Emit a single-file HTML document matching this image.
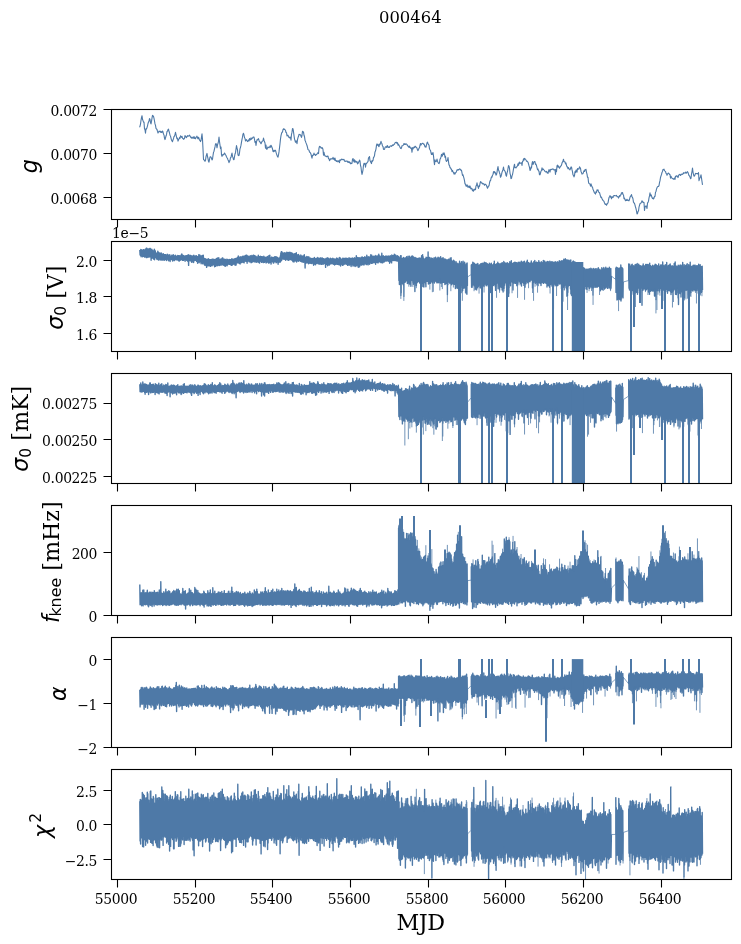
<!DOCTYPE html><html><head><meta charset="utf-8"><style>html,body{margin:0;padding:0;background:#fff}svg{display:block}</style></head><body><svg width="741" height="944" viewBox="0 0 741 944">
<style>text{font-family:"DejaVu Serif",serif;fill:#000}.t{font-size:13.9px;letter-spacing:-0.35px}.m{font-family:"DejaVu Sans",sans-serif;font-style:italic}.r{font-family:"DejaVu Sans",sans-serif}</style>
<rect width="741" height="944" fill="#fff"/>
<defs>
<clipPath id="c0"><rect x="111.50" y="109.50" width="620.00" height="110.00"/></clipPath>
<clipPath id="c1"><rect x="111.50" y="241.50" width="620.00" height="110.00"/></clipPath>
<clipPath id="c2"><rect x="111.50" y="373.50" width="620.00" height="110.00"/></clipPath>
<clipPath id="c3"><rect x="111.50" y="505.50" width="620.00" height="110.00"/></clipPath>
<clipPath id="c4"><rect x="111.50" y="637.50" width="620.00" height="110.00"/></clipPath>
<clipPath id="c5"><rect x="111.50" y="769.50" width="620.00" height="110.00"/></clipPath>
</defs>
<text x="410.3" y="22.9" text-anchor="middle" style="font-size:16.4px">000464</text>
<g clip-path="url(#c0)"><polyline points="139.5,127.3 140.0,126.2 140.5,124.1 141.0,120.3 141.5,117.6 142.0,115.7 142.5,119.3 143.0,120.6 143.5,122.1 144.0,122.0 144.5,129.0 145.0,129.7 145.5,133.1 146.0,128.5 146.5,129.0 147.0,127.6 147.5,125.8 148.0,123.5 148.5,122.0 149.0,121.0 149.5,118.5 150.0,119.3 150.5,122.7 151.0,123.9 151.5,121.4 152.0,118.2 152.5,115.4 153.0,115.8 153.5,116.4 154.0,118.4 154.5,121.0 155.0,123.9 155.5,125.4 156.0,128.4 156.5,129.0 157.0,129.5 157.5,131.4 158.0,133.0 158.5,132.0 159.0,131.2 159.5,131.6 160.0,131.2 160.5,132.3 161.0,131.4 161.5,132.5 162.0,132.3 162.5,131.0 163.0,132.1 163.5,134.2 164.0,135.0 164.5,138.2 165.0,139.6 165.5,137.8 166.0,136.0 166.5,134.7 167.0,131.5 167.5,131.2 168.0,129.6 168.5,129.1 169.0,131.5 169.5,132.8 170.0,135.2 170.5,136.1 171.0,138.1 171.5,140.0 172.0,140.9 172.5,141.7 173.0,139.8 173.5,138.7 174.0,136.5 174.5,136.2 175.0,134.4 175.5,132.4 176.0,134.6 176.5,136.8 177.0,138.8 177.5,138.1 178.0,141.1 178.5,140.1 179.0,138.9 179.5,137.6 180.0,138.4 180.5,135.9 181.0,136.5 181.5,137.3 182.0,136.3 182.5,138.2 183.0,138.5 183.5,139.3 184.0,139.0 184.5,138.4 185.0,135.6 185.5,136.3 186.0,137.1 186.5,137.6 187.0,136.6 187.5,135.7 188.0,136.3 188.5,136.0 189.0,135.7 189.5,135.2 190.0,135.9 190.5,136.9 191.0,137.6 191.5,138.1 192.0,137.1 192.5,137.6 193.0,138.5 193.5,137.5 194.0,136.5 194.5,138.4 195.0,137.8 195.5,138.8 196.0,137.3 196.5,136.9 197.0,136.1 197.5,138.0 198.0,138.8 198.5,137.2 199.0,138.3 199.5,140.2 200.0,140.2 200.5,141.6 201.0,140.6 201.5,137.1 202.0,133.8 202.5,139.4 203.0,149.0 203.5,159.5 204.0,159.8 204.5,160.4 205.0,161.3 205.5,160.3 206.0,156.7 206.5,155.0 207.0,153.4 207.5,156.5 208.0,158.6 208.5,161.3 209.0,162.1 209.5,159.3 210.0,157.0 210.5,156.7 211.0,157.1 211.5,158.3 212.0,159.9 212.5,159.1 213.0,155.5 213.5,152.4 214.0,151.2 214.5,148.9 215.0,146.9 215.5,144.0 216.0,143.6 216.5,144.7 217.0,147.8 217.5,144.8 218.0,143.3 218.5,141.4 219.0,137.1 219.5,141.5 220.0,145.0 220.5,148.6 221.0,147.0 221.5,154.9 222.0,156.4 222.5,154.7 223.0,155.2 223.5,154.3 224.0,154.4 224.5,153.0 225.0,153.7 225.5,154.7 226.0,155.5 226.5,156.7 227.0,157.7 227.5,158.5 228.0,159.9 228.5,160.8 229.0,162.6 229.5,161.4 230.0,160.3 230.5,157.5 231.0,157.5 231.5,154.9 232.0,153.1 232.5,156.4 233.0,157.6 233.5,159.6 234.0,159.6 234.5,156.6 235.0,154.0 235.5,152.7 236.0,149.1 236.5,145.5 237.0,148.1 237.5,149.8 238.0,155.0 238.5,155.6 239.0,155.4 239.5,152.8 240.0,148.8 240.5,147.3 241.0,145.2 241.5,142.2 242.0,139.4 242.5,137.2 243.0,134.0 243.5,133.3 244.0,135.0 244.5,137.6 245.0,138.5 245.5,141.0 246.0,140.0 246.5,139.6 247.0,140.7 247.5,141.6 248.0,141.1 248.5,140.0 249.0,140.9 249.5,138.5 250.0,140.0 250.5,139.8 251.0,137.9 251.5,139.3 252.0,138.2 252.5,138.1 253.0,137.3 253.5,137.0 254.0,137.1 254.5,139.4 255.0,142.4 255.5,141.5 256.0,145.5 256.5,142.0 257.0,139.7 257.5,140.0 258.0,139.1 258.5,138.7 259.0,140.4 259.5,141.8 260.0,141.9 260.5,142.7 261.0,143.8 261.5,142.7 262.0,141.4 262.5,141.3 263.0,140.6 263.5,138.0 264.0,140.2 264.5,141.8 265.0,143.0 265.5,148.1 266.0,145.0 266.5,149.3 267.0,149.2 267.5,148.1 268.0,146.9 268.5,147.5 269.0,147.8 269.5,147.0 270.0,146.1 270.5,147.3 271.0,145.2 271.5,146.2 272.0,147.5 272.5,148.8 273.0,151.5 273.5,151.7 274.0,150.3 274.5,151.2 275.0,150.2 275.5,150.3 276.0,152.2 276.5,153.9 277.0,155.3 277.5,156.6 278.0,157.1 278.5,154.9 279.0,151.9 279.5,147.9 280.0,143.7 280.5,138.9 281.0,135.6 281.5,133.7 282.0,132.2 282.5,132.1 283.0,129.5 283.5,128.8 284.0,129.5 284.5,129.1 285.0,129.8 285.5,130.5 286.0,132.5 286.5,132.5 287.0,135.9 287.5,135.3 288.0,135.2 288.5,136.9 289.0,137.4 289.5,137.8 290.0,136.9 290.5,138.0 291.0,140.2 291.5,134.3 292.0,132.2 292.5,128.6 293.0,128.8 293.5,131.7 294.0,135.6 294.5,138.8 295.0,140.6 295.5,142.3 296.0,140.8 296.5,141.6 297.0,143.6 297.5,139.6 298.0,137.6 298.5,136.3 299.0,134.3 299.5,134.6 300.0,134.8 300.5,134.8 301.0,136.2 301.5,137.4 302.0,135.3 302.5,131.3 303.0,131.6 303.5,132.2 304.0,135.3 304.5,136.7 305.0,140.2 305.5,141.3 306.0,142.9 306.5,144.1 307.0,145.5 307.5,147.4 308.0,149.6 308.5,149.9 309.0,150.2 309.5,152.2 310.0,152.3 310.5,153.0 311.0,154.2 311.5,156.3 312.0,158.2 312.5,155.3 313.0,155.5 313.5,154.9 314.0,153.1 314.5,154.6 315.0,154.9 315.5,155.5 316.0,154.2 316.5,154.6 317.0,154.0 317.5,153.6 318.0,152.6 318.5,153.6 319.0,148.1 319.5,146.3 320.0,147.0 320.5,146.8 321.0,148.0 321.5,147.7 322.0,148.5 322.5,147.8 323.0,149.6 323.5,155.2 324.0,152.4 324.5,154.8 325.0,155.9 325.5,156.3 326.0,156.1 326.5,156.8 327.0,156.7 327.5,156.1 328.0,156.1 328.5,158.6 329.0,158.6 329.5,160.6 330.0,159.9 330.5,159.0 331.0,158.6 331.5,159.0 332.0,158.9 332.5,158.9 333.0,157.3 333.5,159.1 334.0,158.3 334.5,160.2 335.0,158.0 335.5,160.6 336.0,160.5 336.5,161.5 337.0,160.7 337.5,161.2 338.0,161.9 338.5,160.9 339.0,160.8 339.5,162.6 340.0,159.7 340.5,160.4 341.0,159.8 341.5,159.2 342.0,159.6 342.5,159.3 343.0,159.8 343.5,159.5 344.0,159.4 344.5,161.1 345.0,161.0 345.5,161.4 346.0,161.2 346.5,161.0 347.0,161.0 347.5,161.4 348.0,162.5 348.5,162.2 349.0,161.4 349.5,162.8 350.0,162.3 350.5,163.8 351.0,163.2 351.5,163.6 352.0,163.2 352.5,159.2 353.0,158.5 353.5,160.6 354.0,161.9 354.5,159.7 355.0,162.4 355.5,161.0 356.0,161.5 356.5,162.1 357.0,161.6 357.5,163.9 358.0,163.5 358.5,162.3 359.0,161.6 359.5,160.1 360.0,161.1 360.5,165.5 361.0,167.2 361.5,171.7 362.0,174.4 362.5,172.3 363.0,169.8 363.5,165.3 364.0,163.4 364.5,164.1 365.0,163.3 365.5,167.2 366.0,163.9 366.5,163.5 367.0,162.9 367.5,161.9 368.0,161.7 368.5,157.7 369.0,157.5 369.5,156.6 370.0,160.7 370.5,161.3 371.0,162.7 371.5,163.6 372.0,160.5 372.5,161.3 373.0,160.5 373.5,157.4 374.0,157.0 374.5,155.6 375.0,151.9 375.5,151.0 376.0,148.8 376.5,145.3 377.0,143.9 377.5,145.2 378.0,144.2 378.5,146.1 379.0,146.7 379.5,144.1 380.0,144.6 380.5,143.1 381.0,141.4 381.5,143.0 382.0,143.8 382.5,146.1 383.0,146.4 383.5,149.3 384.0,149.5 384.5,149.3 385.0,147.6 385.5,146.8 386.0,146.9 386.5,147.4 387.0,146.0 387.5,145.6 388.0,147.5 388.5,147.4 389.0,146.9 389.5,147.4 390.0,146.2 390.5,145.9 391.0,145.7 391.5,146.3 392.0,145.9 392.5,144.9 393.0,145.5 393.5,145.1 394.0,144.2 394.5,144.3 395.0,142.9 395.5,142.5 396.0,142.4 396.5,142.3 397.0,143.5 397.5,142.7 398.0,145.2 398.5,144.3 399.0,145.3 399.5,146.3 400.0,147.2 400.5,148.3 401.0,148.6 401.5,147.9 402.0,145.7 402.5,145.8 403.0,145.5 403.5,144.7 404.0,143.5 404.5,144.5 405.0,143.9 405.5,144.5 406.0,143.8 406.5,144.1 407.0,144.5 407.5,145.8 408.0,146.0 408.5,146.5 409.0,147.4 409.5,146.1 410.0,147.2 410.5,148.2 411.0,147.7 411.5,148.7 412.0,152.3 412.5,147.6 413.0,149.0 413.5,147.8 414.0,147.2 414.5,147.7 415.0,146.3 415.5,146.4 416.0,147.3 416.5,147.3 417.0,148.3 417.5,149.9 418.0,150.6 418.5,149.5 419.0,148.3 419.5,147.6 420.0,145.1 420.5,143.5 421.0,145.1 421.5,144.1 422.0,143.5 422.5,143.4 423.0,143.4 423.5,144.1 424.0,144.0 424.5,145.4 425.0,146.9 425.5,146.1 426.0,147.2 426.5,145.2 427.0,142.8 427.5,142.1 428.0,143.5 428.5,144.4 429.0,145.2 429.5,148.8 430.0,149.8 430.5,150.3 431.0,152.9 431.5,154.5 432.0,153.0 432.5,154.4 433.0,152.6 433.5,155.9 434.0,160.9 434.5,164.8 435.0,159.9 435.5,161.4 436.0,161.6 436.5,161.1 437.0,159.1 437.5,161.4 438.0,162.3 438.5,163.3 439.0,163.6 439.5,162.7 440.0,159.0 440.5,158.7 441.0,156.9 441.5,154.3 442.0,156.3 442.5,155.7 443.0,153.1 443.5,154.5 444.0,152.8 444.5,154.2 445.0,157.4 445.5,156.3 446.0,160.6 446.5,161.5 447.0,160.8 447.5,160.0 448.0,157.6 448.5,161.6 449.0,165.1 449.5,165.3 450.0,167.7 450.5,167.8 451.0,169.1 451.5,169.0 452.0,171.7 452.5,170.5 453.0,171.7 453.5,172.4 454.0,174.0 454.5,172.8 455.0,174.1 455.5,172.9 456.0,172.4 456.5,171.4 457.0,169.8 457.5,170.2 458.0,169.6 458.5,170.0 459.0,169.5 459.5,168.9 460.0,169.2 460.5,169.3 461.0,170.5 461.5,170.4 462.0,172.8 462.5,175.5 463.0,174.8 463.5,176.6 464.0,178.4 464.5,180.7 465.0,183.9 465.5,184.0 466.0,186.1 466.5,186.3 467.0,184.8 467.5,185.8 468.0,187.4 468.5,186.9 469.0,185.9 469.5,187.7 470.0,186.0 470.5,188.0 471.0,189.0 471.5,188.2 472.0,188.7 472.5,190.8 473.0,190.2 473.5,191.2 474.0,189.2 474.5,190.0 475.0,189.0 475.5,189.6 476.0,185.9 476.5,185.5 477.0,182.8 477.5,185.4 478.0,186.8 478.5,188.4 479.0,185.7 479.5,186.4 480.0,183.6 480.5,181.6 481.0,182.0 481.5,183.0 482.0,183.0 482.5,183.5 483.0,184.1 483.5,183.6 484.0,183.9 484.5,185.2 485.0,184.4 485.5,184.2 486.0,184.8 486.5,185.5 487.0,187.1 487.5,188.2 488.0,187.3 488.5,186.0 489.0,186.0 489.5,183.0 490.0,180.9 490.5,180.8 491.0,178.5 491.5,176.8 492.0,177.2 492.5,175.2 493.0,174.5 493.5,171.6 494.0,173.0 494.5,171.6 495.0,172.3 495.5,173.1 496.0,175.2 496.5,174.7 497.0,172.3 497.5,168.8 498.0,166.6 498.5,170.0 499.0,170.9 499.5,172.9 500.0,174.0 500.5,177.3 501.0,176.4 501.5,174.7 502.0,172.2 502.5,171.1 503.0,169.4 503.5,167.1 504.0,170.1 504.5,170.5 505.0,171.3 505.5,172.7 506.0,175.5 506.5,176.2 507.0,172.9 507.5,171.5 508.0,168.5 508.5,165.6 509.0,166.1 509.5,168.5 510.0,173.3 510.5,175.1 511.0,178.6 511.5,178.3 512.0,175.9 512.5,174.6 513.0,172.0 513.5,168.9 514.0,166.4 514.5,164.2 515.0,167.8 515.5,167.6 516.0,167.9 516.5,167.2 517.0,166.4 517.5,165.9 518.0,163.7 518.5,165.3 519.0,162.8 519.5,162.1 520.0,163.6 520.5,163.0 521.0,163.0 521.5,162.8 522.0,165.5 522.5,161.5 523.0,161.2 523.5,158.8 524.0,160.2 524.5,158.4 525.0,158.7 525.5,159.6 526.0,159.9 526.5,161.3 527.0,161.1 527.5,161.8 528.0,162.1 528.5,163.8 529.0,165.7 529.5,167.3 530.0,170.4 530.5,170.0 531.0,167.0 531.5,168.0 532.0,163.6 532.5,161.6 533.0,164.5 533.5,163.3 534.0,161.7 534.5,161.5 535.0,161.8 535.5,164.4 536.0,164.1 536.5,165.7 537.0,167.6 537.5,169.6 538.0,169.0 538.5,170.8 539.0,171.2 539.5,174.8 540.0,174.8 540.5,173.0 541.0,171.1 541.5,170.5 542.0,167.9 542.5,169.9 543.0,169.0 543.5,169.3 544.0,170.0 544.5,170.6 545.0,171.5 545.5,171.9 546.0,171.8 546.5,171.3 547.0,172.7 547.5,172.4 548.0,173.4 548.5,171.4 549.0,169.6 549.5,170.7 550.0,172.1 550.5,169.5 551.0,169.4 551.5,169.6 552.0,169.0 552.5,169.3 553.0,168.9 553.5,169.6 554.0,170.0 554.5,169.7 555.0,169.6 555.5,174.4 556.0,169.2 556.5,171.6 557.0,165.8 557.5,165.2 558.0,167.1 558.5,166.0 559.0,167.0 559.5,168.2 560.0,167.3 560.5,166.4 561.0,165.8 561.5,165.2 562.0,163.1 562.5,162.0 563.0,160.7 563.5,159.2 564.0,161.8 564.5,161.8 565.0,161.8 565.5,163.9 566.0,163.0 566.5,165.3 567.0,166.9 567.5,166.8 568.0,168.8 568.5,167.6 569.0,168.9 569.5,169.2 570.0,169.9 570.5,168.5 571.0,167.0 571.5,167.1 572.0,169.7 572.5,171.8 573.0,174.9 573.5,175.4 574.0,176.9 574.5,175.6 575.0,171.5 575.5,172.6 576.0,170.1 576.5,170.1 577.0,172.3 577.5,168.5 578.0,169.3 578.5,168.9 579.0,169.0 579.5,166.9 580.0,167.6 580.5,168.3 581.0,171.4 581.5,172.5 582.0,174.1 582.5,173.7 583.0,173.7 583.5,172.1 584.0,170.8 584.5,171.5 585.0,169.6 585.5,170.0 586.0,169.3 586.5,172.3 587.0,174.2 587.5,177.3 588.0,177.2 588.5,182.2 589.0,183.6 589.5,183.8 590.0,184.1 590.5,186.1 591.0,183.8 591.5,185.4 592.0,186.9 592.5,187.0 593.0,189.5 593.5,190.3 594.0,191.8 594.5,193.0 595.0,193.2 595.5,194.1 596.0,191.7 596.5,192.3 597.0,189.8 597.5,190.4 598.0,189.9 598.5,191.7 599.0,192.4 599.5,192.5 600.0,194.3 600.5,196.2 601.0,197.5 601.5,197.1 602.0,198.9 602.5,199.4 603.0,200.5 603.5,200.9 604.0,201.4 604.5,203.2 605.0,204.0 605.5,204.5 606.0,203.9 606.5,205.3 607.0,204.3 607.5,203.3 608.0,202.8 608.5,200.1 609.0,197.6 609.5,196.8 610.0,195.6 610.5,197.2 611.0,196.6 611.5,198.8 612.0,196.9 612.5,197.0 613.0,197.5 613.5,195.7 614.0,195.8 614.5,195.5 615.0,195.7 615.5,195.7 616.0,195.8 616.5,195.4 617.0,196.6 617.5,196.7 618.0,196.6 618.5,198.1 619.0,197.1 619.5,195.6 620.0,196.4 620.5,194.8 621.0,194.8 621.5,192.7 622.0,193.2 622.5,192.5 623.0,194.6 623.5,194.9 624.0,198.8 624.5,198.2 625.0,199.5 625.5,200.7 626.0,199.9 626.5,200.5 627.0,199.2 627.5,200.4 628.0,200.1 628.5,200.8 629.0,200.7 629.5,199.3 630.0,197.3 630.5,196.2 631.0,195.8 631.5,194.6 632.0,196.8 632.5,197.3 633.0,199.0 633.5,202.3 634.0,203.0 634.5,203.3 635.0,205.2 635.5,207.0 636.0,208.6 636.5,211.0 637.0,214.0 637.5,213.6 638.0,211.4 638.5,211.0 639.0,207.2 639.5,205.4 640.0,203.7 640.5,203.3 641.0,203.1 641.5,202.2 642.0,200.8 642.5,201.6 643.0,202.5 643.5,202.3 644.0,202.5 644.5,210.5 645.0,206.7 645.5,206.6 646.0,205.9 646.5,206.7 647.0,208.5 647.5,203.1 648.0,202.4 648.5,201.2 649.0,197.9 649.5,195.9 650.0,192.8 650.5,195.9 651.0,194.7 651.5,195.8 652.0,197.5 652.5,198.6 653.0,197.9 653.5,199.0 654.0,198.2 654.5,196.4 655.0,196.5 655.5,192.3 656.0,191.4 656.5,189.1 657.0,187.7 657.5,186.8 658.0,186.6 658.5,186.4 659.0,185.6 659.5,182.6 660.0,180.7 660.5,177.5 661.0,175.9 661.5,174.5 662.0,172.4 662.5,171.4 663.0,169.5 663.5,169.7 664.0,169.2 664.5,170.6 665.0,171.1 665.5,171.4 666.0,173.3 666.5,173.6 667.0,175.3 667.5,174.0 668.0,173.4 668.5,173.0 669.0,173.6 669.5,174.4 670.0,174.5 670.5,178.2 671.0,176.2 671.5,177.4 672.0,178.3 672.5,178.4 673.0,178.8 673.5,179.2 674.0,179.1 674.5,178.0 675.0,179.4 675.5,176.2 676.0,176.7 676.5,175.8 677.0,175.7 677.5,176.5 678.0,177.6 678.5,175.8 679.0,174.7 679.5,174.6 680.0,174.3 680.5,175.4 681.0,174.8 681.5,174.3 682.0,174.0 682.5,174.4 683.0,173.8 683.5,172.7 684.0,173.3 684.5,172.9 685.0,172.6 685.5,172.2 686.0,173.4 686.5,172.4 687.0,172.3 687.5,171.7 688.0,172.5 688.5,174.1 689.0,175.5 689.5,175.9 690.0,176.9 690.5,178.7 691.0,178.3 691.5,174.2 692.0,171.5 692.5,168.1 693.0,172.1 693.5,174.5 694.0,176.1 694.5,176.0 695.0,174.8 695.5,173.5 696.0,173.4 696.5,173.6 697.0,173.6 697.5,173.5 698.0,174.0 698.5,172.6 699.0,180.6 699.5,178.8 700.0,177.8 700.5,176.7 701.0,174.8 701.5,178.2 702.0,181.5 702.5,184.9" fill="none" stroke="#4e79a7" stroke-width="1.10" stroke-linejoin="round"/></g>
<g clip-path="url(#c1)"><polyline points="139.8,249.9 140.1,255.0 140.3,250.7 140.6,255.5 140.8,249.5 141.1,256.7 141.3,249.6 141.6,255.6 141.8,250.8 142.1,255.3 142.3,250.3 142.6,256.7 142.8,250.1 143.1,255.3 143.3,249.8 143.6,256.2 143.8,249.7 144.1,256.4 144.3,250.3 144.6,257.1 144.8,250.3 145.1,256.1 145.3,249.1 145.6,256.5 145.8,249.1 146.1,257.6 146.3,248.3 146.6,256.9 146.8,248.3 147.1,257.5 147.3,248.7 147.6,255.8 147.8,249.8 148.1,257.0 148.3,249.0 148.6,257.0 148.8,249.6 149.1,257.0 149.3,248.8 149.6,256.9 149.8,248.5 150.1,256.8 150.3,248.5 150.6,256.9 150.8,249.3 151.1,260.3 151.3,250.3 151.6,256.9 151.8,249.1 152.1,258.2 152.3,251.1 152.6,257.5 152.8,250.5 153.1,257.6 153.3,251.4 153.6,259.1 153.8,251.2 154.1,258.5 154.3,249.3 154.6,259.7 154.8,250.1 155.1,257.3 155.3,251.0 155.6,257.6 155.8,252.8 156.1,257.7 156.3,253.5 156.6,258.8 156.8,253.3 157.1,259.5 157.3,253.0 157.6,258.9 157.8,251.3 158.1,259.0 158.3,252.9 158.6,260.1 158.8,252.5 159.1,258.3 159.3,253.6 159.6,258.7 159.8,253.3 160.1,260.0 160.3,253.3 160.6,259.7 160.8,254.1 161.1,259.9 161.3,253.0 161.6,258.3 161.8,253.8 162.1,260.3 162.3,254.3 162.6,259.0 162.8,254.2 163.1,259.6 163.3,253.7 163.6,258.2 163.8,255.2 164.1,260.4 164.3,254.7 164.6,258.4 164.8,254.8 165.1,259.8 165.3,254.6 165.6,258.7 165.8,254.8 166.1,259.4 166.3,255.3 166.6,260.5 166.8,255.5 167.1,258.9 167.3,254.2 167.6,258.5 167.8,255.3 168.1,259.7 168.3,255.1 168.6,260.8 168.8,254.9 169.1,258.8 169.3,255.7 169.6,259.1 169.8,254.7 170.1,261.5 170.3,255.9 170.6,259.8 170.8,256.4 171.1,259.1 171.3,256.5 171.6,259.2 171.8,255.1 172.1,259.8 172.3,256.6 172.6,261.0 172.8,255.3 173.1,259.0 173.3,254.8 173.6,258.7 173.8,256.6 174.1,260.6 174.3,256.0 174.6,260.5 174.8,256.1 175.1,259.6 175.3,255.3 175.6,259.3 175.8,256.0 176.1,258.9 176.3,256.1 176.6,259.9 176.8,256.7 177.1,259.8 177.3,256.0 177.6,259.8 177.8,255.4 178.1,260.2 178.3,256.4 178.6,259.6 178.8,255.6 179.1,261.3 179.3,257.0 179.6,259.9 179.8,255.8 180.1,260.4 180.3,255.9 180.6,259.8 180.8,255.6 181.1,259.6 181.3,254.8 181.6,259.2 181.8,253.9 182.1,260.0 182.3,255.9 182.6,260.4 182.8,255.2 183.1,260.0 183.3,256.1 183.6,260.3 183.8,255.6 184.1,259.2 184.3,256.3 184.6,259.3 184.8,256.2 185.1,261.2 185.3,256.4 185.6,259.3 185.8,255.8 186.1,259.5 186.3,255.6 186.6,260.3 186.8,256.7 187.1,260.4 187.3,255.5 187.6,261.1 187.8,255.1 188.1,260.1 188.3,254.8 188.6,265.4 188.8,255.9 189.1,260.5 189.3,256.6 189.6,260.3 189.8,255.1 190.1,260.7 190.3,256.5 190.6,260.9 190.8,255.5 191.1,259.6 191.3,256.0 191.6,262.3 191.8,256.0 192.1,260.3 192.3,256.4 192.6,259.9 192.8,256.2 193.1,262.3 193.3,255.5 193.6,262.5 193.8,255.2 194.1,260.2 194.3,256.0 194.6,260.5 194.8,256.3 195.1,260.2 195.3,256.0 195.6,260.4 195.8,256.1 196.1,260.5 196.3,255.6 196.6,261.4 196.8,256.7 197.1,261.2 197.3,256.5 197.6,263.2 197.8,256.7 198.1,261.1 198.3,256.6 198.6,261.5 198.8,254.6 199.1,262.8 199.3,255.4 199.6,261.4 199.8,255.0 200.1,261.7 200.3,255.8 200.6,261.3 200.8,256.2 201.1,263.7 201.3,256.0 201.6,261.3 201.8,256.3 202.1,261.9 202.3,255.5 202.6,263.8 202.8,256.1 203.1,262.0 203.3,255.2 203.6,262.5 203.8,258.0 204.1,264.2 204.3,259.6 204.6,265.1 204.8,258.6 205.1,264.9 205.3,258.8 205.6,265.2 205.8,259.3 206.1,265.4 206.3,259.3 206.6,267.4 206.8,259.9 207.1,266.2 207.3,259.4 207.6,265.2 207.8,259.2 208.1,265.4 208.3,258.6 208.6,265.7 208.8,259.9 209.1,266.0 209.3,259.4 209.6,265.5 209.8,259.7 210.1,264.3 210.3,259.7 210.6,266.4 210.8,259.6 211.1,265.3 211.3,259.4 211.6,264.9 211.8,260.3 212.1,265.8 212.3,259.2 212.6,264.9 212.8,259.1 213.1,264.7 213.3,259.2 213.6,264.5 213.8,260.1 214.1,265.0 214.3,259.5 214.6,266.7 214.8,259.8 215.1,265.3 215.3,260.0 215.6,266.4 215.8,259.1 216.1,265.0 216.3,258.6 216.6,264.9 216.8,259.6 217.1,265.8 217.3,258.0 217.6,264.1 217.8,259.4 218.1,265.6 218.3,257.9 218.6,264.7 218.8,257.7 219.1,265.0 219.3,260.3 219.6,265.5 219.8,260.0 220.1,263.9 220.3,259.2 220.6,264.7 220.8,259.9 221.1,265.3 221.3,259.0 221.6,264.1 221.8,259.8 222.1,264.0 222.3,257.9 222.6,264.8 222.8,258.0 223.1,265.0 223.3,260.4 223.6,264.1 223.8,259.2 224.1,265.4 224.3,260.3 224.6,265.1 224.8,259.2 225.1,266.4 225.3,259.4 225.6,265.9 225.8,260.6 226.1,264.2 226.3,260.2 226.6,264.5 226.8,259.3 227.1,265.8 227.3,260.0 227.6,264.6 227.8,259.4 228.1,264.0 228.3,260.0 228.6,263.8 228.8,260.7 229.1,264.2 229.3,259.5 229.6,264.4 229.8,260.5 230.1,264.2 230.3,259.7 230.6,264.1 230.8,259.8 231.1,265.2 231.3,260.6 231.6,264.9 231.8,258.8 232.1,265.3 232.3,260.2 232.6,263.8 232.8,259.3 233.1,264.2 233.3,259.7 233.6,264.0 233.8,259.1 234.1,264.1 234.3,259.2 234.6,263.1 234.8,258.8 235.1,265.2 235.3,258.5 235.6,262.5 235.8,258.7 236.1,265.1 236.3,258.6 236.6,262.8 236.8,258.2 237.1,262.4 237.3,257.5 237.6,262.7 237.8,257.9 238.1,262.8 238.3,256.0 238.6,262.9 238.8,257.5 239.1,263.3 239.3,257.3 239.6,262.1 239.8,257.2 240.1,264.0 240.3,257.3 240.6,262.7 240.8,256.8 241.1,262.3 241.3,257.8 241.6,262.6 241.8,257.0 242.1,261.6 242.3,257.4 242.6,261.6 242.8,256.1 243.1,262.4 243.3,257.0 243.6,261.6 243.8,256.1 244.1,262.9 244.3,256.6 244.6,260.1 244.8,256.0 245.1,261.1 245.3,255.5 245.6,260.7 245.8,256.1 246.1,261.4 246.3,255.1 246.6,260.3 246.8,255.3 247.1,263.3 247.3,255.6 247.6,261.2 247.8,256.3 248.1,260.4 248.3,257.1 248.6,260.9 248.8,256.2 249.1,261.7 249.3,257.0 249.6,260.6 249.8,256.8 250.1,261.9 250.3,255.6 250.6,260.7 250.8,256.1 251.1,262.7 251.3,256.9 251.6,261.3 251.8,255.4 252.1,262.3 252.3,256.8 252.6,261.6 252.8,256.8 253.1,261.5 253.3,255.1 253.6,261.5 253.8,255.3 254.1,260.9 254.3,256.3 254.6,261.5 254.8,255.7 255.1,262.1 255.3,256.7 255.6,261.0 255.8,256.2 256.1,261.5 256.3,256.8 256.6,262.2 256.8,256.9 257.1,262.1 257.3,257.6 257.6,261.1 257.8,256.8 258.1,260.4 258.3,255.2 258.6,262.2 258.8,256.8 259.1,262.6 259.3,256.7 259.6,263.1 259.8,257.3 260.1,261.0 260.3,256.2 260.6,260.8 260.8,257.5 261.1,261.4 261.3,256.7 261.6,262.4 261.8,256.8 262.1,260.9 262.3,256.6 262.6,261.3 262.8,257.4 263.1,262.5 263.3,257.1 263.6,262.5 263.8,256.3 264.1,261.5 264.3,256.9 264.6,262.3 264.8,257.4 265.1,261.2 265.3,257.6 265.6,261.3 265.8,257.1 266.1,263.0 266.3,257.5 266.6,261.6 266.8,257.3 267.1,262.2 267.3,256.4 267.6,261.4 267.8,258.0 268.1,261.7 268.3,257.6 268.6,263.1 268.8,255.8 269.1,261.5 269.3,258.1 269.6,262.8 269.8,255.1 270.1,262.3 270.3,257.8 270.6,261.1 270.8,258.1 271.1,264.1 271.3,257.6 271.6,261.6 271.8,257.0 272.1,261.0 272.3,257.4 272.6,261.0 272.8,257.6 273.1,262.8 273.3,257.6 273.6,263.1 273.8,257.9 274.1,262.2 274.3,256.9 274.6,261.2 274.8,256.7 275.1,261.2 275.3,257.9 275.6,261.7 275.8,256.7 276.1,262.8 276.3,257.5 276.6,262.2 276.8,256.9 277.1,261.9 277.3,257.6 277.6,261.6 277.8,257.8 278.1,264.2 278.3,258.3 278.6,262.2 278.8,258.8 279.1,262.1 279.3,258.0 279.6,261.9 279.8,258.4 280.1,262.2 280.3,256.0 280.6,261.5 280.8,253.0 281.1,259.5 281.3,251.7 281.6,260.5 281.8,251.6 282.1,259.3 282.3,253.2 282.6,258.7 282.8,253.0 283.1,258.9 283.3,253.2 283.6,259.0 283.8,253.3 284.1,259.4 284.3,252.8 284.6,258.5 284.8,253.1 285.1,258.9 285.3,253.0 285.6,260.3 285.8,253.1 286.1,259.7 286.3,253.4 286.6,259.1 286.8,252.3 287.1,259.0 287.3,252.4 287.6,259.6 287.8,253.0 288.1,260.2 288.3,252.4 288.6,260.3 288.8,253.4 289.1,259.9 289.3,252.5 289.6,258.9 289.8,252.2 290.1,259.6 290.3,252.5 290.6,259.6 290.8,253.0 291.1,259.2 291.3,253.4 291.6,260.0 291.8,252.7 292.1,260.1 292.3,254.0 292.6,260.9 292.8,253.7 293.1,261.8 293.3,254.4 293.6,259.7 293.8,254.2 294.1,261.9 294.3,253.8 294.6,260.4 294.8,254.4 295.1,261.0 295.3,253.8 295.6,260.6 295.8,253.6 296.1,260.8 296.3,252.8 296.6,262.0 296.8,255.5 297.1,260.7 297.3,254.9 297.6,260.4 297.8,255.0 298.1,261.0 298.3,254.4 298.6,261.2 298.8,255.0 299.1,260.8 299.3,255.7 299.6,260.5 299.8,256.1 300.1,260.4 300.3,256.2 300.6,261.2 300.8,255.0 301.1,260.9 301.3,255.7 301.6,261.8 301.8,256.5 302.1,261.6 302.3,256.5 302.6,261.2 302.8,255.9 303.1,262.4 303.3,255.9 303.6,262.1 303.8,255.6 304.1,262.1 304.3,254.6 304.6,261.8 304.8,256.7 305.1,268.1 305.3,257.2 305.6,263.4 305.8,257.5 306.1,261.2 306.3,257.1 306.6,262.8 306.8,256.4 307.1,261.9 307.3,256.7 307.6,262.8 307.8,257.2 308.1,262.3 308.3,257.1 308.6,263.7 308.8,256.8 309.1,262.3 309.3,257.8 309.6,262.6 309.8,258.1 310.1,263.4 310.3,258.3 310.6,262.7 310.8,258.1 311.1,263.1 311.3,258.7 311.6,263.5 311.8,258.8 312.1,262.5 312.3,258.8 312.6,262.9 312.8,258.5 313.1,263.7 313.3,258.7 313.6,265.2 313.8,258.5 314.1,262.9 314.3,257.4 314.6,263.5 314.8,259.1 315.1,264.5 315.3,258.5 315.6,264.8 315.8,259.5 316.1,263.4 316.3,258.8 316.6,263.4 316.8,258.1 317.1,263.1 317.3,258.9 317.6,262.8 317.8,257.4 318.1,263.7 318.3,258.8 318.6,263.0 318.8,258.6 319.1,264.0 319.3,258.1 319.6,263.2 319.8,258.8 320.1,264.1 320.3,259.2 320.6,264.0 320.8,257.7 321.1,263.7 321.3,258.3 321.6,264.4 321.8,258.5 322.1,263.3 322.3,257.9 322.6,264.0 322.8,258.4 323.1,263.1 323.3,259.1 323.6,264.1 323.8,258.6 324.1,262.8 324.3,259.7 324.6,263.3 324.8,259.3 325.1,263.2 325.3,258.9 325.6,267.4 325.8,259.3 326.1,263.6 326.3,258.1 326.6,264.2 326.8,258.4 327.1,263.0 327.3,259.0 327.6,265.7 327.8,257.6 328.1,263.5 328.3,259.1 328.6,263.9 328.8,258.7 329.1,265.3 329.3,259.1 329.6,264.5 329.8,259.3 330.1,263.6 330.3,258.2 330.6,263.9 330.8,258.4 331.1,263.8 331.3,260.0 331.6,262.9 331.8,258.9 332.1,263.6 332.3,258.7 332.6,263.7 332.8,258.3 333.1,263.7 333.3,259.5 333.6,264.2 333.8,258.9 334.1,264.3 334.3,258.9 334.6,265.0 334.8,259.2 335.1,264.2 335.3,259.1 335.6,263.8 335.8,259.6 336.1,264.2 336.3,258.8 336.6,264.1 336.8,258.0 337.1,264.1 337.3,258.6 337.6,264.4 337.8,258.7 338.1,264.2 338.3,259.7 338.6,263.4 338.8,259.7 339.1,264.9 339.3,257.5 339.6,264.0 339.8,258.5 340.1,264.7 340.3,258.0 340.6,266.0 340.8,259.1 341.1,263.5 341.3,259.3 341.6,263.8 341.8,259.3 342.1,264.6 342.3,259.8 342.6,265.4 342.8,258.1 343.1,264.6 343.3,258.4 343.6,264.8 343.8,258.4 344.1,264.0 344.3,258.4 344.6,263.7 344.8,259.5 345.1,264.1 345.3,258.3 345.6,263.8 345.8,258.4 346.1,263.8 346.3,258.3 346.6,264.2 346.8,259.6 347.1,263.7 347.3,258.4 347.6,265.4 347.8,259.2 348.1,264.1 348.3,259.2 348.6,264.5 348.8,258.0 349.1,265.2 349.3,258.6 349.6,264.8 349.8,257.9 350.1,263.9 350.3,258.4 350.6,264.9 350.8,258.9 351.1,266.5 351.3,258.4 351.6,264.3 351.8,258.6 352.1,264.8 352.3,257.9 352.6,264.1 352.8,258.6 353.1,266.1 353.3,258.6 353.6,265.0 353.8,258.8 354.1,264.4 354.3,257.8 354.6,265.7 354.8,259.0 355.1,266.5 355.3,258.1 355.6,266.0 355.8,258.6 356.1,264.5 356.3,255.7 356.6,265.7 356.8,258.1 357.1,264.2 357.3,257.5 357.6,264.8 357.8,258.2 358.1,267.0 358.3,257.7 358.6,267.2 358.8,258.1 359.1,264.3 359.3,257.6 359.6,266.7 359.8,258.1 360.1,264.4 360.3,258.5 360.6,264.6 360.8,257.7 361.1,265.2 361.3,257.3 361.6,264.9 361.8,257.4 362.1,264.5 362.3,257.0 362.6,264.6 362.8,258.1 363.1,264.8 363.3,257.7 363.6,264.9 363.8,257.8 364.1,264.9 364.3,257.8 364.6,263.7 364.8,256.6 365.1,263.5 365.3,257.7 365.6,263.5 365.8,257.4 366.1,264.5 366.3,257.6 366.6,264.5 366.8,255.2 367.1,263.7 367.3,257.7 367.6,263.5 367.8,257.1 368.1,264.9 368.3,256.6 368.6,263.3 368.8,257.6 369.1,262.7 369.3,257.1 369.6,264.2 369.8,257.0 370.1,262.4 370.3,256.1 370.6,262.8 370.8,254.8 371.1,263.3 371.3,257.0 371.6,261.9 371.8,255.2 372.1,263.2 372.3,257.0 372.6,263.1 372.8,256.7 373.1,262.7 373.3,256.5 373.6,262.6 373.8,256.2 374.1,262.1 374.3,256.1 374.6,262.6 374.8,256.5 375.1,262.6 375.3,256.4 375.6,264.3 375.8,255.5 376.1,262.2 376.3,256.1 376.6,262.0 376.8,256.7 377.1,262.5 377.3,256.2 377.6,262.4 377.8,256.7 378.1,262.9 378.3,255.1 378.6,261.9 378.8,254.3 379.1,261.8 379.3,256.1 379.6,260.7 379.8,255.9 380.1,261.8 380.3,256.9 380.6,262.3 380.8,256.6 381.1,262.7 381.3,256.3 381.6,262.4 381.8,253.2 382.1,261.6 382.3,256.2 382.6,262.9 382.8,256.3 383.1,262.0 383.3,255.8 383.6,261.3 383.8,256.4 384.1,262.0 384.3,256.6 384.6,261.5 384.8,256.5 385.1,260.8 385.3,256.3 385.6,260.9 385.8,256.3 386.1,261.1 386.3,256.2 386.6,260.7 386.8,256.3 387.1,260.1 387.3,256.8 387.6,260.7 387.8,256.1 388.1,260.9 388.3,256.4 388.6,261.2 388.8,256.0 389.1,260.5 389.3,256.5 389.6,263.3 389.8,256.4 390.1,260.2 390.3,255.8 390.6,261.9 390.8,256.5 391.1,260.2 391.3,256.6 391.6,262.9 391.8,255.0 392.1,260.2 392.3,256.3 392.6,260.1 392.8,255.7 393.1,260.6 393.3,255.6 393.6,260.3 393.8,256.5 394.1,260.2 394.3,254.2 394.6,260.3 394.8,256.2 395.1,260.7 395.3,255.0 395.6,260.2 395.8,255.3 396.1,259.0 396.3,256.2 396.6,260.6 396.8,256.6 397.1,261.3 397.3,255.7 397.6,260.6 397.8,256.0 398.1,259.8 398.3,256.4 398.6,259.6 398.6,258.7 398.9,280.5 399.1,257.9 399.4,284.5 399.6,257.9 399.9,281.4 400.1,256.8 400.4,284.4 400.6,255.6 400.9,295.2 401.1,255.6 401.4,282.9 401.6,258.6 401.9,282.1 402.1,259.2 402.4,283.7 402.6,258.3 402.9,282.7 403.1,258.0 403.4,284.9 403.6,257.4 403.9,296.2 404.1,258.6 404.4,280.7 404.6,259.0 404.9,282.3 405.1,258.0 405.4,282.0 405.6,258.0 405.9,280.5 406.1,258.6 406.4,279.7 406.6,256.6 406.9,281.1 407.1,258.2 407.4,283.6 407.6,259.1 407.9,282.5 408.1,256.1 408.4,281.6 408.6,258.4 408.9,283.6 409.1,258.5 409.4,284.1 409.6,256.1 409.9,284.1 410.1,258.3 410.4,280.5 410.6,257.4 410.9,286.3 411.1,257.3 411.4,279.3 411.6,256.2 411.9,280.4 412.1,257.8 412.4,280.7 412.6,255.9 412.9,282.5 413.1,258.0 413.4,284.3 413.6,257.0 413.9,282.1 414.1,257.6 414.4,282.1 414.6,258.0 414.9,291.5 415.1,257.5 415.4,281.0 415.6,258.0 415.9,283.2 416.1,258.0 416.4,285.6 416.6,258.5 416.9,283.0 417.1,258.7 417.4,282.3 417.6,258.4 417.9,281.2 418.1,258.5 418.4,281.3 418.6,258.1 418.9,280.0 419.1,258.3 419.4,282.5 419.6,258.0 419.9,283.3 420.1,258.4 420.4,279.2 420.6,258.2 420.9,280.6 421.1,258.2 421.4,282.3 421.6,255.6 421.9,283.2 422.1,257.8 422.4,282.0 422.6,254.6 422.9,286.6 423.1,256.8 423.4,279.5 423.6,258.4 423.9,287.0 424.1,258.7 424.4,282.5 424.6,259.4 424.9,282.1 425.1,259.6 425.4,282.7 425.6,258.5 425.9,286.8 426.1,257.3 426.4,279.6 426.6,259.2 426.9,281.3 427.1,257.8 427.4,280.5 427.6,258.6 427.9,281.4 428.1,251.9 428.4,284.1 428.6,257.3 428.9,283.5 429.1,257.5 429.4,283.6 429.6,257.5 429.9,281.9 430.1,259.6 430.4,283.3 430.6,259.3 430.9,281.7 431.1,258.0 431.4,279.6 431.6,258.2 431.9,281.7 432.1,260.1 432.4,282.9 432.6,258.5 432.9,282.0 433.1,259.7 433.4,280.1 433.6,259.7 433.9,279.2 434.1,257.6 434.4,283.1 434.6,259.9 434.9,280.5 435.1,258.6 435.4,279.5 435.6,257.2 435.9,281.5 436.1,259.3 436.4,281.3 436.6,259.2 436.9,282.4 437.1,258.1 437.4,282.5 437.6,258.1 437.9,280.5 438.1,257.1 438.4,282.6 438.6,258.8 438.9,282.8 439.1,257.9 439.4,280.4 439.6,259.4 439.9,278.5 440.1,257.8 440.4,283.0 440.6,256.6 440.9,282.0 441.1,259.0 441.4,283.1 441.6,259.7 441.9,280.3 442.1,258.1 442.4,282.5 442.6,258.7 442.9,279.6 443.1,257.7 443.4,282.2 443.6,259.0 443.9,281.8 444.1,260.0 444.4,282.3 444.6,259.0 444.9,284.5 445.1,259.7 445.4,279.5 445.6,259.2 445.9,283.7 446.1,259.9 446.4,281.2 446.6,260.8 446.9,282.7 447.1,259.6 447.4,294.6 447.6,260.5 447.9,284.8 448.1,260.1 448.4,281.7 448.6,259.2 448.9,281.0 449.1,260.2 449.4,282.5 449.6,259.6 449.9,283.6 450.1,258.2 450.4,282.4 450.6,261.2 450.9,282.2 451.1,257.8 451.4,284.8 451.6,260.3 451.9,282.3 452.1,261.9 452.4,283.7 452.6,261.6 452.9,281.5 453.1,261.0 453.4,283.8 453.6,260.2 453.9,284.3 454.1,262.3 454.4,284.4 454.6,261.1 454.9,283.9 455.1,263.5 455.4,288.5 455.6,263.2 455.9,281.6 456.1,261.7 456.4,282.3 456.6,263.2 456.9,288.0 457.1,263.2 457.4,288.3 457.6,263.8 457.9,285.1 458.1,264.5 458.4,286.8 458.6,264.0 458.9,283.9 459.1,263.1 459.4,294.5 459.6,261.2 459.9,288.7 460.1,263.0 460.4,283.5 460.6,264.2 460.9,285.4 461.1,263.3 461.4,285.2 461.6,261.8 461.9,287.2 462.1,265.0 462.4,290.9 462.6,264.2 462.9,287.1 463.1,261.3 463.4,286.8 463.6,264.3 463.9,288.4 464.1,263.4 464.4,285.3 464.6,262.2 464.9,287.6 465.1,265.2 465.4,286.2 465.6,265.6 465.9,293.1 466.1,264.0 466.4,285.7 466.6,264.7 466.9,294.2 467.1,262.9 467.4,285.4 467.4,277.0" fill="none" stroke="#4e79a7" stroke-width="1.40" stroke-linejoin="round"/><polyline points="471.3,274.5 471.3,264.9 471.6,287.2 471.8,264.4 472.1,284.9 472.3,264.5 472.6,285.0 472.8,262.1 473.1,283.8 473.3,265.9 473.6,284.9 473.8,263.0 474.1,285.7 474.3,263.3 474.6,283.7 474.8,264.9 475.1,289.5 475.3,264.6 475.6,288.4 475.8,264.1 476.1,285.6 476.3,265.9 476.6,289.9 476.8,264.1 477.1,284.8 477.3,264.4 477.6,287.8 477.8,263.4 478.1,285.5 478.3,265.0 478.6,286.0 478.8,265.2 479.1,284.5 479.3,265.9 479.6,283.9 479.8,264.6 480.1,287.8 480.3,264.4 480.6,285.0 480.8,263.8 481.1,288.0 481.3,264.9 481.6,284.5 481.8,263.4 482.1,286.6 482.3,265.5 482.6,285.4 482.8,263.1 483.1,285.4 483.3,264.8 483.6,285.6 483.8,263.4 484.1,286.6 484.3,262.2 484.6,284.2 484.8,264.4 485.1,282.5 485.3,262.7 485.6,283.9 485.8,263.0 486.1,284.8 486.3,262.9 486.6,285.2 486.8,265.7 487.1,284.1 487.3,263.6 487.6,284.6 487.8,265.0 488.1,284.6 488.3,264.7 488.6,285.3 488.8,265.6 489.1,286.3 489.3,263.1 489.6,283.3 489.8,263.8 490.1,283.9 490.3,264.4 490.6,292.5 490.8,264.8 491.1,284.6 491.3,263.3 491.6,285.4 491.8,264.5 492.1,286.1 492.3,264.9 492.6,283.0 492.8,264.9 493.1,284.2 493.3,264.8 493.6,285.6 493.8,263.4 494.1,284.5 494.3,261.2 494.6,283.3 494.8,264.7 495.1,284.5 495.3,264.5 495.6,290.4 495.8,264.6 496.1,283.8 496.3,264.3 496.6,283.5 496.8,263.7 497.1,282.2 497.3,264.1 497.6,282.0 497.8,262.2 498.1,288.7 498.3,264.4 498.6,283.7 498.8,263.7 499.1,282.5 499.3,265.0 499.6,290.1 499.8,263.9 500.1,283.4 500.3,264.0 500.6,286.0 500.8,264.0 501.1,287.3 501.3,263.1 501.6,283.7 501.8,264.4 502.1,290.1 502.3,262.6 502.6,282.8 502.8,264.8 503.1,292.0 503.3,263.7 503.6,282.0 503.8,261.4 504.1,288.3 504.3,262.4 504.6,285.2 504.8,264.5 505.1,282.4 505.3,263.7 505.6,282.8 505.8,263.0 506.1,281.5 506.3,264.0 506.6,288.1 506.8,263.4 507.1,282.0 507.3,262.7 507.6,284.2 507.8,263.9 508.1,285.8 508.3,264.5 508.6,296.4 508.8,263.5 509.1,287.6 509.3,264.2 509.6,282.1 509.8,261.7 510.1,283.3 510.3,263.0 510.6,285.8 510.8,262.1 511.1,281.8 511.3,260.6 511.6,281.9 511.8,263.2 512.0,281.4 512.3,264.0 512.5,280.1 512.8,263.4 513.0,290.1 513.3,262.9 513.5,282.2 513.8,262.8 514.0,283.0 514.3,264.0 514.5,283.1 514.8,262.1 515.0,283.1 515.3,263.6 515.5,283.4 515.8,262.5 516.0,282.0 516.3,262.7 516.5,282.4 516.8,262.6 517.0,285.7 517.3,263.5 517.5,283.5 517.8,263.4 518.0,282.7 518.3,262.3 518.5,279.8 518.8,262.7 519.0,280.4 519.3,262.8 519.5,281.7 519.8,262.1 520.0,280.1 520.3,263.3 520.5,283.5 520.8,264.1 521.0,282.3 521.3,261.1 521.5,286.0 521.8,263.1 522.0,282.7 522.3,262.1 522.5,282.1 522.8,263.1 523.0,280.7 523.3,262.0 523.5,283.3 523.8,263.4 524.0,283.4 524.3,261.3 524.5,281.3 524.8,263.8 525.0,287.3 525.3,263.3 525.5,281.0 525.8,263.6 526.0,283.8 526.3,261.9 526.5,281.5 526.8,262.9 527.0,280.3 527.3,260.2 527.5,282.2 527.8,262.2 528.0,282.9 528.3,262.8 528.5,279.4 528.8,262.8 529.0,279.9 529.3,263.2 529.5,281.5 529.8,263.8 530.0,281.8 530.3,263.4 530.5,280.3 530.8,262.8 531.0,278.3 531.3,260.9 531.5,280.1 531.8,262.9 532.0,279.1 532.3,263.1 532.5,287.9 532.8,263.3 533.0,278.0 533.3,263.3 533.5,282.6 533.8,261.7 534.0,278.8 534.3,263.3 534.5,280.8 534.8,260.5 535.0,282.9 535.3,262.4 535.5,283.3 535.8,263.4 536.0,282.3 536.3,262.1 536.5,282.0 536.8,262.3 537.0,285.1 537.3,262.5 537.5,283.3 537.8,262.7 538.0,280.1 538.3,262.5 538.5,282.5 538.8,260.6 539.0,281.2 539.3,262.6 539.5,282.6 539.8,262.4 540.0,283.3 540.3,262.9 540.5,281.8 540.8,263.8 541.0,285.6 541.3,261.7 541.5,281.5 541.8,262.4 542.0,282.5 542.3,262.6 542.5,282.1 542.8,264.0 543.0,282.6 543.3,260.4 543.5,283.4 543.8,262.8 544.0,281.9 544.3,261.0 544.5,282.1 544.8,261.2 545.0,282.8 545.3,262.7 545.5,282.4 545.8,263.2 546.0,283.3 546.3,262.3 546.5,283.0 546.8,261.9 547.0,287.1 547.3,261.4 547.5,284.0 547.8,262.9 548.0,285.2 548.3,261.7 548.5,284.6 548.8,262.9 549.0,285.4 549.3,262.9 549.5,287.0 549.8,261.1 550.0,283.0 550.3,262.0 550.5,284.6 550.8,262.0 551.0,283.3 551.3,261.7 551.5,283.1 551.8,262.4 552.0,284.5 552.3,263.0 552.5,283.8 552.8,261.8 553.0,285.9 553.3,263.0 553.5,284.8 553.8,262.8 554.0,283.2 554.3,262.7 554.5,282.1 554.8,261.9 555.0,284.9 555.3,261.7 555.5,283.0 555.8,262.2 556.0,285.4 556.3,262.6 556.5,283.2 556.8,262.7 557.0,285.9 557.3,261.7 557.5,284.2 557.8,263.2 558.0,285.3 558.3,262.1 558.5,282.8 558.8,261.9 559.0,282.9 559.3,260.8 559.5,284.0 559.8,263.0 560.0,283.1 560.3,261.6 560.5,281.8 560.8,261.3 561.0,284.3 561.3,261.5 561.5,288.7 561.8,260.6 562.0,283.7 562.3,261.0 562.5,284.3 562.8,262.6 563.0,282.6 563.3,260.4 563.5,287.3 563.8,259.3 564.0,285.6 564.3,259.6 564.5,285.8 564.8,260.0 565.0,284.9 565.3,258.8 565.5,283.4 565.8,261.1 566.0,287.5 566.3,260.6 566.5,288.7 566.8,259.7 567.0,284.3 567.3,261.5 567.5,295.7 567.8,260.2 568.0,287.1 568.3,261.3 568.5,286.0 568.8,260.3 569.0,283.8 569.3,261.2 569.5,285.2 569.8,262.1 570.0,284.4 570.3,260.1 570.5,289.0 570.8,260.0 571.0,287.2 571.3,262.5 571.5,295.2 571.8,263.1 572.0,283.0 572.3,263.0 572.5,284.6 572.8,261.4 573.0,286.0 573.3,260.9 573.5,283.2 573.8,263.5 574.0,285.5 574.3,262.3 574.5,281.8 574.8,261.8 575.0,284.9 575.3,263.9 575.5,287.0 575.8,264.8 576.0,284.5 576.3,263.4 576.5,287.5 576.8,264.1 577.0,286.4 577.3,264.4 577.5,285.6 577.8,266.0 578.0,283.8 578.3,266.0 578.5,284.2 578.8,263.5 579.0,284.5 579.3,266.1 579.5,286.7 579.8,267.3 580.0,286.0 580.3,267.2 580.5,285.4 580.8,267.4 581.0,286.1 581.3,266.7 581.5,287.1 581.8,268.0 582.0,286.4 582.3,267.7 582.5,286.0 582.8,267.7 583.0,283.5 583.3,268.0 583.5,284.7 583.8,267.7 584.0,286.4 584.3,268.9 584.5,286.1 584.8,268.8 585.0,284.4 585.3,270.0 585.5,286.4 585.8,270.8 586.0,288.9 586.3,269.2 586.5,286.8 586.8,270.0 587.0,289.4 587.3,269.3 587.5,285.9 587.8,270.4 588.0,286.6 588.3,269.2 588.5,285.3 588.8,269.0 589.0,288.1 589.3,268.8 589.5,288.6 589.8,269.7 590.0,287.8 590.3,269.6 590.5,286.2 590.8,268.2 591.0,285.6 591.3,269.1 591.5,287.1 591.8,268.9 592.0,285.9 592.3,270.7 592.5,288.1 592.8,269.9 593.0,294.9 593.3,268.5 593.5,287.7 593.8,269.4 594.0,284.4 594.3,269.1 594.5,284.2 594.8,269.5 595.0,287.2 595.3,268.8 595.5,285.7 595.8,270.1 596.0,287.1 596.3,270.1 596.5,287.0 596.8,268.6 597.0,285.7 597.3,270.8 597.5,287.0 597.8,269.9 598.0,285.2 598.3,267.7 598.5,285.0 598.8,269.9 599.0,286.4 599.3,270.0 599.5,286.7 599.8,269.1 600.0,287.9 600.3,269.9 600.5,290.8 600.8,270.2 601.0,284.5 601.3,270.2 601.5,289.0 601.8,267.8 602.0,288.1 602.3,268.9 602.5,289.8 602.8,269.0 603.0,287.4 603.3,269.9 603.5,285.1 603.8,267.4 604.0,283.9 604.3,269.1 604.5,289.1 604.8,268.9 605.0,286.7 605.3,270.2 605.5,288.0 605.8,267.1 606.0,285.6 606.3,270.2 606.5,286.4 606.8,268.8 607.0,287.5 607.3,268.3 607.5,288.4 607.8,268.6 608.0,284.7 608.3,268.8 608.5,285.4 608.8,270.0 609.0,288.0 609.3,267.2 609.5,287.5 609.8,268.6 610.0,286.0 610.3,270.6 610.5,289.3 610.8,268.5 611.0,288.2 611.4,276.1" fill="none" stroke="#4e79a7" stroke-width="1.40" stroke-linejoin="round"/><polyline points="615.8,279.5 615.8,268.1 616.0,292.4 616.3,267.1 616.5,292.5 616.8,268.5 617.0,300.1 617.3,267.7 617.5,295.2 617.8,268.7 618.0,299.3 618.3,268.1 618.5,295.8 618.8,269.0 619.0,298.8 619.3,268.6 619.5,297.0 619.8,267.9 620.0,299.2 620.3,268.6 620.5,299.8 620.8,264.9 621.0,301.1 621.3,269.2 621.5,296.3 621.8,267.5 622.0,296.9 622.3,268.0 622.5,296.4 622.8,268.8 623.0,297.9 623.2,282.0" fill="none" stroke="#4e79a7" stroke-width="1.40" stroke-linejoin="round"/><polyline points="628.7,280.5 628.7,264.0 629.0,288.2 629.2,266.2 629.5,290.1 629.7,264.2 630.0,287.2 630.2,266.4 630.5,287.8 630.7,266.2 631.0,288.0 631.2,265.8 631.5,288.4 631.7,264.8 632.0,290.7 632.2,264.3 632.5,290.2 632.7,265.9 633.0,287.8 633.2,265.9 633.5,293.2 633.7,265.7 634.0,292.6 634.2,266.9 634.5,289.1 634.7,266.0 635.0,293.2 635.2,264.5 635.5,291.6 635.7,266.3 636.0,289.1 636.2,264.7 636.5,292.3 636.7,265.8 637.0,289.8 637.2,263.4 637.5,294.3 637.7,265.2 638.0,287.8 638.2,267.1 638.5,288.1 638.7,264.3 639.0,288.1 639.2,265.2 639.5,290.4 639.7,265.6 640.0,289.3 640.2,266.5 640.5,288.0 640.7,265.8 641.0,287.9 641.2,266.7 641.5,288.0 641.7,266.5 642.0,305.3 642.2,266.0 642.5,288.7 642.7,265.9 643.0,290.3 643.2,263.9 643.5,288.2 643.7,266.2 644.0,288.4 644.2,265.8 644.5,286.9 644.7,266.4 645.0,289.4 645.2,266.5 645.5,290.6 645.7,264.4 646.0,289.9 646.2,264.7 646.5,289.6 646.7,264.4 647.0,288.1 647.2,266.8 647.5,288.7 647.7,264.5 648.0,287.7 648.2,264.9 648.5,292.0 648.7,266.0 649.0,289.3 649.2,264.3 649.5,294.3 649.7,263.1 650.0,286.9 650.2,266.2 650.5,291.3 650.7,265.8 651.0,289.9 651.2,266.6 651.5,290.5 651.7,266.5 652.0,288.6 652.2,266.3 652.5,291.0 652.7,265.3 653.0,289.4 653.2,267.7 653.5,290.9 653.7,266.1 654.0,291.3 654.2,265.8 654.5,295.6 654.7,265.2 655.0,290.7 655.2,264.1 655.5,288.9 655.7,266.0 656.0,299.5 656.2,264.7 656.5,289.4 656.7,265.8 657.0,290.6 657.2,265.8 657.5,289.2 657.7,267.3 658.0,290.8 658.2,265.8 658.5,288.1 658.7,264.0 659.0,288.2 659.2,266.1 659.5,290.7 659.7,266.3 660.0,288.6 660.2,266.0 660.5,286.9 660.7,265.0 661.0,288.5 661.2,265.2 661.5,290.4 661.7,266.6 662.0,301.4 662.2,264.5 662.5,289.4 662.7,261.9 663.0,288.2 663.2,266.0 663.5,290.1 663.7,267.0 664.0,290.3 664.2,265.2 664.5,287.4 664.7,266.5 665.0,291.1 665.2,267.0 665.5,288.5 665.7,264.7 666.0,289.2 666.2,265.2 666.5,287.7 666.7,262.4 667.0,291.5 667.2,267.0 667.5,293.2 667.7,267.0 668.0,290.6 668.2,265.6 668.5,288.1 668.7,266.5 669.0,290.6 669.2,265.0 669.5,290.5 669.7,266.6 670.0,289.1 670.2,263.9 670.5,291.8 670.7,265.4 671.0,294.6 671.2,266.1 671.5,289.7 671.7,266.7 672.0,292.4 672.2,266.0 672.5,288.9 672.7,265.9 673.0,291.3 673.2,266.4 673.5,289.9 673.7,266.9 674.0,288.3 674.2,263.5 674.5,289.1 674.7,265.7 675.0,288.7 675.2,261.9 675.5,294.3 675.7,267.5 676.0,290.2 676.2,266.1 676.5,294.5 676.7,266.3 677.0,287.4 677.2,266.6 677.5,288.4 677.7,267.0 678.0,292.4 678.2,265.1 678.5,304.6 678.7,266.2 679.0,292.3 679.2,265.9 679.5,288.8 679.7,266.0 680.0,293.5 680.2,265.0 680.5,289.0 680.7,266.6 681.0,297.0 681.2,265.2 681.5,290.5 681.7,266.4 682.0,291.9 682.2,266.2 682.5,289.8 682.7,262.5 683.0,291.2 683.2,266.9 683.5,290.9 683.7,267.0 684.0,288.0 684.2,264.8 684.5,297.7 684.7,267.0 685.0,289.1 685.2,266.3 685.5,287.4 685.7,265.5 686.0,290.4 686.2,265.0 686.5,289.4 686.7,264.8 687.0,289.6 687.2,263.7 687.5,289.6 687.7,267.3 688.0,289.7 688.2,266.5 688.5,295.0 688.7,264.8 689.0,291.6 689.2,265.9 689.5,291.3 689.7,267.1 690.0,295.7 690.2,262.1 690.5,289.4 690.7,267.0 691.0,292.5 691.2,266.5 691.5,289.8 691.7,266.4 692.0,289.3 692.2,266.4 692.5,290.8 692.7,265.9 693.0,291.1 693.2,265.2 693.5,289.6 693.7,266.5 694.0,289.6 694.2,265.1 694.5,289.0 694.7,265.5 695.0,290.7 695.2,265.3 695.5,289.6 695.7,266.5 696.0,290.3 696.2,266.6 696.5,290.5 696.7,265.7 697.0,288.8 697.2,266.1 697.5,288.0 697.7,265.8 698.0,290.6 698.2,265.5 698.5,290.0 698.7,264.3 699.0,288.2 699.2,265.8 699.5,292.9 699.7,266.7 700.0,293.4 700.2,264.7 700.5,291.2 700.7,266.7 701.0,289.3 701.2,266.8 701.5,292.4 701.7,267.6 702.0,291.2 702.2,266.2 702.5,290.1" fill="none" stroke="#4e79a7" stroke-width="1.40" stroke-linejoin="round"/><path d="M467.4 277.0L471.3 274.5M611.4 276.1L615.8 279.5M623.2 282.0L628.7 280.5" stroke="#4e79a7" stroke-width="0.7" fill="none"/><path d="M400.85 295.2V298.9M401.35 282.9V293.2M403.85 296.2V300.9M407.35 283.6V284.0M408.85 283.6V286.7M410.35 280.5V282.6M411.35 279.3V279.4M412.85 282.5V286.9M413.85 282.1V282.5M416.35 285.6V288.2M421.85 283.2V286.6M425.35 282.7V284.5M429.85 281.9V289.6M432.35 282.9V292.2M433.35 280.1V291.8M436.85 282.4V283.6M439.85 278.5V290.5M441.35 283.1V287.0M442.35 282.5V289.1M447.35 294.6V302.1M450.85 282.2V291.2M451.85 282.3V282.4M453.35 283.8V287.5M455.85 281.6V287.1M460.85 285.4V293.3M461.35 285.2V293.1M461.85 287.2V287.7M462.35 290.9V300.8M462.85 287.1V291.0M464.85 287.6V288.0M465.35 286.2V292.8M466.35 285.7V291.3M472.55 285.0V287.8M474.05 285.7V291.2M478.55 286.0V287.1M479.05 284.5V293.6M479.55 283.9V285.2M483.05 285.4V287.1M483.55 285.6V285.7M484.05 286.6V292.5M485.05 282.5V285.6M486.05 284.8V286.3M487.05 284.1V286.6M489.55 283.3V286.0M492.05 286.1V310.1M492.55 283.0V283.8M495.05 284.5V286.7M496.05 283.8V287.1M496.55 283.5V297.8M499.55 290.1V292.8M500.05 283.4V287.2M501.55 283.7V284.9M504.05 288.3V291.4M506.05 281.5V281.5M507.55 284.2V298.5M509.05 287.6V293.6M509.55 282.1V282.6M512.05 281.4V293.2M512.55 280.1V282.9M516.55 282.4V285.7M517.55 283.5V297.9M518.05 282.7V285.3M520.05 280.1V285.3M523.55 283.3V286.0M524.55 281.3V299.8M528.55 279.4V288.2M532.55 287.9V293.0M533.55 282.6V300.8M535.05 282.9V286.7M537.55 283.3V292.7M538.55 282.5V286.2M548.55 284.6V286.4M549.55 287.0V287.6M550.05 283.0V293.5M551.55 283.1V286.6M553.55 284.8V308.8M554.55 282.1V284.0M555.05 284.9V286.6M556.55 283.2V296.0M561.55 288.7V300.7M562.55 284.3V301.2M563.05 282.6V301.7M564.05 285.6V290.3M564.55 285.8V290.4M566.55 288.7V296.8M567.55 295.7V310.0M568.05 287.1V292.8M569.05 283.8V285.3M570.55 289.0V294.3M572.05 283.0V296.3M573.05 286.0V288.2M573.55 283.2V290.7M575.05 284.9V292.6M575.55 287.0V289.7M577.05 286.4V292.1M578.55 284.2V293.2M582.05 286.4V301.2M583.05 283.5V284.9M584.05 286.4V291.0M587.05 289.4V292.9M589.05 288.1V291.2M591.55 287.1V291.0M593.05 294.9V304.9M594.55 284.2V285.7M598.05 285.2V287.0M598.55 285.0V285.3M599.55 286.7V295.0M601.05 284.5V284.8M602.05 288.1V290.0M603.55 285.1V290.8M604.55 289.1V289.3M610.55 289.3V291.1M618.55 295.8V311.1M619.55 297.0V300.2M621.55 296.3V299.6M631.95 290.7V294.8M634.45 289.1V296.4M635.45 291.6V307.0M637.95 287.8V293.0M638.95 288.1V288.3M643.45 288.2V289.8M645.45 290.6V292.1M646.95 288.1V288.1M647.95 287.7V295.0M650.95 289.9V291.3M652.95 289.4V289.5M653.95 291.3V291.4M654.45 295.6V296.6M654.95 290.7V296.9M655.45 288.9V296.4M655.95 299.5V313.4M656.95 290.6V310.0M657.95 290.8V294.7M659.45 290.7V292.7M659.95 288.6V295.7M662.45 289.4V293.1M663.95 290.3V300.9M671.45 289.7V290.9M672.45 288.9V307.5M673.45 289.9V302.0M673.95 288.3V290.8M676.95 287.4V293.4M677.95 292.4V298.4M683.45 290.9V300.9M684.45 297.7V300.4M685.95 290.4V299.4M686.95 289.6V291.0M687.45 289.6V298.7M690.95 292.5V296.9M693.95 289.6V289.8M695.45 289.6V292.9M696.45 290.5V303.5M697.95 290.6V293.6M699.45 292.9V297.8M700.45 291.2V295.5M700.95 289.3V291.3M701.95 291.2V296.2" stroke="#4e79a7" stroke-width="0.8" fill="none"/><path d="M421.0 280.0V356.5M459.0 280.0V356.5M460.0 280.0V356.5M482.0 280.0V356.5M489.0 280.0V356.5M492.0 280.0V356.5M507.0 280.0V356.5M553.0 280.0V356.5M562.0 280.0V356.5M584.0 280.0V356.5M631.0 280.0V356.5M665.0 280.0V356.5M683.0 280.0V356.5M689.0 280.0V356.5M699.0 280.0V356.5M634.0 280.0V327.0M640.0 280.0V303.0M662.0 280.0V309.0" stroke="#4e79a7" stroke-width="2.00" fill="none"/><rect x="571.8" y="262.0" width="11.5" height="94.5" fill="#4e79a7"/></g>
<g clip-path="url(#c2)"><polyline points="139.8,384.2 140.1,391.6 140.3,384.9 140.6,391.7 140.8,383.0 141.1,391.7 141.3,384.6 141.6,391.0 141.8,385.4 142.1,392.1 142.3,385.1 142.6,391.2 142.8,382.0 143.1,391.3 143.3,384.1 143.6,391.3 143.8,384.9 144.1,390.5 144.3,383.9 144.6,392.5 144.8,384.3 145.1,394.2 145.3,384.3 145.6,391.5 145.8,384.1 146.1,392.4 146.3,386.1 146.6,392.2 146.8,384.7 147.1,391.7 147.3,385.1 147.6,390.8 147.8,385.1 148.1,392.1 148.3,385.0 148.6,394.5 148.8,386.1 149.1,391.0 149.3,385.7 149.6,391.8 149.8,383.0 150.1,391.0 150.3,383.0 150.6,392.9 150.8,386.4 151.1,391.4 151.3,384.7 151.6,391.2 151.8,385.4 152.1,392.6 152.3,384.4 152.6,392.0 152.8,385.2 153.1,392.2 153.3,384.2 153.6,392.3 153.8,386.2 154.1,391.5 154.3,386.3 154.6,391.0 154.8,385.3 155.1,394.6 155.3,383.7 155.6,390.8 155.8,385.8 156.1,392.2 156.3,384.6 156.6,391.5 156.8,384.5 157.1,392.7 157.3,386.2 157.6,391.9 157.8,385.5 158.1,393.0 158.3,385.0 158.6,391.2 158.8,383.2 159.1,393.9 159.3,386.5 159.6,392.0 159.8,386.5 160.1,391.6 160.3,385.3 160.6,391.8 160.8,384.4 161.1,392.4 161.3,387.2 161.6,390.8 161.8,383.7 162.1,391.9 162.3,386.0 162.6,392.3 162.8,387.2 163.1,391.6 163.3,385.9 163.6,391.0 163.8,385.0 164.1,392.1 164.3,385.7 164.6,392.1 164.8,385.9 165.1,393.3 165.3,385.5 165.6,392.9 165.8,384.4 166.1,392.5 166.3,384.7 166.6,393.4 166.8,385.8 167.1,395.6 167.3,385.5 167.6,391.9 167.8,383.0 168.1,392.1 168.3,387.2 168.6,391.5 168.8,386.9 169.1,391.3 169.3,386.3 169.6,391.5 169.8,386.8 170.1,396.8 170.3,386.0 170.6,391.8 170.8,386.1 171.1,391.7 171.3,385.0 171.6,392.7 171.8,386.5 172.1,392.5 172.3,385.5 172.6,394.1 172.8,386.6 173.1,393.3 173.3,385.2 173.6,392.2 173.8,385.3 174.1,393.1 174.3,385.4 174.6,392.0 174.8,386.9 175.1,393.0 175.3,386.1 175.6,392.2 175.8,386.6 176.1,392.3 176.3,385.9 176.6,394.7 176.8,385.7 177.1,391.8 177.3,385.8 177.6,391.7 177.8,384.6 178.1,391.4 178.3,386.4 178.6,392.7 178.8,386.6 179.1,392.5 179.3,386.7 179.6,392.9 179.8,386.3 180.1,392.8 180.3,386.2 180.6,392.6 180.8,386.1 181.1,394.5 181.3,385.9 181.6,393.9 181.8,386.1 182.1,391.1 182.3,386.8 182.6,392.4 182.8,386.2 183.1,392.7 183.3,384.5 183.6,393.4 183.8,386.6 184.1,392.3 184.3,383.6 184.6,392.3 184.8,387.1 185.1,391.2 185.3,386.2 185.6,392.4 185.8,386.6 186.1,392.5 186.3,386.5 186.6,391.6 186.8,386.1 187.1,392.8 187.3,386.3 187.6,391.6 187.8,386.7 188.1,391.5 188.3,386.7 188.6,392.0 188.8,386.9 189.1,391.4 189.3,385.2 189.6,392.0 189.8,386.4 190.1,392.5 190.3,386.7 190.6,391.1 190.8,384.6 191.1,393.9 191.3,386.7 191.6,395.4 191.8,387.2 192.1,392.7 192.3,385.3 192.6,391.7 192.8,385.1 193.1,391.3 193.3,386.2 193.6,392.5 193.8,386.2 194.1,393.6 194.3,387.3 194.6,392.7 194.8,384.8 195.1,391.2 195.3,386.8 195.6,391.8 195.8,385.9 196.1,391.6 196.3,386.5 196.6,393.3 196.8,386.6 197.1,392.6 197.3,386.5 197.6,392.7 197.8,385.2 198.1,395.4 198.3,385.2 198.6,392.6 198.8,387.0 199.1,391.4 199.3,386.0 199.6,392.8 199.8,387.2 200.1,394.5 200.3,385.7 200.6,391.6 200.8,386.3 201.1,391.4 201.3,386.1 201.6,391.1 201.8,386.6 202.1,391.1 202.3,386.0 202.6,392.7 202.8,386.8 203.1,390.8 203.3,385.4 203.6,393.7 203.8,385.6 204.1,391.7 204.3,383.8 204.6,391.8 204.8,386.2 205.1,392.8 205.3,384.2 205.6,390.5 205.8,385.0 206.1,391.4 206.3,386.6 206.6,391.3 206.8,385.9 207.1,392.5 207.3,386.8 207.6,391.2 207.8,385.7 208.1,391.5 208.3,384.8 208.6,393.7 208.8,385.4 209.1,392.0 209.3,386.7 209.6,391.2 209.8,385.5 210.1,393.1 210.3,385.6 210.6,392.8 210.8,384.4 211.1,391.3 211.3,386.3 211.6,391.6 211.8,386.3 212.1,393.1 212.3,382.7 212.6,390.4 212.8,386.4 213.1,390.9 213.3,386.8 213.6,391.6 213.8,385.8 214.1,392.5 214.3,386.8 214.6,392.6 214.8,384.8 215.1,391.5 215.3,385.4 215.6,392.2 215.8,385.8 216.1,393.3 216.3,386.5 216.6,391.8 216.8,386.4 217.1,391.3 217.3,385.8 217.6,391.2 217.8,385.5 218.1,391.1 218.3,386.0 218.6,391.4 218.8,384.4 219.1,391.0 219.3,384.7 219.6,391.8 219.8,382.6 220.1,391.4 220.3,385.4 220.6,391.9 220.8,383.9 221.1,391.7 221.3,385.7 221.6,392.1 221.8,386.7 222.1,393.3 222.3,385.7 222.6,391.4 222.8,385.5 223.1,391.2 223.3,386.2 223.6,391.3 223.8,385.7 224.1,389.9 224.3,385.6 224.6,393.2 224.8,384.2 225.1,393.1 225.3,384.8 225.6,390.1 225.8,386.1 226.1,391.7 226.3,385.5 226.6,390.7 226.8,385.4 227.1,390.3 227.3,386.2 227.6,391.1 227.8,384.0 228.1,390.4 228.3,385.2 228.6,391.7 228.8,385.9 229.1,392.5 229.3,386.3 229.6,391.1 229.8,385.9 230.1,391.5 230.3,385.0 230.6,390.8 230.8,385.3 231.1,392.4 231.3,383.8 231.6,391.2 231.8,385.7 232.1,393.5 232.3,383.8 232.6,392.8 232.8,380.5 233.1,390.7 233.3,383.5 233.6,391.1 233.8,383.1 234.1,393.8 234.3,385.5 234.6,392.7 234.8,384.2 235.1,391.1 235.3,385.5 235.6,391.7 235.8,385.7 236.1,397.8 236.3,384.9 236.6,390.7 236.8,384.0 237.1,391.6 237.3,385.2 237.6,391.2 237.8,385.3 238.1,390.3 238.3,384.1 238.6,390.9 238.8,383.1 239.1,390.4 239.3,386.0 239.6,391.4 239.8,382.9 240.1,392.5 240.3,385.8 240.6,390.4 240.8,384.5 241.1,391.4 241.3,382.7 241.6,389.9 241.8,383.1 242.1,391.8 242.3,383.8 242.6,390.6 242.8,384.1 243.1,390.4 243.3,383.2 243.6,393.0 243.8,380.6 244.1,391.7 244.3,384.2 244.6,391.1 244.8,384.6 245.1,391.7 245.3,385.7 245.6,392.0 245.8,385.1 246.1,392.5 246.3,385.3 246.6,390.3 246.8,384.2 247.1,391.2 247.3,385.9 247.6,392.2 247.8,385.3 248.1,391.8 248.3,386.0 248.6,391.9 248.8,383.4 249.1,391.0 249.3,384.5 249.6,390.8 249.8,385.3 250.1,392.1 250.3,385.2 250.6,390.4 250.8,385.3 251.1,390.5 251.3,383.9 251.6,391.0 251.8,384.2 252.1,392.5 252.3,385.2 252.6,390.4 252.8,385.5 253.1,390.1 253.3,385.7 253.6,391.3 253.8,385.3 254.1,391.2 254.3,385.3 254.6,392.9 254.8,385.1 255.1,391.6 255.3,385.7 255.6,390.1 255.8,383.7 256.1,390.7 256.3,385.5 256.6,393.7 256.8,384.5 257.1,390.2 257.3,383.7 257.6,390.3 257.8,386.1 258.1,390.6 258.3,385.6 258.6,391.6 258.8,385.6 259.1,390.0 259.3,384.1 259.6,390.4 259.8,383.5 260.1,391.3 260.3,385.4 260.6,390.5 260.8,385.2 261.1,391.6 261.3,384.6 261.6,396.1 261.8,383.5 262.1,390.6 262.3,385.1 262.6,391.3 262.8,385.0 263.1,392.3 263.3,384.7 263.6,394.8 263.8,385.0 264.1,392.2 264.3,383.0 264.6,396.1 264.8,382.6 265.1,390.7 265.3,384.6 265.6,392.1 265.8,384.5 266.1,392.1 266.3,385.8 266.6,389.7 266.8,386.0 267.1,392.3 267.3,384.8 267.6,391.5 267.8,384.9 268.1,390.1 268.3,384.6 268.6,393.4 268.8,384.9 269.1,390.7 269.3,385.9 269.6,390.7 269.8,384.5 270.1,391.2 270.3,385.7 270.6,392.4 270.8,385.3 271.1,390.3 271.3,384.6 271.6,390.5 271.8,385.1 272.1,390.9 272.3,384.7 272.6,392.1 272.8,385.2 273.1,392.2 273.3,384.5 273.6,391.2 273.8,384.1 274.1,391.5 274.3,385.8 274.6,390.6 274.8,385.8 275.1,391.1 275.3,384.7 275.6,391.6 275.8,385.4 276.1,391.6 276.3,384.6 276.6,391.4 276.8,382.9 277.1,391.4 277.3,386.4 277.6,390.9 277.8,384.9 278.1,390.9 278.3,382.7 278.6,390.4 278.8,385.4 279.1,391.9 279.3,383.2 279.6,391.2 279.8,384.7 280.1,392.2 280.3,384.3 280.6,389.8 280.8,385.8 281.1,390.0 281.3,385.6 281.6,391.8 281.8,384.6 282.1,391.8 282.3,385.2 282.6,391.3 282.8,385.9 283.1,392.3 283.3,384.5 283.6,391.7 283.8,385.5 284.1,390.3 284.3,383.0 284.6,390.1 284.8,384.8 285.1,392.0 285.3,385.6 285.6,391.4 285.8,381.8 286.1,393.6 286.3,385.9 286.6,392.3 286.8,385.2 287.1,391.0 287.3,383.9 287.6,390.7 287.8,386.6 288.1,392.9 288.3,384.9 288.6,390.5 288.8,383.5 289.1,393.3 289.3,384.8 289.6,391.1 289.8,385.2 290.1,390.7 290.3,385.8 290.6,391.8 290.8,384.4 291.1,393.6 291.3,385.8 291.6,391.6 291.8,385.0 292.1,392.2 292.3,382.7 292.6,396.0 292.8,386.6 293.1,390.5 293.3,382.5 293.6,391.4 293.8,384.7 294.1,391.5 294.3,385.5 294.6,391.7 294.8,385.0 295.1,391.4 295.3,385.5 295.6,392.1 295.8,385.4 296.1,391.6 296.3,384.9 296.6,392.1 296.8,385.3 297.1,391.9 297.3,385.3 297.6,392.3 297.8,386.5 298.1,391.9 298.3,386.0 298.6,392.1 298.8,386.5 299.1,392.5 299.3,383.4 299.6,392.2 299.8,386.1 300.1,391.3 300.3,386.6 300.6,393.8 300.8,386.7 301.1,394.4 301.3,384.4 301.6,393.5 301.8,384.7 302.1,392.7 302.3,386.0 302.6,391.3 302.8,385.9 303.1,393.8 303.3,386.3 303.6,390.7 303.8,385.7 304.1,390.4 304.3,384.8 304.6,391.9 304.8,385.8 305.1,391.8 305.3,385.6 305.6,392.0 305.8,385.5 306.1,394.8 306.3,385.4 306.6,390.6 306.8,386.7 307.1,392.6 307.3,385.5 307.6,392.5 307.8,385.6 308.1,392.1 308.3,385.6 308.6,391.2 308.8,385.1 309.1,392.5 309.3,385.8 309.6,391.2 309.8,381.8 310.1,391.1 310.3,385.8 310.6,391.2 310.8,383.7 311.1,391.9 311.3,385.5 311.6,393.1 311.8,383.3 312.1,391.5 312.3,386.5 312.6,393.3 312.8,384.7 313.1,390.7 313.3,382.8 313.6,392.3 313.8,385.0 314.1,392.7 314.3,383.3 314.6,392.3 314.8,384.7 315.1,391.1 315.3,385.6 315.6,395.3 315.8,384.2 316.1,392.8 316.3,385.8 316.6,394.8 316.8,385.4 317.1,391.5 317.3,383.8 317.6,390.8 317.8,381.7 318.1,390.7 318.3,383.0 318.6,392.4 318.8,384.4 319.1,390.9 319.3,385.6 319.6,390.7 319.8,384.7 320.1,390.4 320.3,384.8 320.6,390.3 320.8,385.6 321.1,393.1 321.3,385.2 321.6,391.2 321.8,384.0 322.1,390.3 322.3,384.2 322.6,390.8 322.8,386.1 323.1,392.6 323.3,384.8 323.6,389.6 323.8,382.7 324.1,390.1 324.3,384.8 324.6,391.9 324.8,384.7 325.1,391.5 325.3,385.0 325.6,391.1 325.8,385.2 326.1,392.2 326.3,385.1 326.6,392.0 326.8,384.9 327.1,390.5 327.3,384.9 327.6,391.6 327.8,383.5 328.1,391.4 328.3,384.9 328.6,390.0 328.8,383.7 329.1,393.4 329.3,384.3 329.6,391.2 329.8,383.9 330.1,390.6 330.3,385.6 330.6,390.4 330.8,383.7 331.1,390.4 331.3,384.0 331.6,391.6 331.8,385.3 332.1,392.5 332.3,386.0 332.6,390.4 332.8,384.5 333.1,391.7 333.3,385.0 333.6,390.1 333.8,383.8 334.1,392.5 334.3,384.5 334.6,389.7 334.8,383.3 335.1,390.0 335.3,384.4 335.6,390.9 335.8,383.5 336.1,390.3 336.3,384.2 336.6,390.1 336.8,383.1 337.1,389.5 337.3,384.6 337.6,390.1 337.8,384.7 338.1,389.6 338.3,384.6 338.6,393.0 338.8,383.8 339.1,390.3 339.3,384.9 339.6,390.3 339.8,385.1 340.1,390.6 340.3,384.4 340.6,389.9 340.8,385.2 341.1,391.8 341.3,384.9 341.6,392.7 341.8,383.6 342.1,390.3 342.3,384.3 342.6,393.4 342.8,383.7 343.1,390.3 343.3,383.4 343.6,389.6 343.8,383.1 344.1,391.2 344.3,384.6 344.6,390.4 344.8,384.2 345.1,391.7 345.3,384.0 345.6,390.0 345.8,383.5 346.1,392.8 346.3,382.6 346.6,390.5 346.8,383.4 347.1,391.0 347.3,380.8 347.6,391.4 347.8,383.8 348.1,391.4 348.3,382.9 348.6,391.3 348.8,383.4 349.1,390.5 349.3,383.3 349.6,389.6 349.8,383.0 350.1,389.1 350.3,383.4 350.6,389.1 350.8,383.0 351.1,389.7 351.3,382.8 351.6,389.6 351.8,383.0 352.1,389.2 352.3,382.2 352.6,389.3 352.8,378.5 353.1,389.9 353.3,381.0 353.6,391.6 353.8,381.8 354.1,389.8 354.3,382.0 354.6,389.0 354.8,382.7 355.1,392.7 355.3,381.7 355.6,388.2 355.8,380.8 356.1,391.1 356.3,380.8 356.6,389.5 356.8,377.9 357.1,389.0 357.3,382.0 357.6,388.6 357.8,380.9 358.1,389.0 358.3,381.9 358.6,390.4 358.8,379.9 359.1,389.3 359.3,378.7 359.6,391.3 359.8,380.8 360.1,389.2 360.3,381.0 360.6,388.9 360.8,380.9 361.1,390.5 361.3,381.0 361.6,388.5 361.8,380.6 362.1,389.9 362.3,379.8 362.6,390.9 362.8,381.2 363.1,388.8 363.3,380.4 363.6,389.2 363.8,380.8 364.1,388.3 364.3,382.1 364.6,388.6 364.8,380.3 365.1,388.7 365.3,382.2 365.6,390.7 365.8,381.8 366.1,390.2 366.3,380.9 366.6,388.5 366.8,380.8 367.1,389.1 367.3,383.1 367.6,388.6 367.8,380.7 368.1,388.9 368.3,381.1 368.6,388.5 368.8,380.0 369.1,388.5 369.3,381.9 369.6,389.0 369.8,383.1 370.1,388.4 370.3,383.3 370.6,390.4 370.8,382.2 371.1,388.1 371.3,383.6 371.6,388.5 371.8,382.8 372.1,388.2 372.3,379.5 372.6,390.3 372.8,383.8 373.1,388.3 373.3,383.0 373.6,388.1 373.8,383.7 374.1,387.9 374.3,384.1 374.6,388.4 374.8,381.9 375.1,388.8 375.3,384.6 375.6,391.4 375.8,385.0 376.1,388.8 376.3,384.5 376.6,388.6 376.8,383.9 377.1,388.2 377.3,383.6 377.6,390.0 377.8,385.0 378.1,387.4 378.3,383.4 378.6,387.8 378.8,384.1 379.1,389.3 379.3,383.5 379.6,388.4 379.8,385.0 380.1,389.3 380.3,382.3 380.6,387.9 380.8,385.6 381.1,388.4 381.3,384.4 381.6,389.6 381.8,384.0 382.1,390.1 382.3,383.8 382.6,389.3 382.8,383.7 383.1,390.0 383.3,385.3 383.6,390.5 383.8,385.8 384.1,391.4 384.3,384.1 384.6,390.3 384.8,384.2 385.1,388.9 385.3,384.9 385.6,389.3 385.8,385.8 386.1,390.5 386.3,385.7 386.6,388.7 386.8,385.4 387.1,388.7 387.3,385.6 387.6,393.1 387.8,384.8 388.1,388.8 388.3,386.6 388.6,389.4 388.8,386.4 389.1,389.3 389.3,385.0 389.6,389.7 389.8,386.4 390.1,390.2 390.3,384.8 390.6,389.4 390.8,386.1 391.1,390.8 391.3,385.3 391.6,389.9 391.8,386.0 392.1,389.3 392.3,385.7 392.6,390.4 392.8,383.5 393.1,390.6 393.3,386.1 393.6,389.7 393.8,386.5 394.1,390.1 394.3,384.8 394.6,389.6 394.8,385.8 395.1,395.9 395.3,386.2 395.6,388.9 395.8,386.2 396.1,389.9 396.3,385.7 396.6,390.7 396.8,386.9 397.1,392.8 397.3,386.5 397.6,391.6 397.8,386.2 398.1,394.3 398.3,385.3 398.6,389.9 398.6,391.5 398.9,416.6 399.1,392.3 399.4,417.0 399.6,389.2 399.9,419.6 400.1,392.2 400.4,415.4 400.6,389.4 400.9,415.7 401.1,389.3 401.4,415.4 401.6,388.1 401.9,420.1 402.1,391.1 402.4,423.9 402.6,391.9 402.9,416.4 403.1,391.2 403.4,420.9 403.6,392.0 403.9,415.0 404.1,390.6 404.4,420.2 404.6,391.3 404.9,421.5 405.1,390.1 405.4,414.4 405.6,388.6 405.9,417.4 406.1,391.3 406.4,418.8 406.6,388.9 406.9,419.2 407.1,391.8 407.4,417.5 407.6,389.7 407.9,420.9 408.1,391.2 408.4,416.8 408.6,392.0 408.9,419.7 409.1,388.8 409.4,420.4 409.6,386.2 409.9,422.4 410.1,391.2 410.4,417.7 410.6,391.1 410.9,421.4 411.1,389.8 411.4,419.5 411.6,388.0 411.9,422.2 412.1,390.5 412.4,418.2 412.6,388.4 412.9,417.6 413.1,389.8 413.4,414.9 413.6,384.5 413.9,421.5 414.1,385.2 414.4,417.1 414.6,388.4 414.9,420.9 415.1,387.2 415.4,418.3 415.6,386.9 415.9,423.1 416.1,388.3 416.4,425.9 416.6,389.6 416.9,418.8 417.1,388.1 417.4,425.3 417.6,388.6 417.9,416.3 418.1,387.5 418.4,424.4 418.6,387.2 418.9,422.2 419.1,386.5 419.4,417.8 419.6,385.2 419.9,419.1 420.1,385.9 420.4,423.2 420.6,388.0 420.9,419.8 421.1,383.5 421.4,421.0 421.6,387.4 421.9,427.0 422.1,385.2 422.4,416.3 422.6,385.9 422.9,420.0 423.1,383.2 423.4,416.1 423.6,382.4 423.9,416.2 424.1,387.6 424.4,419.5 424.6,384.3 424.9,419.7 425.1,385.2 425.4,423.3 425.6,387.2 425.9,422.1 426.1,384.6 426.4,418.3 426.6,386.9 426.9,417.6 427.1,384.5 427.4,424.3 427.6,386.8 427.9,418.3 428.1,384.9 428.4,422.5 428.6,386.6 428.9,424.1 429.1,387.4 429.4,420.3 429.6,387.2 429.9,417.4 430.1,387.5 430.4,417.9 430.6,385.7 430.9,425.9 431.1,386.5 431.4,417.2 431.6,386.7 431.9,419.9 432.1,386.4 432.4,421.1 432.6,381.4 432.9,422.2 433.1,384.3 433.4,424.1 433.6,383.9 433.9,419.4 434.1,385.3 434.4,418.7 434.6,386.7 434.9,417.9 435.1,384.7 435.4,417.6 435.6,386.4 435.9,428.9 436.1,385.1 436.4,421.0 436.6,384.6 436.9,418.2 437.1,385.6 437.4,426.7 437.6,386.1 437.9,416.2 438.1,386.1 438.4,420.6 438.6,386.8 438.9,419.0 439.1,385.7 439.4,418.0 439.6,386.0 439.9,422.5 440.1,385.5 440.4,419.2 440.6,385.0 440.9,421.2 441.1,386.3 441.4,420.6 441.6,385.6 441.9,416.9 442.1,386.5 442.4,417.0 442.6,384.8 442.9,423.1 443.1,382.8 443.4,420.0 443.6,386.3 443.9,419.4 444.1,385.5 444.4,420.7 444.6,387.0 444.9,417.0 445.1,385.9 445.4,419.5 445.6,384.6 445.9,422.4 446.1,387.2 446.4,419.5 446.6,386.2 446.9,420.7 447.1,382.9 447.4,418.5 447.6,384.4 447.9,421.4 448.1,384.2 448.4,419.3 448.6,382.7 448.9,420.0 449.1,386.3 449.4,419.6 449.6,385.8 449.9,419.7 450.1,386.3 450.4,419.9 450.6,384.7 450.9,421.8 451.1,382.4 451.4,421.6 451.6,385.2 451.9,417.7 452.1,384.4 452.4,419.5 452.6,387.1 452.9,425.4 453.1,384.7 453.4,415.6 453.6,385.2 453.9,416.9 454.1,386.1 454.4,417.0 454.6,383.4 454.9,420.2 455.1,385.7 455.4,416.7 455.6,381.6 455.9,419.5 456.1,384.5 456.4,417.6 456.6,384.3 456.9,415.2 457.1,384.8 457.4,419.8 457.6,385.2 457.9,424.6 458.1,384.4 458.4,422.4 458.6,384.9 458.9,419.4 459.1,384.9 459.4,416.3 459.6,385.9 459.9,414.7 460.1,384.8 460.4,419.0 460.6,384.1 460.9,417.0 461.1,384.7 461.4,420.0 461.6,382.3 461.9,416.3 462.1,382.8 462.4,417.9 462.6,380.7 462.9,418.8 463.1,385.4 463.4,416.5 463.6,382.5 463.9,420.7 464.1,385.2 464.4,422.8 464.6,382.6 464.9,417.8 465.1,385.1 465.4,424.6 465.6,385.6 465.9,420.6 466.1,382.3 466.4,417.8 466.6,383.9 466.9,418.5 467.1,385.7 467.4,418.1 467.4,402.4" fill="none" stroke="#4e79a7" stroke-width="1.40" stroke-linejoin="round"/><polyline points="471.3,397.7 471.3,384.3 471.6,416.7 471.8,382.4 472.1,411.1 472.3,383.0 472.6,417.5 472.8,384.7 473.1,414.6 473.3,383.3 473.6,414.4 473.8,384.1 474.1,417.3 474.3,384.3 474.6,415.8 474.8,383.5 475.1,413.0 475.3,383.5 475.6,417.8 475.8,384.9 476.1,410.1 476.3,384.1 476.6,416.5 476.8,385.7 477.1,416.6 477.3,384.6 477.6,417.5 477.8,385.0 478.1,417.6 478.3,384.1 478.6,413.3 478.8,385.4 479.1,413.7 479.3,385.6 479.6,411.1 479.8,383.7 480.1,418.3 480.3,382.3 480.6,412.1 480.8,383.4 481.1,414.6 481.3,385.4 481.6,416.6 481.8,384.0 482.1,413.6 482.3,383.6 482.6,414.0 482.8,382.3 483.1,414.6 483.3,383.9 483.6,416.1 483.8,382.8 484.1,411.9 484.3,383.9 484.6,412.1 484.8,383.1 485.1,416.7 485.3,383.1 485.6,417.9 485.8,384.7 486.1,415.4 486.3,385.1 486.6,416.9 486.8,384.0 487.1,425.3 487.3,385.2 487.6,413.7 487.8,385.3 488.1,417.4 488.3,384.0 488.6,414.2 488.8,383.5 489.1,413.0 489.3,382.9 489.6,415.6 489.8,385.6 490.1,413.3 490.3,385.2 490.6,415.9 490.8,384.2 491.1,421.2 491.3,385.8 491.6,414.5 491.8,384.6 492.1,412.1 492.3,384.1 492.6,411.1 492.8,384.0 493.1,415.5 493.3,384.8 493.6,426.3 493.8,385.1 494.1,414.2 494.3,383.9 494.6,413.2 494.8,384.9 495.1,413.3 495.3,385.9 495.6,413.2 495.8,384.7 496.1,415.2 496.3,386.6 496.6,416.7 496.8,384.3 497.1,413.0 497.3,384.2 497.6,414.0 497.8,386.1 498.1,413.9 498.3,383.6 498.6,412.4 498.8,382.8 499.1,415.1 499.3,384.9 499.6,412.6 499.8,385.3 500.1,414.5 500.3,385.1 500.6,414.5 500.8,383.1 501.1,414.1 501.3,386.2 501.6,421.3 501.8,386.1 502.1,417.1 502.3,387.2 502.6,413.1 502.8,386.0 503.1,413.9 503.3,384.0 503.6,414.7 503.8,386.0 504.1,415.0 504.3,384.7 504.6,413.1 504.8,386.5 505.1,411.5 505.3,386.2 505.6,412.2 505.8,386.2 506.1,419.9 506.3,385.4 506.6,416.3 506.8,385.4 507.1,412.6 507.3,383.5 507.6,432.8 507.8,387.3 508.1,415.5 508.3,383.4 508.6,412.8 508.8,387.2 509.1,420.9 509.3,385.8 509.6,416.6 509.8,385.3 510.1,434.4 510.3,385.7 510.6,414.4 510.8,386.5 511.1,412.2 511.3,386.0 511.6,415.6 511.8,385.8 512.0,419.3 512.3,386.6 512.5,415.1 512.8,385.6 513.0,414.2 513.3,387.4 513.5,415.3 513.8,385.9 514.0,411.7 514.3,382.8 514.5,423.9 514.8,386.3 515.0,414.0 515.3,385.5 515.5,413.2 515.8,386.5 516.0,411.4 516.3,386.8 516.5,411.6 516.8,387.7 517.0,410.5 517.3,386.9 517.5,413.5 517.8,385.9 518.0,411.7 518.3,386.8 518.5,419.2 518.8,384.3 519.0,413.6 519.3,386.3 519.5,413.8 519.8,387.5 520.0,413.3 520.3,383.6 520.5,412.5 520.8,384.0 521.0,410.7 521.3,381.5 521.5,410.5 521.8,384.9 522.0,416.0 522.3,385.4 522.5,412.6 522.8,386.8 523.0,411.7 523.3,386.9 523.5,409.8 523.8,384.8 524.0,422.9 524.3,385.6 524.5,410.5 524.8,386.6 525.0,410.6 525.3,385.5 525.5,414.0 525.8,382.8 526.0,410.5 526.3,385.2 526.5,413.1 526.8,384.9 527.0,409.8 527.3,385.3 527.5,417.6 527.8,385.8 528.0,412.6 528.3,385.9 528.5,411.8 528.8,386.5 529.0,412.6 529.3,386.6 529.5,411.5 529.8,385.9 530.0,409.0 530.3,385.7 530.5,416.7 530.8,385.2 531.0,418.2 531.3,385.8 531.5,408.8 531.8,384.6 532.0,410.6 532.3,386.2 532.5,412.7 532.8,384.6 533.0,413.2 533.3,385.4 533.5,409.4 533.8,386.0 534.0,410.1 534.3,384.7 534.5,407.9 534.8,385.0 535.0,418.3 535.3,384.5 535.5,411.4 535.8,383.9 536.0,409.1 536.3,384.8 536.5,409.5 536.8,386.3 537.0,409.7 537.3,386.4 537.5,410.4 537.8,384.8 538.0,409.7 538.3,386.9 538.5,415.9 538.8,386.1 539.0,412.0 539.3,386.5 539.5,416.0 539.8,385.0 540.0,412.1 540.3,382.5 540.5,409.6 540.8,385.8 541.0,411.7 541.3,385.6 541.5,414.0 541.8,386.3 542.0,414.0 542.3,385.8 542.5,409.6 542.8,386.8 543.0,408.4 543.3,384.5 543.5,411.6 543.8,385.0 544.0,409.0 544.3,385.2 544.5,408.3 544.8,381.0 545.0,410.1 545.3,382.7 545.5,408.8 545.8,387.1 546.0,409.8 546.3,383.6 546.5,414.7 546.8,386.7 547.0,408.3 547.3,384.7 547.5,411.2 547.8,386.8 548.0,411.0 548.3,383.8 548.5,409.4 548.8,385.5 549.0,412.0 549.3,387.3 549.5,408.2 549.8,385.6 550.0,406.2 550.3,386.1 550.5,411.3 550.8,385.5 551.0,411.0 551.3,384.5 551.5,411.3 551.8,386.0 552.0,408.5 552.3,387.2 552.5,415.1 552.8,385.6 553.0,409.9 553.3,383.9 553.5,414.1 553.8,383.4 554.0,410.9 554.3,385.8 554.5,408.4 554.8,383.6 555.0,415.1 555.3,386.2 555.5,410.2 555.8,385.8 556.0,410.8 556.3,385.0 556.5,407.8 556.8,382.8 557.0,415.2 557.3,384.9 557.5,422.7 557.8,383.9 558.0,410.1 558.3,383.8 558.5,409.8 558.8,383.3 559.0,413.5 559.3,382.7 559.5,413.0 559.8,385.9 560.0,412.2 560.3,384.4 560.5,411.0 560.8,383.9 561.0,411.7 561.3,384.4 561.5,415.1 561.8,386.0 562.0,413.7 562.3,385.2 562.5,411.4 562.8,384.4 563.0,415.6 563.3,384.8 563.5,410.3 563.8,383.3 564.0,420.9 564.3,383.8 564.5,413.6 564.8,384.1 565.0,410.8 565.3,385.3 565.5,413.0 565.8,383.9 566.0,414.4 566.3,384.8 566.5,411.6 566.8,383.4 567.0,414.7 567.3,384.0 567.5,418.8 567.8,385.0 568.0,413.7 568.3,383.3 568.5,417.8 568.8,384.3 569.0,414.0 569.3,384.1 569.5,413.8 569.8,382.5 570.0,415.3 570.3,383.4 570.5,410.7 570.8,383.0 571.0,414.7 571.3,384.2 571.5,413.7 571.8,382.4 572.0,411.1 572.3,384.6 572.5,410.8 572.8,380.9 573.0,412.9 573.3,384.6 573.5,419.4 573.8,386.9 574.0,411.8 574.3,386.9 574.5,415.6 574.8,382.8 575.0,413.9 575.3,384.4 575.5,410.2 575.8,385.7 576.0,418.3 576.3,385.0 576.5,411.0 576.8,386.2 577.0,420.0 577.3,386.2 577.5,411.0 577.8,386.2 578.0,412.9 578.3,387.7 578.5,415.8 578.8,384.7 579.0,416.3 579.3,386.7 579.5,416.1 579.8,387.5 580.0,414.8 580.3,388.5 580.5,414.0 580.8,388.6 581.0,411.4 581.3,387.7 581.5,412.3 581.8,385.7 582.0,412.7 582.3,388.0 582.5,414.2 582.8,388.3 583.0,410.4 583.3,388.9 583.5,416.5 583.8,387.4 584.0,411.8 584.3,389.8 584.5,409.2 584.8,389.2 585.0,413.8 585.3,388.0 585.5,408.8 585.8,389.4 586.0,414.2 586.3,387.0 586.5,415.5 586.8,389.9 587.0,412.1 587.3,385.7 587.5,414.5 587.8,388.6 588.0,414.7 588.3,387.4 588.5,410.6 588.8,388.4 589.0,411.0 589.3,387.9 589.5,414.1 589.8,388.3 590.0,411.4 590.3,387.2 590.5,413.6 590.8,386.4 591.0,413.2 591.3,386.0 591.5,413.4 591.8,388.1 592.0,417.8 592.3,386.0 592.5,410.2 592.8,384.8 593.0,417.8 593.3,384.4 593.5,413.5 593.8,386.5 594.0,410.2 594.3,384.5 594.5,427.1 594.8,384.3 595.0,421.6 595.3,385.9 595.5,412.8 595.8,385.2 596.0,422.9 596.3,385.3 596.5,412.3 596.8,385.4 597.0,412.0 597.3,383.9 597.5,413.6 597.8,384.0 598.0,411.5 598.3,381.2 598.5,411.7 598.8,383.9 599.0,413.6 599.3,384.0 599.5,414.7 599.8,383.8 600.0,413.1 600.3,381.9 600.5,414.0 600.8,383.7 601.0,420.8 601.3,384.3 601.5,418.5 601.8,384.3 602.0,413.2 602.3,383.0 602.5,410.2 602.8,382.2 603.0,419.6 603.3,383.8 603.5,414.2 603.8,384.3 604.0,411.2 604.3,381.6 604.5,413.1 604.8,383.3 605.0,416.2 605.3,383.4 605.5,413.1 605.8,381.2 606.0,413.4 606.3,381.6 606.5,412.9 606.8,380.4 607.0,414.8 607.3,383.7 607.5,413.0 607.8,383.2 608.0,413.5 608.3,384.2 608.5,417.4 608.8,383.1 609.0,413.5 609.3,381.7 609.5,415.5 609.8,382.6 610.0,411.5 610.3,381.1 610.5,412.8 610.8,381.2 611.0,411.6 611.4,396.9" fill="none" stroke="#4e79a7" stroke-width="1.40" stroke-linejoin="round"/><polyline points="615.8,403.4 615.8,388.0 616.0,415.3 616.3,385.1 616.5,423.7 616.8,386.5 617.0,418.7 617.3,386.9 617.5,422.4 617.8,385.5 618.0,423.8 618.3,385.0 618.5,422.8 618.8,387.5 619.0,422.2 619.3,388.7 619.5,421.3 619.8,384.2 620.0,423.3 620.3,385.5 620.5,422.3 620.8,386.9 621.0,419.6 621.3,386.9 621.5,422.4 621.8,386.2 622.0,421.4 622.3,383.4 622.5,419.7 622.8,387.3 623.0,416.8 623.2,399.7" fill="none" stroke="#4e79a7" stroke-width="1.40" stroke-linejoin="round"/><polyline points="628.7,396.0 628.7,379.7 629.0,418.9 629.2,380.7 629.5,410.6 629.7,382.4 630.0,417.8 630.2,380.9 630.5,413.2 630.7,379.2 631.0,410.5 631.2,381.0 631.5,414.2 631.7,380.5 632.0,411.8 632.2,381.2 632.5,414.3 632.7,378.5 633.0,412.0 633.2,381.2 633.5,414.2 633.7,381.0 634.0,414.4 634.2,380.8 634.5,413.2 634.7,380.0 635.0,412.0 635.2,378.7 635.5,413.0 635.7,377.4 636.0,412.5 636.2,380.5 636.5,415.0 636.7,382.7 637.0,414.4 637.2,381.0 637.5,413.9 637.7,380.4 638.0,414.0 638.2,381.1 638.5,412.8 638.7,379.6 639.0,416.7 639.2,381.6 639.5,413.5 639.7,380.3 640.0,412.7 640.2,380.6 640.5,413.7 640.7,378.7 641.0,412.2 641.2,379.1 641.5,411.7 641.7,380.7 642.0,415.4 642.2,378.3 642.5,416.8 642.7,381.6 643.0,413.5 643.2,380.4 643.5,412.9 643.7,380.1 644.0,414.1 644.2,380.3 644.5,412.0 644.7,381.1 645.0,416.0 645.2,380.7 645.5,412.4 645.7,381.1 646.0,413.9 646.2,380.2 646.5,414.2 646.7,379.7 647.0,412.5 647.2,381.1 647.5,418.0 647.7,382.5 648.0,413.2 648.2,377.6 648.5,413.2 648.7,381.2 649.0,416.1 649.2,381.0 649.5,411.0 649.7,378.6 650.0,413.9 650.2,381.6 650.5,415.0 650.7,381.0 651.0,413.6 651.2,380.4 651.5,414.3 651.7,379.9 652.0,413.3 652.2,380.8 652.5,417.7 652.7,381.8 653.0,410.9 653.2,382.5 653.5,418.5 653.7,380.4 654.0,420.4 654.2,380.4 654.5,415.3 654.7,381.7 655.0,412.9 655.2,381.5 655.5,417.7 655.7,378.3 656.0,417.3 656.2,381.5 656.5,411.1 656.7,381.2 657.0,414.4 657.2,380.4 657.5,415.0 657.7,382.5 658.0,415.3 658.2,382.2 658.5,417.8 658.7,380.7 659.0,414.0 659.2,379.3 659.5,417.8 659.7,380.6 660.0,416.2 660.2,382.4 660.5,413.9 660.7,383.2 661.0,412.3 661.2,384.0 661.5,426.4 661.7,385.0 662.0,416.1 662.2,386.7 662.5,415.9 662.7,386.6 663.0,419.3 663.2,387.8 663.5,415.0 663.7,387.7 664.0,422.1 664.2,386.3 664.5,415.5 664.7,387.4 665.0,417.1 665.2,388.9 665.5,420.6 665.7,386.6 666.0,420.8 666.2,387.3 666.5,417.1 666.7,385.9 667.0,418.8 667.2,387.3 667.5,422.3 667.7,389.6 668.0,421.3 668.2,386.9 668.5,419.2 668.7,387.6 669.0,421.5 669.2,385.8 669.5,418.4 669.7,386.9 670.0,418.5 670.2,384.5 670.5,424.4 670.7,388.5 671.0,419.9 671.2,388.3 671.5,418.7 671.7,389.5 672.0,419.6 672.2,388.0 672.5,422.1 672.7,388.5 673.0,416.4 673.2,388.8 673.5,421.0 673.7,387.7 674.0,425.0 674.2,388.3 674.5,418.2 674.7,387.8 675.0,422.1 675.2,387.5 675.5,422.6 675.7,387.6 676.0,417.7 676.2,387.7 676.5,418.0 676.7,386.2 677.0,418.0 677.2,387.4 677.5,417.4 677.7,386.6 678.0,426.1 678.2,387.7 678.5,420.1 678.7,389.5 679.0,419.8 679.2,388.2 679.5,417.7 679.7,388.1 680.0,426.2 680.2,388.9 680.5,419.7 680.7,386.9 681.0,420.0 681.2,388.7 681.5,420.6 681.7,388.7 682.0,421.8 682.2,388.8 682.5,420.1 682.7,388.5 683.0,418.5 683.2,388.5 683.5,426.6 683.7,386.8 684.0,419.6 684.2,387.0 684.5,420.9 684.7,388.5 685.0,421.4 685.2,388.6 685.5,416.0 685.7,387.3 686.0,418.6 686.2,388.1 686.5,416.1 686.7,386.5 687.0,417.9 687.2,388.4 687.5,417.3 687.7,389.5 688.0,419.2 688.2,387.3 688.5,425.0 688.7,388.1 689.0,418.8 689.2,388.6 689.5,417.9 689.7,388.3 690.0,420.5 690.2,386.7 690.5,420.4 690.7,388.0 691.0,419.3 691.2,389.0 691.5,424.0 691.7,387.1 692.0,416.4 692.2,388.7 692.5,417.6 692.7,387.0 693.0,420.6 693.2,383.3 693.5,416.0 693.7,385.3 694.0,418.5 694.2,389.3 694.5,420.9 694.7,389.1 695.0,418.3 695.2,387.1 695.5,419.5 695.7,385.2 696.0,419.1 696.2,389.6 696.5,417.8 696.7,387.2 697.0,418.3 697.2,387.1 697.5,416.0 697.7,386.3 698.0,418.7 698.2,388.4 698.5,421.0 698.7,388.6 699.0,421.0 699.2,387.9 699.5,418.1 699.7,388.8 700.0,419.2 700.2,384.3 700.5,421.0 700.7,385.8 701.0,419.5 701.2,387.2 701.5,419.9 701.7,387.1 702.0,417.6 702.2,388.9 702.5,419.3" fill="none" stroke="#4e79a7" stroke-width="1.40" stroke-linejoin="round"/><path d="M467.4 402.4L471.3 397.7M611.4 396.9L615.8 403.4M623.2 399.7L628.7 396.0" stroke="#4e79a7" stroke-width="0.7" fill="none"/><path d="M404.85 421.5V445.5M407.35 417.5V421.6M408.35 416.8V439.2M409.85 422.4V428.5M411.85 422.2V427.3M416.35 425.9V432.6M419.85 419.1V421.2M421.35 421.0V426.1M423.35 416.1V434.6M424.85 419.7V423.4M425.85 422.1V431.1M428.85 424.1V424.3M429.85 417.4V424.9M432.85 422.2V428.2M433.85 419.4V434.7M434.35 418.7V424.3M434.85 417.9V426.3M436.35 421.0V429.7M439.35 418.0V420.7M442.35 417.0V441.0M442.85 423.1V436.5M447.85 421.4V428.7M448.85 420.0V423.6M452.85 425.4V428.0M455.35 416.7V416.9M456.35 417.6V425.0M459.35 416.3V417.4M460.35 419.0V425.3M463.35 416.5V417.8M464.85 417.8V418.2M471.55 416.7V417.5M476.05 410.1V418.5M477.05 416.6V425.2M479.05 413.7V414.9M481.55 416.6V421.8M484.05 411.9V413.9M486.55 416.9V422.8M487.55 413.7V416.4M490.55 415.9V422.8M494.05 414.2V422.7M494.55 413.2V419.8M496.05 415.2V422.8M496.55 416.7V417.8M499.55 412.6V421.6M500.05 414.5V418.3M500.55 414.5V416.1M501.05 414.1V425.7M504.55 413.1V419.9M506.05 419.9V431.3M507.55 432.8V435.7M508.05 415.5V417.7M509.55 416.6V419.1M511.55 415.6V419.4M514.55 423.9V427.3M515.55 413.2V418.4M521.55 410.5V410.8M522.55 412.6V417.2M523.55 409.8V412.7M524.55 410.5V434.5M525.05 410.6V414.7M526.05 410.5V415.3M527.05 409.8V415.0M528.55 411.8V425.0M530.55 416.7V423.4M532.05 410.6V413.0M535.05 418.3V419.7M536.55 409.5V428.1M538.55 415.9V433.3M539.55 416.0V422.3M541.05 411.7V413.1M542.55 409.6V410.0M544.55 408.3V411.8M546.55 414.7V414.9M547.05 408.3V409.7M548.05 411.0V412.8M549.05 412.0V416.4M549.55 408.2V415.4M551.05 411.0V422.7M551.55 411.3V414.3M552.05 408.5V409.4M554.55 408.4V418.4M556.55 407.8V413.8M557.55 422.7V424.4M558.05 410.1V413.3M559.55 413.0V418.7M562.05 413.7V423.0M563.05 415.6V421.8M568.05 413.7V415.7M569.55 413.8V416.5M570.05 415.3V425.1M572.55 410.8V412.0M575.05 413.9V421.7M575.55 410.2V414.2M577.55 411.0V411.5M581.55 412.3V424.1M582.55 414.2V414.6M584.05 411.8V419.1M587.55 414.5V436.7M588.05 414.7V416.0M588.55 410.6V434.6M589.55 414.1V416.7M590.55 413.6V422.8M591.55 413.4V413.9M594.05 410.2V418.6M599.05 413.6V414.5M600.55 414.0V415.3M603.05 419.6V420.4M606.05 413.4V418.2M609.05 413.5V415.2M616.05 415.3V415.5M616.55 423.7V431.6M617.05 418.7V419.9M617.55 422.4V422.6M628.95 418.9V419.4M631.45 414.2V420.0M632.45 414.3V428.2M632.95 412.0V415.6M634.95 412.0V416.7M635.45 413.0V415.3M637.45 413.9V415.0M639.45 413.5V414.5M640.45 413.7V416.2M641.45 411.7V418.0M641.95 415.4V417.2M642.45 416.8V433.1M644.45 412.0V414.6M645.95 413.9V414.1M647.95 413.2V413.7M648.45 413.2V416.1M653.45 418.5V433.7M653.95 420.4V425.1M657.45 415.0V420.4M658.95 414.0V415.8M659.45 417.8V427.0M663.95 422.1V422.7M664.95 417.1V418.3M667.45 422.3V424.4M670.95 419.9V423.6M673.95 425.0V427.4M676.95 418.0V420.0M677.45 417.4V420.7M678.95 419.8V429.4M679.95 426.2V428.2M687.95 419.2V424.5M688.95 418.8V435.7M689.95 420.5V431.6M690.45 420.4V421.9M695.45 419.5V419.8M697.95 418.7V435.5M698.45 421.0V437.9M700.95 419.5V423.5M701.45 419.9V429.0" stroke="#4e79a7" stroke-width="0.8" fill="none"/><path d="M421.0 410.0V488.5M459.0 410.0V488.5M460.0 410.0V488.5M482.0 410.0V488.5M489.0 410.0V488.5M492.0 410.0V488.5M507.0 410.0V488.5M553.0 410.0V488.5M562.0 410.0V488.5M584.0 410.0V488.5M631.0 410.0V488.5M665.0 410.0V488.5M683.0 410.0V488.5M689.0 410.0V488.5M699.0 410.0V488.5M634.0 410.0V455.0M640.0 410.0V428.0M662.0 410.0V440.0" stroke="#4e79a7" stroke-width="2.00" fill="none"/><rect x="571.8" y="390.0" width="11.5" height="98.5" fill="#4e79a7"/></g>
<g clip-path="url(#c3)"><polyline points="139.8,584.5 140.1,604.8 140.3,593.9 140.6,603.3 140.8,594.4 141.1,604.3 141.3,592.6 141.6,605.7 141.8,594.1 142.1,604.9 142.3,593.3 142.6,604.1 142.8,590.3 143.1,605.9 143.3,593.7 143.6,603.9 143.8,590.0 144.1,604.0 144.3,593.3 144.6,604.6 144.8,593.8 145.1,604.0 145.3,592.6 145.6,604.8 145.8,593.6 146.1,603.5 146.3,593.1 146.6,604.1 146.8,592.2 147.1,604.6 147.3,590.3 147.6,604.2 147.8,594.6 148.1,606.1 148.3,593.2 148.6,606.7 148.8,593.2 149.1,604.7 149.3,592.3 149.6,604.8 149.8,593.8 150.1,604.5 150.3,592.1 150.6,605.2 150.8,594.8 151.1,605.1 151.3,593.4 151.6,603.8 151.8,592.2 152.1,606.5 152.3,594.6 152.6,604.4 152.8,592.5 153.1,603.7 153.3,592.7 153.6,603.9 153.8,594.1 154.1,606.1 154.3,590.7 154.6,604.1 154.8,593.9 155.1,604.1 155.3,594.3 155.6,604.6 155.8,592.5 156.1,604.5 156.3,594.8 156.6,604.2 156.8,592.4 157.1,605.1 157.3,592.1 157.6,604.0 157.8,594.1 158.1,604.7 158.3,594.5 158.6,604.4 158.8,592.2 159.1,603.9 159.3,590.0 159.6,604.3 159.8,590.6 160.1,604.9 160.3,593.8 160.6,603.6 160.8,581.6 161.1,603.9 161.3,593.6 161.6,604.4 161.8,593.3 162.1,603.4 162.3,593.4 162.6,605.5 162.8,593.7 163.1,604.6 163.3,593.3 163.6,604.8 163.8,591.7 164.1,604.8 164.3,593.4 164.6,604.3 164.8,593.3 165.1,604.4 165.3,593.1 165.6,604.8 165.8,589.1 166.1,605.5 166.3,594.3 166.6,604.3 166.8,593.8 167.1,604.5 167.3,591.8 167.6,603.7 167.8,592.8 168.1,604.9 168.3,594.3 168.6,605.1 168.8,590.6 169.1,603.8 169.3,593.4 169.6,605.2 169.8,591.6 170.1,604.7 170.3,594.8 170.6,603.5 170.8,595.0 171.1,604.5 171.3,593.4 171.6,604.6 171.8,593.2 172.1,604.2 172.3,592.4 172.6,603.9 172.8,591.7 173.1,603.6 173.3,594.3 173.6,603.8 173.8,590.4 174.1,603.8 174.3,591.1 174.6,604.8 174.8,594.2 175.1,603.6 175.3,594.3 175.6,605.1 175.8,590.9 176.1,604.1 176.3,594.5 176.6,605.2 176.8,589.2 177.1,604.8 177.3,595.1 177.6,603.8 177.8,594.0 178.1,605.3 178.3,589.2 178.6,605.1 178.8,591.5 179.1,604.3 179.3,590.8 179.6,604.3 179.8,593.4 180.1,604.0 180.3,594.1 180.6,603.3 180.8,594.1 181.1,604.8 181.3,594.9 181.6,603.6 181.8,594.2 182.1,603.8 182.3,592.8 182.6,603.8 182.8,588.4 183.1,604.0 183.3,591.3 183.6,603.2 183.8,591.9 184.1,605.0 184.3,591.6 184.6,605.1 184.8,592.9 185.1,605.2 185.3,590.6 185.6,609.1 185.8,594.1 186.1,604.5 186.3,594.3 186.6,604.9 186.8,594.2 187.1,604.2 187.3,594.6 187.6,604.8 187.8,593.2 188.1,604.2 188.3,592.9 188.6,603.5 188.8,594.6 189.1,604.0 189.3,588.8 189.6,604.7 189.8,594.8 190.1,605.7 190.3,594.3 190.6,604.7 190.8,590.2 191.1,603.9 191.3,593.5 191.6,603.9 191.8,592.6 192.1,604.1 192.3,592.8 192.6,605.6 192.8,594.0 193.1,605.0 193.3,595.2 193.6,603.8 193.8,593.7 194.1,603.8 194.3,593.3 194.6,604.5 194.8,587.4 195.1,604.9 195.3,593.9 195.6,604.8 195.8,589.1 196.1,604.5 196.3,590.3 196.6,605.1 196.8,593.5 197.1,604.5 197.3,594.2 197.6,604.0 197.8,590.5 198.1,604.6 198.3,593.9 198.6,604.0 198.8,592.9 199.1,603.7 199.3,593.3 199.6,604.5 199.8,593.4 200.1,605.7 200.3,594.6 200.6,604.0 200.8,594.1 201.1,603.4 201.3,594.3 201.6,604.1 201.8,594.4 202.1,604.4 202.3,593.7 202.6,604.8 202.8,595.9 203.1,605.3 203.3,595.8 203.6,604.2 203.8,591.3 204.1,607.1 204.3,592.1 204.6,603.7 204.8,593.4 205.1,604.3 205.3,594.0 205.6,603.8 205.8,593.8 206.1,603.6 206.3,593.9 206.6,603.8 206.8,594.2 207.1,605.9 207.3,593.6 207.6,604.9 207.8,590.8 208.1,604.1 208.3,592.9 208.6,606.0 208.8,594.6 209.1,604.7 209.3,592.9 209.6,604.0 209.8,595.0 210.1,605.8 210.3,590.0 210.6,604.8 210.8,593.9 211.1,606.4 211.3,593.8 211.6,604.3 211.8,594.6 212.1,604.4 212.3,595.7 212.6,603.9 212.8,587.7 213.1,605.2 213.3,592.9 213.6,604.2 213.8,594.2 214.1,604.2 214.3,593.6 214.6,604.1 214.8,591.1 215.1,604.2 215.3,595.4 215.6,605.2 215.8,594.2 216.1,605.3 216.3,593.7 216.6,604.0 216.8,594.9 217.1,603.9 217.3,593.4 217.6,603.9 217.8,594.3 218.1,604.7 218.3,592.0 218.6,603.7 218.8,594.7 219.1,604.0 219.3,594.1 219.6,603.6 219.8,592.2 220.1,604.4 220.3,592.5 220.6,604.7 220.8,593.9 221.1,605.2 221.3,595.6 221.6,605.4 221.8,591.5 222.1,604.1 222.3,594.7 222.6,604.1 222.8,593.7 223.1,605.2 223.3,593.9 223.6,604.2 223.8,593.0 224.1,604.5 224.3,590.6 224.6,604.6 224.8,593.8 225.1,604.4 225.3,593.7 225.6,603.9 225.8,593.6 226.1,603.4 226.3,594.7 226.6,605.1 226.8,593.4 227.1,603.7 227.3,593.7 227.6,603.6 227.8,594.1 228.1,604.1 228.3,591.7 228.6,604.8 228.8,591.1 229.1,604.6 229.3,594.5 229.6,603.9 229.8,593.4 230.1,605.2 230.3,594.2 230.6,604.0 230.8,593.3 231.1,603.9 231.3,590.9 231.6,604.4 231.8,587.1 232.1,604.0 232.3,591.9 232.6,603.6 232.8,591.7 233.1,604.2 233.3,594.0 233.6,605.5 233.8,593.8 234.1,604.4 234.3,594.5 234.6,605.4 234.8,592.6 235.1,604.6 235.3,593.1 235.6,605.3 235.8,593.8 236.1,603.6 236.3,591.5 236.6,603.9 236.8,591.7 237.1,604.1 237.3,593.8 237.6,604.0 237.8,592.9 238.1,604.1 238.3,592.0 238.6,604.3 238.8,594.4 239.1,605.4 239.3,594.4 239.6,604.0 239.8,593.1 240.1,603.6 240.3,592.5 240.6,604.8 240.8,594.9 241.1,604.2 241.3,594.8 241.6,604.5 241.8,594.6 242.1,604.2 242.3,593.5 242.6,604.2 242.8,593.9 243.1,604.6 243.3,594.1 243.6,605.1 243.8,593.5 244.1,604.6 244.3,593.2 244.6,606.2 244.8,592.3 245.1,604.5 245.3,594.5 245.6,603.7 245.8,594.1 246.1,605.0 246.3,594.1 246.6,603.9 246.8,595.2 247.1,604.2 247.3,594.0 247.6,605.9 247.8,592.9 248.1,605.0 248.3,594.2 248.6,604.1 248.8,593.9 249.1,605.4 249.3,593.2 249.6,604.1 249.8,591.5 250.1,605.3 250.3,593.2 250.6,604.2 250.8,593.9 251.1,605.0 251.3,594.4 251.6,605.3 251.8,594.7 252.1,606.6 252.3,592.9 252.6,603.9 252.8,595.7 253.1,605.7 253.3,594.2 253.6,604.9 253.8,593.8 254.1,605.2 254.3,589.9 254.6,604.4 254.8,592.3 255.1,604.5 255.3,593.7 255.6,604.7 255.8,591.6 256.1,604.4 256.3,593.6 256.6,604.2 256.8,589.1 257.1,603.5 257.3,591.5 257.6,604.6 257.8,594.8 258.1,603.1 258.3,594.5 258.6,604.0 258.8,594.0 259.1,603.8 259.3,594.1 259.6,603.2 259.8,594.2 260.1,605.1 260.3,595.1 260.6,603.8 260.8,591.9 261.1,604.0 261.3,593.9 261.6,603.7 261.8,593.3 262.1,604.1 262.3,591.9 262.6,605.3 262.8,593.3 263.1,604.6 263.3,593.5 263.6,605.0 263.8,594.0 264.1,604.1 264.3,591.7 264.6,604.9 264.8,594.6 265.1,605.0 265.3,587.7 265.6,604.2 265.8,593.1 266.1,605.0 266.3,591.7 266.6,605.0 266.8,593.8 267.1,604.4 267.3,594.5 267.6,604.6 267.8,592.9 268.1,603.8 268.3,589.9 268.6,604.9 268.8,593.7 269.1,603.6 269.3,593.7 269.6,605.1 269.8,592.7 270.1,604.3 270.3,592.6 270.6,603.5 270.8,592.9 271.1,604.5 271.3,590.8 271.6,604.4 271.8,592.1 272.1,605.2 272.3,590.9 272.6,604.4 272.8,589.2 273.1,605.2 273.3,592.5 273.6,604.6 273.8,593.6 274.1,603.1 274.3,592.8 274.6,603.9 274.8,591.8 275.1,604.4 275.3,592.2 275.6,604.5 275.8,593.1 276.1,604.0 276.3,592.5 276.6,604.7 276.8,589.2 277.1,604.5 277.3,592.1 277.6,604.1 277.8,591.7 278.1,603.8 278.3,592.8 278.6,604.2 278.8,590.0 279.1,604.5 279.3,593.2 279.6,604.0 279.8,591.9 280.1,604.0 280.3,593.8 280.6,603.9 280.8,590.6 281.1,604.9 281.3,593.3 281.6,604.8 281.8,588.4 282.1,605.0 282.3,592.1 282.6,604.6 282.8,592.6 283.1,604.1 283.3,590.8 283.6,604.4 283.8,592.2 284.1,605.3 284.3,591.2 284.6,604.9 284.8,591.3 285.1,604.2 285.3,590.9 285.6,603.9 285.8,591.1 286.1,604.3 286.3,592.3 286.6,603.3 286.8,592.7 287.1,604.4 287.3,590.5 287.6,603.7 287.8,592.4 288.1,603.5 288.3,591.0 288.6,605.0 288.8,591.3 289.1,604.3 289.3,591.6 289.6,603.6 289.8,591.9 290.1,604.5 290.3,590.6 290.6,604.6 290.8,592.1 291.1,607.4 291.3,591.9 291.6,603.9 291.8,591.8 292.1,604.0 292.3,592.6 292.6,605.3 292.8,592.0 293.1,603.7 293.3,591.3 293.6,604.1 293.8,589.5 294.1,604.7 294.3,590.7 294.6,603.5 294.8,584.0 295.1,605.0 295.3,587.8 295.6,605.5 295.8,590.7 296.1,606.6 296.3,587.4 296.6,603.6 296.8,591.2 297.1,604.5 297.3,592.7 297.6,604.1 297.8,591.7 298.1,604.4 298.3,590.7 298.6,604.9 298.8,591.6 299.1,603.6 299.3,589.4 299.6,604.1 299.8,591.5 300.1,604.2 300.3,591.9 300.6,604.1 300.8,591.3 301.1,603.9 301.3,593.9 301.6,603.3 301.8,591.7 302.1,604.5 302.3,593.0 302.6,605.0 302.8,593.4 303.1,603.8 303.3,592.4 303.6,603.3 303.8,590.9 304.1,605.5 304.3,592.7 304.6,604.5 304.8,591.3 305.1,604.6 305.3,591.7 305.6,603.8 305.8,592.7 306.1,604.5 306.3,592.7 306.6,605.9 306.8,592.8 307.1,603.2 307.3,593.0 307.6,604.9 307.8,591.9 308.1,603.9 308.3,592.2 308.6,604.1 308.8,593.2 309.1,606.2 309.3,588.5 309.6,606.4 309.8,594.8 310.1,603.7 310.3,592.3 310.6,604.5 310.8,593.4 311.1,606.2 311.3,587.3 311.6,604.2 311.8,592.8 312.1,603.7 312.3,595.3 312.6,604.5 312.8,591.8 313.1,605.8 313.3,592.9 313.6,604.2 313.8,594.6 314.1,603.4 314.3,595.5 314.6,604.2 314.8,592.7 315.1,604.3 315.3,592.7 315.6,603.8 315.8,592.9 316.1,604.4 316.3,590.9 316.6,605.3 316.8,594.4 317.1,603.5 317.3,594.0 317.6,605.2 317.8,592.8 318.1,604.4 318.3,593.0 318.6,604.4 318.8,595.2 319.1,603.5 319.3,590.7 319.6,604.6 319.8,594.4 320.1,603.6 320.3,593.6 320.6,604.1 320.8,594.6 321.1,603.9 321.3,591.7 321.6,606.5 321.8,594.1 322.1,604.0 322.3,594.9 322.6,603.6 322.8,594.2 323.1,604.3 323.3,591.9 323.6,603.4 323.8,593.9 324.1,604.1 324.3,593.4 324.6,604.3 324.8,593.1 325.1,604.5 325.3,593.9 325.6,604.1 325.8,593.8 326.1,604.0 326.3,592.6 326.6,606.0 326.8,592.2 327.1,604.0 327.3,594.5 327.6,604.7 327.8,594.2 328.1,604.1 328.3,594.2 328.6,604.0 328.8,586.3 329.1,604.7 329.3,593.2 329.6,605.5 329.8,593.5 330.1,603.6 330.3,592.2 330.6,605.7 330.8,592.8 331.1,604.4 331.3,593.3 331.6,603.9 331.8,593.8 332.1,605.3 332.3,593.2 332.6,605.2 332.8,593.7 333.1,604.0 333.3,592.7 333.6,603.7 333.8,591.2 334.1,605.8 334.3,592.2 334.6,604.2 334.8,593.3 335.1,603.9 335.3,595.1 335.6,603.5 335.8,593.8 336.1,604.7 336.3,594.7 336.6,605.0 336.8,592.7 337.1,603.7 337.3,593.5 337.6,604.6 337.8,595.1 338.1,603.9 338.3,590.0 338.6,605.9 338.8,593.2 339.1,605.0 339.3,593.5 339.6,604.0 339.8,591.9 340.1,604.4 340.3,594.4 340.6,604.3 340.8,593.8 341.1,604.1 341.3,594.1 341.6,604.1 341.8,594.9 342.1,605.5 342.3,594.4 342.6,604.0 342.8,593.5 343.1,603.5 343.3,594.2 343.6,604.9 343.8,593.0 344.1,603.7 344.3,592.0 344.6,603.3 344.8,587.9 345.1,606.0 345.3,592.8 345.6,604.4 345.8,589.0 346.1,604.6 346.3,592.1 346.6,604.2 346.8,593.4 347.1,604.3 347.3,592.8 347.6,604.0 347.8,589.2 348.1,604.4 348.3,592.2 348.6,605.9 348.8,592.0 349.1,606.3 349.3,592.5 349.6,604.0 349.8,592.3 350.1,603.8 350.3,591.8 350.6,604.0 350.8,590.5 351.1,603.7 351.3,588.3 351.6,603.2 351.8,593.2 352.1,603.8 352.3,592.5 352.6,604.6 352.8,590.3 353.1,604.5 353.3,589.2 353.6,604.0 353.8,589.3 354.1,605.1 354.3,590.2 354.6,604.7 354.8,590.0 355.1,603.9 355.3,590.4 355.6,604.5 355.8,591.7 356.1,604.7 356.3,591.2 356.6,605.8 356.8,592.1 357.1,604.3 357.3,591.7 357.6,606.2 357.8,591.8 358.1,604.1 358.3,592.9 358.6,604.4 358.8,592.5 359.1,604.1 359.3,590.4 359.6,603.8 359.8,591.1 360.1,604.5 360.3,588.5 360.6,603.9 360.8,590.9 361.1,603.8 361.3,590.8 361.6,604.1 361.8,593.4 362.1,603.9 362.3,593.2 362.6,605.1 362.8,592.5 363.1,604.8 363.3,592.7 363.6,603.6 363.8,592.3 364.1,603.8 364.3,592.8 364.6,604.2 364.8,591.1 365.1,603.4 365.3,592.5 365.6,604.1 365.8,594.8 366.1,604.3 366.3,592.8 366.6,606.7 366.8,593.2 367.1,605.6 367.3,593.6 367.6,604.0 367.8,594.2 368.1,603.9 368.3,593.5 368.6,604.5 368.8,591.7 369.1,606.0 369.3,592.7 369.6,604.3 369.8,593.9 370.1,603.8 370.3,594.0 370.6,603.4 370.8,591.9 371.1,603.6 371.3,594.1 371.6,604.3 371.8,594.1 372.1,605.3 372.3,592.4 372.6,604.0 372.8,590.1 373.1,603.0 373.3,592.6 373.6,604.7 373.8,594.2 374.1,604.3 374.3,592.3 374.6,604.6 374.8,592.1 375.1,604.0 375.3,595.0 375.6,603.5 375.8,592.6 376.1,603.5 376.3,592.0 376.6,604.6 376.8,594.6 377.1,604.9 377.3,595.0 377.6,603.9 377.8,594.3 378.1,604.4 378.3,593.5 378.6,604.6 378.8,593.5 379.1,604.6 379.3,594.0 379.6,605.2 379.8,593.6 380.1,603.8 380.3,592.5 380.6,604.7 380.8,592.6 381.1,603.8 381.3,594.1 381.6,607.7 381.8,590.3 382.1,605.8 382.3,592.5 382.6,604.1 382.8,594.0 383.1,605.0 383.3,591.7 383.6,604.7 383.8,591.0 384.1,605.2 384.3,594.4 384.6,603.3 384.8,594.3 385.1,605.1 385.3,594.0 385.6,604.4 385.8,592.3 386.1,604.2 386.3,594.7 386.6,603.7 386.8,594.0 387.1,606.0 387.3,594.4 387.6,604.9 387.8,588.5 388.1,605.0 388.3,590.7 388.6,604.7 388.8,594.2 389.1,604.5 389.3,593.8 389.6,604.5 389.8,591.8 390.1,603.5 390.3,594.7 390.6,604.1 390.8,594.0 391.1,605.1 391.3,591.9 391.6,605.5 391.8,594.4 392.1,604.1 392.3,595.1 392.6,604.1 392.8,593.6 393.1,605.3 393.3,594.3 393.6,605.4 393.8,593.1 394.1,603.6 394.3,593.6 394.6,605.4 394.8,590.8 395.1,603.8 395.3,592.2 395.6,604.1 395.8,591.1 396.1,604.5 396.3,591.4 396.6,604.4 396.8,593.4 397.1,604.6 397.3,593.8 397.6,603.7 397.8,589.9 398.1,604.0 398.3,590.1 398.6,603.6 398.6,527.9 398.9,603.9 399.1,526.3 399.4,601.9 399.6,527.1 399.9,600.2 400.1,527.9 400.4,600.2 400.6,530.4 400.9,602.9 401.1,523.4 401.4,602.3 401.6,529.7 401.9,601.0 402.1,529.4 402.4,602.9 402.6,529.5 402.9,601.0 403.1,536.6 403.4,599.6 403.6,532.5 403.9,601.9 404.1,538.2 404.4,601.2 404.6,539.4 404.9,599.4 405.1,541.1 405.4,606.2 405.6,538.9 405.9,599.1 406.1,542.6 406.4,599.6 406.6,533.5 406.9,600.8 407.1,540.3 407.4,601.1 407.6,541.7 407.9,601.9 408.1,538.5 408.4,601.5 408.6,535.8 408.9,600.9 409.1,534.8 409.4,602.3 409.6,540.7 409.9,605.0 410.1,540.4 410.4,605.8 410.6,533.0 410.9,601.4 411.1,534.0 411.4,601.9 411.6,537.0 411.9,600.4 412.1,533.1 412.4,602.5 412.6,537.3 412.9,601.8 413.1,537.0 413.4,600.8 413.6,540.0 413.9,603.5 414.1,539.0 414.4,600.1 414.6,540.6 414.9,600.6 415.1,539.1 415.4,601.4 415.6,539.8 415.9,600.8 416.1,546.2 416.4,603.8 416.6,548.9 416.9,603.4 417.1,546.3 417.4,603.3 417.6,551.8 417.9,602.3 418.1,553.2 418.4,604.6 418.6,551.1 418.9,603.1 419.1,551.8 419.4,601.8 419.6,551.4 419.9,602.0 420.1,555.8 420.4,601.2 420.6,561.1 420.9,603.1 421.1,559.1 421.4,601.6 421.6,560.2 421.9,603.8 422.1,560.8 422.4,603.9 422.6,559.5 422.9,605.8 423.1,561.0 423.4,600.5 423.6,557.1 423.9,604.0 424.1,561.6 424.4,602.7 424.6,556.3 424.9,601.5 425.1,558.9 425.4,600.0 425.6,555.4 425.9,602.8 426.1,562.9 426.4,601.0 426.6,562.2 426.9,601.8 427.1,561.7 427.4,602.7 427.6,558.3 427.9,601.4 428.1,556.0 428.4,604.0 428.6,559.5 428.9,601.8 429.1,559.0 429.4,600.8 429.6,563.0 429.9,610.3 430.1,559.9 430.4,602.5 430.6,563.2 430.9,606.3 431.1,564.1 431.4,601.2 431.6,565.7 431.9,604.0 432.1,567.6 432.4,601.3 432.6,568.2 432.9,608.2 433.1,568.8 433.4,600.8 433.6,571.4 433.9,604.2 434.1,571.6 434.4,602.2 434.6,574.3 434.9,601.4 435.1,574.6 435.4,601.1 435.6,574.4 435.9,602.0 436.1,569.5 436.4,603.2 436.6,572.0 436.9,604.6 437.1,576.5 437.4,604.2 437.6,574.7 437.9,602.4 438.1,573.7 438.4,601.3 438.6,567.1 438.9,601.6 439.1,567.3 439.4,601.8 439.6,566.2 439.9,601.6 440.1,563.8 440.4,601.4 440.6,567.4 440.9,601.0 441.1,566.5 441.4,600.2 441.6,567.7 441.9,601.3 442.1,565.6 442.4,600.8 442.6,568.1 442.9,603.7 443.1,561.8 443.4,601.4 443.6,565.8 443.9,601.2 444.1,565.1 444.4,600.7 444.6,565.0 444.9,602.5 445.1,564.7 445.4,601.7 445.6,563.4 445.9,605.5 446.1,563.3 446.4,602.0 446.6,558.7 446.9,602.6 447.1,553.7 447.4,601.4 447.6,553.8 447.9,602.3 448.1,558.5 448.4,604.4 448.6,553.0 448.9,601.2 449.1,552.1 449.4,602.1 449.6,554.1 449.9,600.5 450.1,553.1 450.4,605.0 450.6,557.5 450.9,602.7 451.1,555.0 451.4,603.4 451.6,558.9 451.9,603.1 452.1,561.6 452.4,602.0 452.6,563.4 452.9,606.2 453.1,564.8 453.4,605.4 453.6,562.2 453.9,600.3 454.1,556.7 454.4,602.9 454.6,552.6 454.9,601.5 455.1,557.6 455.4,605.2 455.6,551.8 455.9,601.4 456.1,550.6 456.4,604.8 456.6,544.3 456.9,602.2 457.1,546.3 457.4,602.8 457.6,535.1 457.9,603.1 458.1,542.3 458.4,602.9 458.6,541.8 458.9,604.1 459.1,544.3 459.4,608.0 459.6,538.8 459.9,602.5 460.1,527.3 460.4,599.9 460.6,545.3 460.9,600.3 461.1,541.1 461.4,602.6 461.6,536.7 461.9,601.9 462.1,556.3 462.4,601.7 462.6,554.2 462.9,601.0 463.1,557.6 463.4,603.5 463.6,557.4 463.9,602.0 464.1,561.2 464.4,601.6 464.6,558.2 464.9,604.0 465.1,563.7 465.4,603.9 465.6,561.8 465.9,601.5 466.1,566.7 466.4,601.4 466.6,564.7 466.9,604.9 467.1,564.0 467.4,602.1 467.4,580.6" fill="none" stroke="#4e79a7" stroke-width="1.40" stroke-linejoin="round"/><polyline points="471.3,580.2 471.3,566.8 471.6,601.7 471.8,563.6 472.1,601.9 472.3,565.9 472.6,608.5 472.8,564.1 473.1,600.6 473.3,567.5 473.6,601.4 473.8,567.7 474.1,607.1 474.3,565.3 474.6,600.9 474.8,566.9 475.1,602.4 475.3,565.8 475.6,602.3 475.8,560.8 476.1,607.5 476.3,567.7 476.6,601.1 476.8,566.3 477.1,602.1 477.3,568.7 477.6,604.5 477.8,559.6 478.1,602.2 478.3,561.6 478.6,601.0 478.8,564.5 479.1,602.9 479.3,568.9 479.6,602.4 479.8,571.0 480.1,602.4 480.3,569.3 480.6,603.3 480.8,569.4 481.1,601.3 481.3,565.9 481.6,601.2 481.8,568.2 482.1,600.9 482.3,555.3 482.6,602.5 482.8,560.4 483.1,603.0 483.3,565.8 483.6,600.8 483.8,560.7 484.1,603.2 484.3,562.4 484.6,602.3 484.8,560.7 485.1,600.6 485.3,565.5 485.6,603.0 485.8,565.6 486.1,603.9 486.3,563.8 486.6,602.8 486.8,562.3 487.1,601.4 487.3,562.0 487.6,604.7 487.8,564.6 488.1,601.9 488.3,564.4 488.6,602.8 488.8,557.2 489.1,600.7 489.3,562.6 489.6,605.1 489.8,562.3 490.1,603.0 490.3,561.4 490.6,602.5 490.8,559.7 491.1,602.3 491.3,561.4 491.6,602.9 491.8,558.5 492.1,601.3 492.3,556.9 492.6,604.6 492.8,562.8 493.1,603.4 493.3,564.3 493.6,602.1 493.8,564.0 494.1,604.0 494.3,566.6 494.6,602.6 494.8,553.8 495.1,602.8 495.3,565.0 495.6,607.3 495.8,570.4 496.1,604.2 496.3,568.9 496.6,601.9 496.8,563.5 497.1,603.3 497.3,565.0 497.6,605.5 497.8,562.9 498.1,603.0 498.3,559.8 498.6,601.1 498.8,561.4 499.1,602.2 499.3,561.6 499.6,603.9 499.8,560.0 500.1,601.0 500.3,556.8 500.6,603.1 500.8,558.0 501.1,603.7 501.3,555.5 501.6,602.7 501.8,553.9 502.1,604.3 502.3,554.4 502.6,604.0 502.8,552.4 503.1,604.1 503.3,554.7 503.6,602.4 503.8,552.5 504.1,601.8 504.3,538.9 504.6,601.2 504.8,546.6 505.1,601.2 505.3,543.9 505.6,602.6 505.8,541.0 506.1,602.7 506.3,537.1 506.6,600.6 506.8,541.4 507.1,601.4 507.3,540.8 507.6,603.2 507.8,543.8 508.1,600.7 508.3,540.2 508.6,604.4 508.8,541.0 509.1,601.4 509.3,540.1 509.6,601.0 509.8,541.8 510.1,600.5 510.3,553.7 510.6,603.5 510.8,556.8 511.1,601.7 511.3,549.9 511.6,606.0 511.8,558.7 512.0,602.2 512.3,559.2 512.5,602.3 512.8,542.5 513.0,603.3 513.3,559.1 513.5,600.1 513.8,554.0 514.0,601.9 514.3,549.2 514.5,604.0 514.8,541.6 515.0,600.7 515.3,551.2 515.5,601.9 515.8,551.3 516.0,600.5 516.3,552.1 516.5,601.5 516.8,549.9 517.0,605.7 517.3,553.8 517.5,602.9 517.8,558.5 518.0,602.1 518.3,561.1 518.5,602.9 518.8,556.2 519.0,600.6 519.3,559.7 519.5,602.5 519.8,560.9 520.0,601.5 520.3,564.3 520.5,602.1 520.8,558.4 521.0,601.6 521.3,564.6 521.5,601.0 521.8,565.4 522.0,604.3 522.3,564.6 522.5,601.0 522.8,559.1 523.0,601.6 523.3,565.1 523.5,601.2 523.8,559.1 524.0,600.9 524.3,557.7 524.5,603.3 524.8,564.0 525.0,605.3 525.3,566.5 525.5,601.0 525.8,567.7 526.0,603.5 526.3,561.0 526.5,604.4 526.8,565.2 527.0,602.6 527.3,563.7 527.5,603.0 527.8,565.6 528.0,601.4 528.3,566.5 528.5,601.7 528.8,562.8 529.0,601.5 529.3,568.4 529.5,601.8 529.8,567.7 530.0,601.1 530.3,570.5 530.5,602.8 530.8,567.4 531.0,601.6 531.3,570.7 531.5,603.1 531.8,563.9 532.0,601.0 532.3,563.1 532.5,601.4 532.8,564.0 533.0,602.0 533.3,565.7 533.5,601.8 533.8,564.2 534.0,600.4 534.3,563.5 534.5,600.8 534.8,566.7 535.0,602.2 535.3,566.6 535.5,603.9 535.8,566.7 536.0,600.3 536.3,567.4 536.5,601.3 536.8,570.2 537.0,602.2 537.3,569.1 537.5,603.0 537.8,570.8 538.0,602.1 538.3,565.2 538.5,600.9 538.8,571.3 539.0,604.0 539.3,574.1 539.5,602.8 539.8,575.3 540.0,604.8 540.3,576.8 540.5,601.2 540.8,574.2 541.0,601.8 541.3,565.6 541.5,600.9 541.8,569.6 542.0,602.4 542.3,569.6 542.5,600.8 542.8,573.3 543.0,601.1 543.3,563.5 543.5,605.2 543.8,567.5 544.0,600.6 544.3,570.1 544.5,603.9 544.8,565.1 545.0,603.7 545.3,567.7 545.5,604.1 545.8,573.3 546.0,601.9 546.3,569.6 546.5,601.8 546.8,574.0 547.0,604.5 547.3,578.5 547.5,603.0 547.8,575.5 548.0,602.7 548.3,572.4 548.5,602.9 548.8,575.7 549.0,602.4 549.3,572.6 549.5,604.4 549.8,575.1 550.0,602.0 550.3,570.0 550.5,601.1 550.8,571.8 551.0,605.4 551.3,568.9 551.5,607.9 551.8,573.2 552.0,602.3 552.3,572.1 552.5,603.7 552.8,571.2 553.0,604.1 553.3,573.7 553.5,603.5 553.8,569.4 554.0,600.6 554.3,569.6 554.5,601.4 554.8,570.7 555.0,602.0 555.3,569.0 555.5,602.5 555.8,571.8 556.0,604.7 556.3,569.9 556.5,600.6 556.8,567.2 557.0,604.4 557.3,567.6 557.5,603.8 557.8,571.2 558.0,602.4 558.3,571.4 558.5,601.3 558.8,570.6 559.0,601.2 559.3,568.1 559.5,603.1 559.8,572.0 560.0,604.4 560.3,572.2 560.5,601.2 560.8,571.6 561.0,602.6 561.3,568.0 561.5,603.3 561.8,564.3 562.0,601.4 562.3,571.8 562.5,601.3 562.8,567.6 563.0,600.1 563.3,573.5 563.5,602.8 563.8,570.1 564.0,603.3 564.3,573.3 564.5,600.9 564.8,565.5 565.0,601.8 565.3,569.0 565.5,600.3 565.8,569.7 566.0,602.5 566.3,569.6 566.5,605.6 566.8,571.2 567.0,602.6 567.3,574.6 567.5,603.1 567.8,569.0 568.0,603.7 568.3,573.6 568.5,601.5 568.8,575.4 569.0,603.6 569.3,569.9 569.5,603.7 569.8,568.8 570.0,602.8 570.3,570.9 570.5,601.8 570.8,569.0 571.0,602.8 571.3,572.8 571.5,603.3 571.8,570.1 572.0,603.4 572.3,565.8 572.5,603.2 572.8,571.3 573.0,602.3 573.3,565.7 573.5,602.3 573.8,571.6 574.0,601.9 574.3,569.2 574.5,602.9 574.8,555.8 575.0,604.7 575.3,559.8 575.5,602.8 575.8,559.7 576.0,603.2 576.3,566.5 576.5,605.9 576.8,567.7 577.0,603.9 577.3,566.4 577.5,601.5 577.8,565.3 578.0,605.4 578.3,565.4 578.5,601.7 578.8,558.9 579.0,600.5 579.3,560.4 579.5,605.5 579.8,556.2 580.0,601.0 580.3,557.7 580.5,603.5 580.8,551.7 581.0,603.7 581.3,551.7 581.5,596.9 581.8,552.0 582.0,595.7 582.3,551.8 582.5,596.6 582.8,549.5 583.0,598.5 583.3,546.8 583.5,596.8 583.8,550.4 584.0,596.8 584.3,550.5 584.5,595.1 584.8,543.3 585.0,595.8 585.3,549.6 585.5,595.0 585.8,554.9 586.0,596.5 586.3,552.7 586.5,594.9 586.8,555.1 587.0,595.6 587.3,551.5 587.5,595.8 587.8,556.2 588.0,595.9 588.3,556.2 588.5,597.8 588.8,558.9 589.0,596.9 589.3,561.6 589.5,595.2 589.8,563.2 590.0,600.4 590.3,563.1 590.5,599.5 590.8,564.7 591.0,602.6 591.3,564.6 591.5,599.2 591.8,564.6 592.0,603.2 592.3,563.4 592.5,601.5 592.8,561.8 593.0,602.1 593.3,565.3 593.5,600.2 593.8,563.6 594.0,602.1 594.3,562.9 594.5,601.0 594.8,564.4 595.0,600.4 595.3,560.8 595.5,598.7 595.8,563.0 596.0,601.5 596.3,567.0 596.5,604.7 596.8,564.0 597.0,599.9 597.3,563.0 597.5,601.6 597.8,550.7 598.0,599.8 598.3,557.4 598.5,599.8 598.8,565.5 599.0,603.4 599.3,565.9 599.5,600.5 599.8,565.3 600.0,599.7 600.3,564.5 600.5,602.1 600.8,557.2 601.0,600.7 601.3,573.5 601.5,600.3 601.8,570.7 602.0,602.0 602.3,579.1 602.5,600.9 602.8,572.0 603.0,600.4 603.3,578.5 603.5,601.2 603.8,579.5 604.0,601.4 604.3,582.4 604.5,599.3 604.8,580.2 605.0,600.8 605.3,573.5 605.5,600.5 605.8,581.4 606.0,602.2 606.3,583.1 606.5,601.3 606.8,578.7 607.0,600.2 607.3,582.9 607.5,601.0 607.8,580.8 608.0,600.5 608.3,573.8 608.5,601.8 608.8,575.1 609.0,599.4 609.3,572.6 609.5,599.8 609.8,571.3 610.0,603.3 610.3,572.8 610.5,601.1 610.8,568.5 611.0,601.3 611.4,588.1" fill="none" stroke="#4e79a7" stroke-width="1.40" stroke-linejoin="round"/><polyline points="615.8,583.8 615.8,559.5 616.0,600.0 616.3,564.9 616.5,599.5 616.8,562.3 617.0,600.9 617.3,562.1 617.5,601.7 617.8,564.9 618.0,602.8 618.3,562.4 618.5,598.8 618.8,561.3 619.0,600.7 619.3,562.1 619.5,600.5 619.8,562.7 620.0,598.7 620.3,560.3 620.5,599.8 620.8,559.8 621.0,599.4 621.3,563.3 621.5,600.5 621.8,563.9 622.0,597.6 622.3,562.3 622.5,598.8 622.8,564.9 623.0,600.8 623.2,580.0" fill="none" stroke="#4e79a7" stroke-width="1.40" stroke-linejoin="round"/><polyline points="628.7,589.2 628.7,576.0 629.0,601.8 629.2,568.9 629.5,601.1 629.7,572.5 630.0,603.9 630.2,572.2 630.5,604.5 630.7,572.4 631.0,599.7 631.2,568.6 631.5,600.4 631.7,566.9 632.0,600.2 632.2,570.4 632.5,600.8 632.7,571.3 633.0,601.9 633.2,571.8 633.5,600.8 633.7,572.2 634.0,599.9 634.2,576.8 634.5,602.3 634.7,576.0 635.0,599.7 635.2,578.7 635.5,602.7 635.7,578.9 636.0,599.5 636.2,576.6 636.5,601.5 636.7,573.7 637.0,602.9 637.2,572.5 637.5,601.4 637.7,568.9 638.0,600.2 638.2,570.8 638.5,601.6 638.7,570.6 639.0,603.6 639.2,576.3 639.5,600.3 639.7,573.3 640.0,603.0 640.2,574.3 640.5,602.8 640.7,578.4 641.0,601.6 641.2,575.9 641.5,601.2 641.7,581.8 642.0,607.6 642.2,581.1 642.5,601.7 642.7,578.1 643.0,602.4 643.2,579.9 643.5,599.8 643.7,581.5 644.0,600.5 644.2,575.8 644.5,600.0 644.7,580.6 645.0,599.2 645.2,583.7 645.5,605.2 645.7,581.3 646.0,601.6 646.2,584.4 646.5,604.4 646.7,578.1 647.0,601.5 647.2,581.2 647.5,600.3 647.7,578.7 648.0,601.6 648.2,576.3 648.5,601.4 648.7,567.3 649.0,602.9 649.2,570.7 649.5,600.9 649.7,564.8 650.0,599.4 650.2,565.6 650.5,599.9 650.7,561.3 651.0,604.2 651.2,565.0 651.5,600.1 651.7,559.8 652.0,602.0 652.2,556.8 652.5,601.7 652.7,560.0 653.0,600.0 653.2,559.5 653.5,602.8 653.7,566.4 654.0,601.5 654.2,562.4 654.5,600.6 654.7,567.3 655.0,603.4 655.2,570.4 655.5,601.2 655.7,566.7 656.0,600.0 656.2,560.3 656.5,601.6 656.7,568.9 657.0,599.9 657.2,566.6 657.5,600.1 657.7,562.1 658.0,601.3 658.2,563.7 658.5,600.4 658.7,567.5 659.0,601.4 659.2,563.2 659.5,601.7 659.7,556.8 660.0,602.1 660.2,557.4 660.5,601.5 660.7,553.0 661.0,603.3 661.2,545.9 661.5,602.5 661.7,543.2 662.0,601.7 662.2,539.2 662.5,601.5 662.7,527.7 663.0,599.5 663.2,538.8 663.5,601.6 663.7,536.8 664.0,602.2 664.2,533.1 664.5,601.3 664.7,538.2 665.0,601.6 665.2,539.0 665.5,600.9 665.7,540.9 666.0,601.5 666.2,540.1 666.5,600.3 666.7,545.4 667.0,599.4 667.2,543.7 667.5,604.3 667.7,543.1 668.0,602.0 668.2,541.0 668.5,602.1 668.7,544.3 669.0,600.6 669.2,548.5 669.5,600.9 669.7,556.2 670.0,601.1 670.2,558.5 670.5,599.9 670.7,556.3 671.0,601.2 671.2,560.4 671.5,599.5 671.7,556.4 672.0,599.8 672.2,558.5 672.5,600.4 672.7,559.3 673.0,600.3 673.2,559.1 673.5,600.8 673.7,560.2 674.0,599.5 674.2,559.7 674.5,600.2 674.7,563.8 675.0,601.7 675.2,554.0 675.5,600.0 675.7,561.9 676.0,600.6 676.2,561.2 676.5,604.5 676.7,561.0 677.0,599.9 677.2,562.2 677.5,603.0 677.7,562.7 678.0,600.5 678.2,563.2 678.5,600.9 678.7,561.3 679.0,600.8 679.2,556.8 679.5,601.0 679.7,561.5 680.0,601.3 680.2,564.3 680.5,603.3 680.7,563.2 681.0,601.7 681.2,563.5 681.5,600.2 681.7,560.6 682.0,599.9 682.2,561.8 682.5,601.0 682.7,557.8 683.0,601.8 683.2,559.2 683.5,602.2 683.7,563.1 684.0,600.4 684.2,559.0 684.5,607.5 684.7,557.0 685.0,600.6 685.2,559.2 685.5,600.5 685.7,560.7 686.0,601.0 686.2,561.0 686.5,599.6 686.7,560.0 687.0,601.4 687.2,561.9 687.5,599.6 687.7,562.5 688.0,601.4 688.2,559.9 688.5,601.5 688.7,561.9 689.0,602.5 689.2,563.6 689.5,599.0 689.7,564.3 690.0,600.4 690.2,561.9 690.5,602.0 690.7,563.6 691.0,601.1 691.2,561.0 691.5,600.9 691.7,563.0 692.0,600.0 692.2,551.8 692.5,600.2 692.7,558.4 693.0,601.7 693.2,558.9 693.5,600.8 693.7,558.4 694.0,599.8 694.2,561.3 694.5,599.8 694.7,559.0 695.0,601.3 695.2,559.5 695.5,601.2 695.7,561.5 696.0,603.2 696.2,558.9 696.5,599.4 696.7,560.6 697.0,602.5 697.2,561.9 697.5,600.3 697.7,558.3 698.0,601.6 698.2,562.1 698.5,601.9 698.7,556.2 699.0,600.1 699.2,561.8 699.5,600.3 699.7,558.4 700.0,601.7 700.2,560.9 700.5,600.1 700.7,560.6 701.0,600.6 701.2,559.7 701.5,598.4 701.7,558.0 702.0,601.7 702.2,560.9 702.5,602.1" fill="none" stroke="#4e79a7" stroke-width="1.40" stroke-linejoin="round"/><path d="M467.4 580.6L471.3 580.2M611.4 588.1L615.8 583.8M623.2 580.0L628.7 589.2" stroke="#4e79a7" stroke-width="0.7" fill="none"/><path d="M398.85 527.9V524.8M401.35 523.4V523.3M407.35 540.3V533.0M408.85 535.8V533.1M410.85 533.0V532.7M415.35 539.1V536.2M416.85 548.9V547.8M417.35 546.3V539.9M418.85 551.1V548.4M421.35 559.1V556.7M425.85 555.4V545.2M428.85 559.5V553.0M429.85 563.0V539.0M431.85 565.7V549.1M435.85 574.4V572.5M440.35 563.8V562.0M440.85 567.4V561.2M441.85 567.7V562.0M447.35 553.7V544.9M450.85 557.5V556.4M458.35 542.3V531.8M463.35 557.6V556.3M464.85 558.2V557.0M466.35 566.7V563.7M472.05 563.6V563.4M473.05 564.1V559.4M478.05 559.6V558.9M486.05 565.6V564.9M488.05 564.6V562.6M490.55 561.4V559.4M492.05 558.5V540.7M493.05 562.8V544.8M495.05 553.8V553.3M502.55 554.4V548.7M509.05 541.0V537.2M513.05 542.5V535.9M517.05 549.9V547.0M521.05 558.4V554.0M525.05 564.0V563.5M526.05 567.7V561.9M529.05 562.8V561.0M531.55 570.7V560.9M536.55 567.4V564.9M537.05 570.2V565.7M539.05 571.3V571.2M543.55 563.5V558.4M545.55 567.7V559.1M547.05 574.0V570.4M549.55 572.6V564.3M550.05 575.1V571.6M559.55 568.1V558.7M568.05 569.0V565.6M570.05 568.8V561.7M572.05 570.1V569.9M574.05 571.6V569.5M575.55 559.8V559.8M577.55 566.4V559.5M578.55 565.4V564.9M579.55 560.4V556.2M583.55 546.8V540.3M584.55 550.5V542.0M585.05 543.3V540.3M586.05 554.9V543.1M587.55 551.5V544.7M590.05 563.2V560.0M591.05 564.7V564.2M591.55 564.6V563.0M594.05 563.6V559.5M599.55 565.9V564.3M600.55 564.5V560.8M601.05 557.2V555.9M604.05 579.5V576.6M604.55 582.4V579.6M605.55 573.5V568.0M610.05 571.3V570.2M611.05 568.5V568.5M616.05 559.5V557.5M620.55 560.3V559.5M621.55 563.3V560.8M630.95 572.4V572.3M635.45 578.7V574.1M636.95 573.7V566.9M638.95 570.6V556.1M641.45 575.9V572.2M642.95 578.1V577.9M643.45 579.9V575.5M644.45 575.8V572.9M647.95 578.7V577.3M650.95 561.3V551.5M653.45 559.5V558.9M659.95 556.8V550.3M660.45 557.4V556.7M664.95 538.2V535.3M665.45 539.0V531.1M665.95 540.9V539.7M666.45 540.1V538.1M673.45 559.1V552.5M679.45 556.8V546.6M679.95 561.5V560.2M680.45 564.3V553.3M686.45 561.0V560.7M687.95 562.5V553.3M688.95 561.9V561.0M693.95 558.4V554.6M697.45 561.9V538.4M698.45 562.1V551.2M698.95 556.2V551.2M701.45 559.7V559.5M702.45 560.9V560.6" stroke="#4e79a7" stroke-width="0.8" fill="none"/><path d="M400.0 560.0V518.4M402.0 560.0V516.0M414.0 560.0V516.0M430.0 580.0V530.0M460.0 560.0V525.2M445.0 580.0V549.5M535.0 580.0V549.5M583.0 560.0V530.5M663.0 560.0V525.2M690.0 580.0V547.0M680.0 580.0V550.0" stroke="#4e79a7" stroke-width="2.00" fill="none"/></g>
<g clip-path="url(#c4)"><polyline points="139.8,690.0 140.1,706.9 140.3,689.7 140.6,704.7 140.8,689.2 141.1,702.8 141.3,687.5 141.6,702.3 141.8,688.1 142.1,704.2 142.3,688.2 142.6,703.1 142.8,687.4 143.1,703.8 143.3,690.0 143.6,703.9 143.8,689.2 144.1,709.3 144.3,688.8 144.6,704.4 144.8,687.8 145.1,702.6 145.3,688.7 145.6,707.3 145.8,688.1 146.1,703.1 146.3,687.2 146.6,704.1 146.8,687.7 147.1,702.2 147.3,690.0 147.6,708.3 147.8,689.2 148.1,702.6 148.3,689.4 148.6,702.8 148.8,689.6 149.1,704.5 149.3,689.0 149.6,704.8 149.8,689.1 150.1,704.6 150.3,686.9 150.6,705.2 150.8,688.8 151.1,707.3 151.3,688.2 151.6,703.9 151.8,689.3 152.1,703.0 152.3,689.0 152.6,704.8 152.8,689.1 153.1,705.7 153.3,687.6 153.6,702.3 153.8,689.1 154.1,709.6 154.3,689.6 154.6,703.2 154.8,688.5 155.1,708.8 155.3,689.5 155.6,702.1 155.8,690.0 156.1,708.2 156.3,688.1 156.6,702.7 156.8,688.4 157.1,703.3 157.3,686.7 157.6,705.0 157.8,687.9 158.1,703.1 158.3,688.9 158.6,702.5 158.8,686.7 159.1,703.1 159.3,689.0 159.6,708.9 159.8,689.7 160.1,702.9 160.3,688.7 160.6,703.4 160.8,688.4 161.1,705.2 161.3,689.2 161.6,705.8 161.8,686.4 162.1,702.1 162.3,686.1 162.6,702.6 162.8,688.8 163.1,705.0 163.3,688.2 163.6,705.4 163.8,688.3 164.1,703.9 164.3,689.3 164.6,702.8 164.8,687.1 165.1,705.9 165.3,686.3 165.6,706.4 165.8,688.1 166.1,702.8 166.3,689.9 166.6,706.7 166.8,687.7 167.1,704.3 167.3,689.5 167.6,702.8 167.8,689.6 168.1,703.3 168.3,688.5 168.6,703.4 168.8,689.9 169.1,703.6 169.3,686.9 169.6,706.1 169.8,688.4 170.1,703.1 170.3,688.5 170.6,704.4 170.8,689.0 171.1,703.5 171.3,689.2 171.6,706.1 171.8,689.1 172.1,703.6 172.3,689.6 172.6,701.9 172.8,689.5 173.1,705.1 173.3,688.8 173.6,705.6 173.8,687.7 174.1,703.9 174.3,689.3 174.6,705.1 174.8,687.8 175.1,702.6 175.3,688.8 175.6,704.5 175.8,685.2 176.1,705.8 176.3,682.4 176.6,711.6 176.8,689.3 177.1,703.5 177.3,689.3 177.6,703.6 177.8,686.5 178.1,703.4 178.3,689.6 178.6,705.4 178.8,689.4 179.1,706.9 179.3,685.1 179.6,703.6 179.8,688.4 180.1,703.6 180.3,687.9 180.6,705.9 180.8,689.8 181.1,705.1 181.3,685.9 181.6,704.8 181.8,689.9 182.1,709.2 182.3,687.7 182.6,705.6 182.8,686.9 183.1,702.7 183.3,688.7 183.6,705.4 183.8,689.5 184.1,704.6 184.3,687.9 184.6,703.3 184.8,687.7 185.1,705.5 185.3,688.4 185.6,703.9 185.8,688.9 186.1,702.4 186.3,689.2 186.6,706.4 186.8,687.9 187.1,705.7 187.3,689.1 187.6,704.4 187.8,690.2 188.1,703.5 188.3,689.8 188.6,707.1 188.8,688.9 189.1,703.6 189.3,688.9 189.6,703.7 189.8,689.3 190.1,704.1 190.3,689.8 190.6,703.6 190.8,689.0 191.1,705.5 191.3,688.7 191.6,706.0 191.8,689.0 192.1,704.5 192.3,688.8 192.6,702.3 192.8,690.5 193.1,702.5 193.3,688.5 193.6,702.6 193.8,689.0 194.1,702.3 194.3,688.5 194.6,704.6 194.8,688.9 195.1,703.9 195.3,688.3 195.6,705.8 195.8,689.4 196.1,704.3 196.3,689.1 196.6,703.8 196.8,689.2 197.1,705.5 197.3,686.3 197.6,706.0 197.8,689.6 198.1,705.1 198.3,685.9 198.6,704.3 198.8,689.5 199.1,703.0 199.3,687.7 199.6,703.3 199.8,687.9 200.1,704.5 200.3,688.8 200.6,703.4 200.8,688.8 201.1,704.6 201.3,688.7 201.6,703.5 201.8,685.4 202.1,704.9 202.3,689.0 202.6,702.8 202.8,689.6 203.1,703.1 203.3,688.8 203.6,706.5 203.8,688.9 204.1,704.6 204.3,685.1 204.6,703.7 204.8,688.1 205.1,702.5 205.3,688.6 205.6,705.4 205.8,688.2 206.1,706.3 206.3,686.8 206.6,703.0 206.8,688.3 207.1,704.2 207.3,687.8 207.6,705.7 207.8,688.9 208.1,704.2 208.3,688.3 208.6,704.3 208.8,688.8 209.1,703.6 209.3,689.0 209.6,703.8 209.8,689.2 210.1,703.3 210.3,689.0 210.6,702.8 210.8,688.3 211.1,706.1 211.3,687.5 211.6,703.1 211.8,687.0 212.1,706.1 212.3,688.7 212.6,706.5 212.8,688.3 213.1,705.5 213.3,689.0 213.6,703.9 213.8,689.9 214.1,702.8 214.3,688.0 214.6,704.2 214.8,689.9 215.1,705.1 215.3,689.8 215.6,705.5 215.8,689.3 216.1,706.7 216.3,686.8 216.6,705.0 216.8,688.5 217.1,703.9 217.3,688.2 217.6,704.0 217.8,689.1 218.1,705.5 218.3,688.3 218.6,702.8 218.8,689.4 219.1,704.0 219.3,688.8 219.6,708.8 219.8,689.0 220.1,707.4 220.3,688.5 220.6,704.0 220.8,689.5 221.1,705.1 221.3,690.3 221.6,706.6 221.8,689.4 222.1,703.0 222.3,689.0 222.6,705.4 222.8,687.1 223.1,709.5 223.3,689.9 223.6,706.1 223.8,688.5 224.1,703.7 224.3,688.9 224.6,703.0 224.8,687.4 225.1,704.5 225.3,689.4 225.6,706.0 225.8,688.8 226.1,703.9 226.3,688.8 226.6,704.1 226.8,689.6 227.1,703.0 227.3,690.1 227.6,702.6 227.8,689.8 228.1,705.1 228.3,690.6 228.6,704.3 228.8,689.8 229.1,704.6 229.3,688.6 229.6,704.5 229.8,689.4 230.1,706.7 230.3,688.0 230.6,712.5 230.8,685.8 231.1,702.4 231.3,689.7 231.6,703.6 231.8,689.0 232.1,707.5 232.3,685.8 232.6,707.4 232.8,689.7 233.1,709.9 233.3,686.0 233.6,705.3 233.8,689.2 234.1,707.9 234.3,687.7 234.6,702.3 234.8,688.4 235.1,701.5 235.3,687.6 235.6,703.9 235.8,690.3 236.1,705.3 236.3,687.5 236.6,703.3 236.8,687.5 237.1,705.0 237.3,689.4 237.6,704.4 237.8,689.5 238.1,707.3 238.3,689.1 238.6,710.8 238.8,688.7 239.1,703.9 239.3,688.2 239.6,703.9 239.8,690.0 240.1,703.9 240.3,688.3 240.6,704.9 240.8,688.2 241.1,703.1 241.3,689.8 241.6,703.1 241.8,688.0 242.1,703.3 242.3,687.4 242.6,708.5 242.8,687.7 243.1,705.6 243.3,688.1 243.6,705.9 243.8,689.5 244.1,703.5 244.3,688.8 244.6,706.7 244.8,688.3 245.1,704.9 245.3,688.6 245.6,702.3 245.8,688.3 246.1,705.9 246.3,688.7 246.6,706.1 246.8,689.6 247.1,705.1 247.3,688.8 247.6,703.6 247.8,689.9 248.1,707.3 248.3,688.7 248.6,707.8 248.8,687.9 249.1,706.1 249.3,689.7 249.6,705.9 249.8,685.1 250.1,704.2 250.3,688.5 250.6,705.5 250.8,689.4 251.1,703.4 251.3,688.9 251.6,705.3 251.8,688.6 252.1,704.0 252.3,689.5 252.6,704.9 252.8,688.0 253.1,703.9 253.3,688.6 253.6,704.7 253.8,689.0 254.1,703.9 254.3,690.1 254.6,705.6 254.8,687.6 255.1,708.3 255.3,686.9 255.6,705.6 255.8,684.5 256.1,705.6 256.3,686.3 256.6,705.8 256.8,688.6 257.1,702.9 257.3,689.3 257.6,705.3 257.8,688.5 258.1,706.3 258.3,688.0 258.6,704.2 258.8,690.0 259.1,702.9 259.3,685.9 259.6,704.9 259.8,690.2 260.1,705.1 260.3,686.5 260.6,706.6 260.8,689.1 261.1,706.3 261.3,687.2 261.6,708.0 261.8,688.5 262.1,704.7 262.3,689.7 262.6,710.7 262.8,689.1 263.1,708.6 263.3,688.9 263.6,704.7 263.8,686.5 264.1,703.0 264.3,688.9 264.6,712.1 264.8,690.1 265.1,713.6 265.3,690.2 265.6,704.2 265.8,686.7 266.1,706.0 266.3,688.8 266.6,704.2 266.8,688.5 267.1,705.5 267.3,688.7 267.6,706.7 267.8,689.8 268.1,702.7 268.3,687.9 268.6,705.2 268.8,690.5 269.1,705.0 269.3,687.1 269.6,713.3 269.8,689.1 270.1,704.3 270.3,689.4 270.6,704.0 270.8,689.4 271.1,704.4 271.3,689.4 271.6,709.1 271.8,689.0 272.1,713.4 272.3,686.6 272.6,704.9 272.8,687.8 273.1,706.0 273.3,688.9 273.6,708.0 273.8,688.6 274.1,707.8 274.3,684.3 274.6,705.9 274.8,685.3 275.1,706.2 275.3,687.9 275.6,713.9 275.8,686.2 276.1,708.7 276.3,687.0 276.6,705.8 276.8,689.0 277.1,711.2 277.3,690.2 277.6,707.4 277.8,688.1 278.1,707.7 278.3,690.0 278.6,708.1 278.8,689.6 279.1,706.3 279.3,690.1 279.6,708.0 279.8,688.4 280.1,706.4 280.3,689.8 280.6,708.3 280.8,688.0 281.1,707.7 281.3,689.0 281.6,707.6 281.8,689.1 282.1,708.0 282.3,688.3 282.6,708.3 282.8,688.9 283.1,708.0 283.3,686.4 283.6,709.2 283.8,686.3 284.1,710.4 284.3,689.0 284.6,709.2 284.8,688.6 285.1,708.2 285.3,689.6 285.6,710.5 285.8,688.4 286.1,711.5 286.3,688.7 286.6,709.0 286.8,689.0 287.1,709.2 287.3,687.1 287.6,708.7 287.8,689.5 288.1,708.0 288.3,690.1 288.6,715.3 288.8,689.7 289.1,712.1 289.3,690.1 289.6,710.5 289.8,689.1 290.1,708.3 290.3,689.1 290.6,709.5 290.8,690.5 291.1,708.7 291.3,687.2 291.6,709.9 291.8,689.6 292.1,709.5 292.3,688.0 292.6,709.4 292.8,688.7 293.1,714.5 293.3,688.9 293.6,707.8 293.8,689.8 294.1,714.0 294.3,689.4 294.6,708.5 294.8,689.2 295.1,708.8 295.3,687.5 295.6,708.9 295.8,688.1 296.1,714.6 296.3,688.7 296.6,710.8 296.8,688.1 297.1,708.7 297.3,689.5 297.6,710.0 297.8,688.4 298.1,708.5 298.3,690.1 298.6,710.2 298.8,688.1 299.1,708.2 299.3,689.2 299.6,710.9 299.8,689.2 300.1,711.3 300.3,688.8 300.6,709.4 300.8,690.0 301.1,709.0 301.3,688.0 301.6,708.9 301.8,689.6 302.1,709.6 302.3,687.7 302.6,710.8 302.8,686.4 303.1,710.8 303.3,688.5 303.6,708.6 303.8,688.2 304.1,713.8 304.3,688.9 304.6,709.7 304.8,690.3 305.1,708.4 305.3,689.8 305.6,709.8 305.8,689.9 306.1,708.7 306.3,688.7 306.6,709.0 306.8,689.6 307.1,710.0 307.3,689.5 307.6,711.3 307.8,688.9 308.1,709.2 308.3,689.5 308.6,711.1 308.8,689.9 309.1,709.0 309.3,690.3 309.6,710.0 309.8,689.2 310.1,711.8 310.3,687.7 310.6,709.7 310.8,689.1 311.1,708.2 311.3,687.8 311.6,709.1 311.8,688.4 312.1,708.2 312.3,688.3 312.6,709.6 312.8,687.6 313.1,708.9 313.3,688.3 313.6,709.0 313.8,687.1 314.1,708.1 314.3,687.5 314.6,706.6 314.8,690.0 315.1,708.7 315.3,689.8 315.6,707.8 315.8,688.3 316.1,707.0 316.3,689.0 316.6,706.6 316.8,689.4 317.1,705.3 317.3,689.5 317.6,705.2 317.8,690.1 318.1,704.6 318.3,686.6 318.6,703.5 318.8,687.4 319.1,704.0 319.3,689.5 319.6,705.7 319.8,689.9 320.1,708.4 320.3,689.2 320.6,705.4 320.8,688.4 321.1,704.2 321.3,689.6 321.6,706.1 321.8,687.4 322.1,704.2 322.3,688.6 322.6,704.8 322.8,689.6 323.1,703.2 323.3,689.7 323.6,704.4 323.8,689.4 324.1,709.9 324.3,689.6 324.6,705.1 324.8,689.1 325.1,704.2 325.3,689.9 325.6,705.9 325.8,689.5 326.1,707.3 326.3,688.4 326.6,704.3 326.8,689.7 327.1,710.0 327.3,690.0 327.6,706.0 327.8,689.3 328.1,704.7 328.3,690.1 328.6,706.1 328.8,689.5 329.1,705.0 329.3,690.2 329.6,705.9 329.8,689.1 330.1,707.4 330.3,688.0 330.6,704.4 330.8,690.2 331.1,705.9 331.3,689.7 331.6,703.6 331.8,689.5 332.1,705.6 332.3,690.1 332.6,703.5 332.8,687.3 333.1,704.2 333.3,690.1 333.6,703.9 333.8,689.5 334.1,704.2 334.3,688.6 334.6,706.3 334.8,686.5 335.1,710.3 335.3,689.7 335.6,703.1 335.8,689.0 336.1,705.3 336.3,687.6 336.6,708.3 336.8,689.8 337.1,705.3 337.3,686.7 337.6,704.5 337.8,687.7 338.1,704.6 338.3,689.3 338.6,705.3 338.8,688.7 339.1,704.5 339.3,689.4 339.6,704.4 339.8,687.9 340.1,703.8 340.3,689.2 340.6,705.1 340.8,689.0 341.1,705.7 341.3,686.6 341.6,712.4 341.8,687.6 342.1,703.7 342.3,688.0 342.6,702.5 342.8,690.3 343.1,707.0 343.3,688.9 343.6,703.6 343.8,689.5 344.1,706.6 344.3,687.4 344.6,702.6 344.8,689.8 345.1,704.6 345.3,688.9 345.6,702.9 345.8,688.8 346.1,710.5 346.3,689.8 346.6,703.1 346.8,689.8 347.1,704.3 347.3,688.1 347.6,707.6 347.8,689.7 348.1,704.9 348.3,689.8 348.6,706.3 348.8,689.6 349.1,705.4 349.3,690.0 349.6,704.5 349.8,688.9 350.1,704.9 350.3,689.9 350.6,705.3 350.8,689.3 351.1,706.6 351.3,689.9 351.6,702.9 351.8,690.5 352.1,706.9 352.3,690.1 352.6,704.5 352.8,690.1 353.1,704.2 353.3,688.9 353.6,704.7 353.8,687.1 354.1,707.1 354.3,689.5 354.6,703.2 354.8,688.9 355.1,706.6 355.3,689.4 355.6,704.5 355.8,688.4 356.1,705.8 356.3,689.3 356.6,706.0 356.8,688.9 357.1,706.4 357.3,689.9 357.6,704.8 357.8,689.2 358.1,709.6 358.3,689.1 358.6,704.5 358.8,688.4 359.1,702.0 359.3,688.5 359.6,704.8 359.8,690.0 360.1,719.7 360.3,689.3 360.6,703.2 360.8,688.6 361.1,706.4 361.3,688.2 361.6,705.8 361.8,689.4 362.1,704.1 362.3,687.7 362.6,706.8 362.8,689.0 363.1,706.1 363.3,689.3 363.6,706.1 363.8,689.8 364.1,704.0 364.3,689.4 364.6,705.5 364.8,688.2 365.1,704.0 365.3,688.9 365.6,702.6 365.8,688.7 366.1,705.2 366.3,689.0 366.6,707.3 366.8,689.9 367.1,704.9 367.3,689.7 367.6,705.5 367.8,690.6 368.1,703.8 368.3,688.8 368.6,704.6 368.8,689.0 369.1,708.4 369.3,688.3 369.6,705.2 369.8,688.0 370.1,704.1 370.3,689.7 370.6,705.1 370.8,688.0 371.1,704.7 371.3,689.8 371.6,708.1 371.8,689.8 372.1,704.6 372.3,688.7 372.6,705.4 372.8,689.7 373.1,703.7 373.3,689.1 373.6,705.7 373.8,689.9 374.1,704.9 374.3,690.4 374.6,702.1 374.8,688.7 375.1,702.5 375.3,688.9 375.6,703.4 375.8,688.2 376.1,711.0 376.3,688.9 376.6,703.8 376.8,688.7 377.1,704.3 377.3,689.0 377.6,704.1 377.8,691.1 378.1,704.1 378.3,689.7 378.6,707.8 378.8,690.2 379.1,707.1 379.3,687.2 379.6,703.4 379.8,689.9 380.1,704.3 380.3,688.8 380.6,704.5 380.8,688.7 381.1,706.0 381.3,688.7 381.6,704.5 381.8,688.3 382.1,704.3 382.3,690.6 382.6,707.2 382.8,689.2 383.1,705.4 383.3,684.3 383.6,708.2 383.8,688.7 384.1,705.8 384.3,689.8 384.6,704.7 384.8,689.4 385.1,703.1 385.3,689.2 385.6,704.7 385.8,689.5 386.1,704.3 386.3,689.1 386.6,705.6 386.8,689.3 387.1,704.9 387.3,690.1 387.6,705.1 387.8,689.8 388.1,706.4 388.3,688.8 388.6,705.2 388.8,688.0 389.1,705.7 389.3,690.3 389.6,704.1 389.8,690.2 390.1,705.7 390.3,689.7 390.6,704.9 390.8,689.0 391.1,705.8 391.3,688.7 391.6,702.9 391.8,689.1 392.1,703.1 392.3,688.8 392.6,704.0 392.8,689.0 393.1,704.0 393.3,689.4 393.6,703.5 393.8,689.6 394.1,704.4 394.3,683.7 394.6,703.4 394.8,688.6 395.1,705.0 395.3,688.7 395.6,703.8 395.8,689.7 396.1,704.9 396.3,690.3 396.6,709.0 396.8,689.2 397.1,704.7 397.3,689.3 397.6,704.7 397.8,689.0 398.1,706.0 398.3,688.8 398.6,703.6 398.6,676.3 398.9,695.6 399.1,677.3 399.4,696.8 399.6,676.0 399.9,698.2 400.1,677.1 400.4,697.7 400.6,677.9 400.9,700.2 401.1,676.6 401.4,698.5 401.6,677.1 401.9,698.2 402.1,677.7 402.4,697.4 402.6,676.6 402.9,695.6 403.1,676.5 403.4,698.5 403.6,676.4 403.9,696.2 404.1,675.6 404.4,713.9 404.6,677.5 404.9,697.5 405.1,676.5 405.4,705.5 405.6,677.9 405.9,700.4 406.1,677.4 406.4,695.9 406.6,676.5 406.9,700.3 407.1,677.7 407.4,697.0 407.6,675.9 407.9,698.1 408.1,675.6 408.4,697.3 408.6,676.3 408.9,695.2 409.1,675.3 409.4,697.2 409.6,676.2 409.9,696.6 410.1,677.4 410.4,698.6 410.6,676.9 410.9,697.6 411.1,675.1 411.4,697.7 411.6,676.2 411.9,702.5 412.1,677.5 412.4,697.8 412.6,676.3 412.9,697.7 413.1,677.8 413.4,698.3 413.6,678.1 413.9,699.3 414.1,677.4 414.4,700.5 414.6,678.2 414.9,698.4 415.1,678.0 415.4,699.2 415.6,676.0 415.9,708.0 416.1,677.7 416.4,701.6 416.6,675.9 416.9,706.1 417.1,676.8 417.4,698.7 417.6,676.1 417.9,697.7 418.1,677.3 418.4,695.9 418.6,676.3 418.9,704.4 419.1,677.4 419.4,697.9 419.6,676.2 419.9,696.2 420.1,676.6 420.4,701.2 420.6,677.8 420.9,696.2 421.1,676.2 421.4,698.1 421.6,677.9 421.9,696.8 422.1,677.3 422.4,700.5 422.6,677.0 422.9,698.8 423.1,677.3 423.4,697.8 423.6,676.9 423.9,698.7 424.1,677.2 424.4,695.9 424.6,676.4 424.9,698.2 425.1,677.1 425.4,697.7 425.6,678.0 425.9,697.1 426.1,678.1 426.4,698.6 426.6,678.1 426.9,700.2 427.1,675.7 427.4,698.9 427.6,678.2 427.9,699.6 428.1,677.4 428.4,699.9 428.6,677.9 428.9,697.1 429.1,677.5 429.4,699.7 429.6,677.1 429.9,699.0 430.1,677.7 430.4,698.8 430.6,677.5 430.9,703.2 431.1,677.4 431.4,700.6 431.6,676.4 431.9,697.6 432.1,678.0 432.4,700.2 432.6,678.2 432.9,698.4 433.1,677.8 433.4,703.1 433.6,678.6 433.9,703.1 434.1,679.1 434.4,699.3 434.6,677.6 434.9,699.7 435.1,678.1 435.4,698.8 435.6,678.3 435.9,702.5 436.1,676.9 436.4,701.6 436.6,678.7 436.9,699.0 437.1,676.1 437.4,698.8 437.6,677.8 437.9,720.9 438.1,677.4 438.4,698.8 438.6,677.1 438.9,702.7 439.1,677.5 439.4,702.1 439.6,679.2 439.9,712.0 440.1,679.3 440.4,700.7 440.6,676.6 440.9,701.8 441.1,678.5 441.4,700.6 441.6,678.0 441.9,702.7 442.1,677.9 442.4,700.2 442.6,677.8 442.9,700.4 443.1,677.7 443.4,712.5 443.6,679.7 443.9,702.5 444.1,678.8 444.4,707.4 444.6,677.4 444.9,704.7 445.1,679.6 445.4,699.6 445.6,679.5 445.9,708.3 446.1,679.0 446.4,699.0 446.6,678.9 446.9,699.8 447.1,677.6 447.4,700.3 447.6,676.5 447.9,701.9 448.1,679.4 448.4,698.6 448.6,679.4 448.9,703.0 449.1,678.4 449.4,702.1 449.6,677.5 449.9,702.2 450.1,678.9 450.4,698.9 450.6,679.0 450.9,708.9 451.1,676.3 451.4,699.1 451.6,679.5 451.9,702.3 452.1,677.2 452.4,706.3 452.6,678.8 452.9,700.1 453.1,678.7 453.4,701.6 453.6,679.0 453.9,700.1 454.1,677.7 454.4,699.0 454.6,677.9 454.9,700.2 455.1,679.8 455.4,699.3 455.6,678.6 455.9,702.2 456.1,678.8 456.4,701.6 456.6,678.5 456.9,701.3 457.1,677.5 457.4,699.8 457.6,679.0 457.9,702.4 458.1,678.3 458.4,701.2 458.6,678.3 458.9,702.1 459.1,678.9 459.4,698.2 459.6,677.1 459.9,699.5 460.1,678.0 460.4,701.5 460.6,676.0 460.9,708.1 461.1,678.8 461.4,698.7 461.6,677.7 461.9,704.0 462.1,678.7 462.4,716.4 462.6,676.2 462.9,708.8 463.1,676.6 463.4,700.6 463.6,678.8 463.9,703.1 464.1,675.9 464.4,701.1 464.6,678.7 464.9,699.3 465.1,676.3 465.4,702.6 465.6,678.2 465.9,699.9 466.1,675.3 466.4,703.3 466.6,674.1 466.9,699.7 467.1,677.3 467.4,699.8 467.4,689.5" fill="none" stroke="#4e79a7" stroke-width="1.40" stroke-linejoin="round"/><polyline points="471.3,685.5 471.3,676.4 471.6,694.6 471.8,675.0 472.1,698.1 472.3,676.4 472.6,694.4 472.8,673.2 473.1,696.3 473.3,677.0 473.6,695.3 473.8,675.1 474.1,696.6 474.3,675.9 474.6,696.0 474.8,677.2 475.1,693.1 475.3,676.2 475.6,692.6 475.8,676.2 476.1,693.2 476.3,675.9 476.6,693.1 476.8,675.5 477.1,696.8 477.3,675.5 477.6,694.1 477.8,677.4 478.1,696.7 478.3,675.9 478.6,695.2 478.8,676.0 479.1,695.9 479.3,676.7 479.6,694.6 479.8,677.6 480.1,695.8 480.3,677.0 480.6,695.2 480.8,674.8 481.1,695.0 481.3,674.6 481.6,694.5 481.8,676.1 482.1,705.7 482.3,676.9 482.6,693.4 482.8,677.6 483.1,694.5 483.3,676.4 483.6,692.2 483.8,673.0 484.1,692.2 484.3,677.1 484.6,695.6 484.8,676.2 485.1,696.9 485.3,676.0 485.6,694.1 485.8,676.6 486.1,697.8 486.3,676.9 486.6,696.9 486.8,677.3 487.1,694.2 487.3,676.4 487.6,694.3 487.8,676.3 488.1,693.3 488.3,676.7 488.6,695.6 488.8,676.7 489.1,695.6 489.3,675.7 489.6,693.9 489.8,677.2 490.1,695.7 490.3,677.7 490.6,698.5 490.8,674.3 491.1,696.5 491.3,676.7 491.6,695.8 491.8,671.7 492.1,695.5 492.3,676.7 492.6,699.4 492.8,677.7 493.1,693.0 493.3,674.2 493.6,694.8 493.8,676.4 494.1,695.4 494.3,675.2 494.6,697.3 494.8,676.5 495.1,697.6 495.3,676.9 495.6,694.5 495.8,677.3 496.1,696.0 496.3,676.4 496.6,701.7 496.8,677.5 497.1,697.2 497.3,676.5 497.6,695.4 497.8,676.3 498.1,698.4 498.3,676.2 498.6,699.8 498.8,676.7 499.1,699.0 499.3,676.9 499.6,700.0 499.8,677.3 500.1,694.4 500.3,675.5 500.6,696.1 500.8,674.9 501.1,694.2 501.3,676.6 501.6,699.1 501.8,674.2 502.1,695.2 502.3,676.6 502.6,694.8 502.8,675.7 503.1,695.0 503.3,676.5 503.6,697.1 503.8,677.5 504.1,694.0 504.3,674.1 504.6,695.1 504.8,677.9 505.1,697.0 505.3,677.0 505.6,694.8 505.8,675.4 506.1,694.7 506.3,675.0 506.6,695.3 506.8,677.0 507.1,695.0 507.3,677.0 507.6,696.2 507.8,673.7 508.1,697.4 508.3,677.1 508.6,703.7 508.8,677.2 509.1,701.5 509.3,676.3 509.6,698.6 509.8,677.8 510.1,700.7 510.3,674.1 510.6,693.2 510.8,677.0 511.1,694.2 511.3,675.1 511.6,697.6 511.8,677.1 512.0,697.7 512.3,678.1 512.5,690.1 512.8,677.0 513.0,690.4 513.3,674.8 513.5,691.2 513.8,676.3 514.0,692.2 514.3,675.1 514.5,688.7 514.8,676.8 515.0,685.9 515.3,677.5 515.5,689.8 515.8,676.7 516.0,692.4 516.3,676.2 516.5,691.5 516.8,676.3 517.0,687.5 517.3,676.2 517.5,687.7 517.8,676.0 518.0,687.1 518.3,675.3 518.5,687.9 518.8,676.0 519.0,690.8 519.3,676.0 519.5,687.8 519.8,676.9 520.0,687.2 520.3,676.9 520.5,694.2 520.8,676.4 521.0,687.8 521.3,677.2 521.5,687.1 521.8,677.6 522.0,686.1 522.3,677.5 522.5,690.0 522.8,677.8 523.0,688.5 523.3,676.0 523.5,687.5 523.8,677.5 524.0,689.9 524.3,678.4 524.5,689.6 524.8,677.2 525.0,693.3 525.3,677.7 525.5,691.8 525.8,677.3 526.0,689.6 526.3,677.4 526.5,688.1 526.8,677.4 527.0,690.7 527.3,677.3 527.5,687.0 527.8,676.7 528.0,688.1 528.3,675.9 528.5,688.9 528.8,676.8 529.0,685.0 529.3,676.4 529.5,689.1 529.8,678.1 530.0,697.2 530.3,677.4 530.5,687.6 530.8,677.3 531.0,688.7 531.3,678.3 531.5,688.3 531.8,677.6 532.0,687.7 532.3,675.3 532.5,688.8 532.8,678.5 533.0,688.3 533.3,678.5 533.5,690.4 533.8,677.8 534.0,688.8 534.3,678.6 534.5,692.3 534.8,678.5 535.0,691.1 535.3,677.7 535.5,688.6 535.8,678.7 536.0,690.2 536.3,678.0 536.5,689.1 536.8,677.3 537.0,692.0 537.3,678.0 537.5,689.7 537.8,678.8 538.0,688.8 538.3,676.9 538.5,689.8 538.8,677.0 539.0,692.0 539.3,677.7 539.5,691.7 539.8,678.4 540.0,693.6 540.3,677.9 540.5,693.5 540.8,679.1 541.0,693.5 541.3,678.5 541.5,704.5 541.8,676.8 542.0,693.9 542.3,678.7 542.5,695.8 542.8,677.1 543.0,695.1 543.3,677.8 543.5,695.6 543.8,678.1 544.0,697.2 544.3,674.3 544.5,695.7 544.8,677.4 545.0,696.7 545.3,678.4 545.5,695.9 545.8,677.6 546.0,698.1 546.3,678.6 546.5,704.4 546.8,677.6 547.0,694.2 547.3,677.4 547.5,697.5 547.8,678.3 548.0,691.3 548.3,678.3 548.5,692.1 548.8,677.6 549.0,691.2 549.3,675.1 549.5,691.6 549.8,674.3 550.0,690.7 550.3,678.0 550.5,689.1 550.8,678.2 551.0,689.8 551.3,679.3 551.5,688.7 551.8,678.3 552.0,685.9 552.3,679.1 552.5,690.5 552.8,678.7 553.0,688.6 553.3,678.5 553.5,688.6 553.8,678.3 554.0,692.9 554.3,679.8 554.5,691.0 554.8,676.3 555.0,687.2 555.3,678.2 555.5,689.6 555.8,679.5 556.0,687.1 556.3,679.5 556.5,689.8 556.8,678.1 557.0,691.0 557.3,677.9 557.5,689.9 557.8,677.4 558.0,688.8 558.3,678.9 558.5,696.1 558.8,678.3 559.0,691.9 559.3,679.2 559.5,688.2 559.8,678.2 560.0,690.5 560.3,678.0 560.5,688.3 560.8,677.2 561.0,689.6 561.3,676.9 561.5,690.0 561.8,677.3 562.0,694.3 562.3,676.5 562.5,689.3 562.8,677.1 563.0,688.9 563.3,678.2 563.5,686.9 563.8,677.8 564.0,688.2 564.3,676.9 564.5,695.4 564.8,675.0 565.0,690.7 565.3,678.2 565.5,694.0 565.8,676.5 566.0,690.1 566.3,677.6 566.5,687.3 566.8,675.3 567.0,688.4 567.3,675.7 567.5,689.6 567.8,675.8 568.0,688.1 568.3,676.8 568.5,687.8 568.8,675.0 569.0,689.9 569.3,671.9 569.5,688.4 569.8,674.4 570.0,688.9 570.3,675.4 570.5,692.8 570.8,675.4 571.0,696.7 571.3,675.4 571.5,694.0 571.8,672.5 572.0,698.4 572.3,676.2 572.5,698.6 572.8,675.4 573.0,698.6 573.3,676.4 573.5,699.9 573.8,675.4 574.0,698.2 574.3,674.6 574.5,709.1 574.8,676.1 575.0,702.1 575.3,675.7 575.5,703.2 575.8,676.4 576.0,703.0 576.3,674.1 576.5,703.8 576.8,676.8 577.0,703.2 577.3,676.9 577.5,701.5 577.8,677.4 578.0,703.8 578.3,675.6 578.5,703.9 578.8,676.4 579.0,703.2 579.3,674.5 579.5,702.2 579.8,675.7 580.0,702.0 580.3,675.8 580.5,701.0 580.8,676.0 581.0,700.2 581.3,676.7 581.5,700.7 581.8,676.1 582.0,701.6 582.3,676.3 582.5,696.8 582.8,676.7 583.0,701.0 583.3,676.2 583.5,698.6 583.8,675.0 584.0,693.4 584.3,676.7 584.5,690.5 584.8,678.0 585.0,691.3 585.3,676.7 585.5,689.9 585.8,676.8 586.0,689.3 586.3,677.7 586.5,691.8 586.8,676.5 587.0,684.5 587.3,676.7 587.5,688.2 587.8,677.6 588.0,687.8 588.3,678.0 588.5,687.0 588.8,677.5 589.0,685.4 589.3,676.0 589.5,690.0 589.8,676.9 590.0,688.0 590.3,676.4 590.5,684.1 590.8,677.7 591.0,694.8 591.3,676.3 591.5,684.5 591.8,676.9 592.0,686.4 592.3,676.7 592.5,688.5 592.8,677.3 593.0,686.2 593.3,677.6 593.5,685.1 593.8,677.6 594.0,685.7 594.3,677.1 594.5,686.0 594.8,677.5 595.0,685.1 595.3,677.1 595.5,683.9 595.8,675.1 596.0,688.0 596.3,678.0 596.5,689.0 596.8,677.9 597.0,693.9 597.3,677.0 597.5,687.1 597.8,677.3 598.0,685.7 598.3,677.1 598.5,690.5 598.8,677.7 599.0,688.0 599.3,677.2 599.5,685.0 599.8,676.4 600.0,686.2 600.3,676.0 600.5,687.1 600.8,677.9 601.0,690.0 601.3,676.5 601.5,684.0 601.8,676.8 602.0,685.0 602.3,676.3 602.5,685.5 602.8,677.8 603.0,686.0 603.3,676.6 603.5,684.8 603.8,676.5 604.0,688.3 604.3,676.5 604.5,688.4 604.8,676.9 605.0,688.4 605.3,677.3 605.5,687.8 605.8,675.7 606.0,686.7 606.3,675.8 606.5,685.5 606.8,677.0 607.0,689.8 607.3,676.2 607.5,686.2 607.8,678.3 608.0,683.1 608.3,677.4 608.5,684.8 608.8,676.4 609.0,685.6 609.3,677.3 609.5,685.5 609.8,674.1 610.0,685.9 610.3,677.2 610.5,685.9 610.8,676.9 611.0,685.0 611.4,682.9" fill="none" stroke="#4e79a7" stroke-width="1.40" stroke-linejoin="round"/><polyline points="615.8,678.9 615.8,673.2 616.0,691.8 616.3,666.2 616.5,686.3 616.8,672.9 617.0,685.4 617.3,672.2 617.5,685.7 617.8,672.2 618.0,686.1 618.3,673.2 618.5,686.8 618.8,673.6 619.0,695.8 619.3,670.7 619.5,691.5 619.8,673.9 620.0,686.5 620.3,673.2 620.5,686.7 620.8,673.3 621.0,689.9 621.3,671.7 621.5,686.6 621.8,673.7 622.0,694.8 622.3,673.7 622.5,688.8 622.8,673.4 623.0,686.0 623.2,677.1" fill="none" stroke="#4e79a7" stroke-width="1.40" stroke-linejoin="round"/><polyline points="628.7,683.9 628.7,674.7 629.0,689.3 629.2,673.3 629.5,687.7 629.7,675.0 630.0,689.2 630.2,675.1 630.5,690.1 630.7,674.1 631.0,687.2 631.2,674.6 631.5,690.8 631.7,674.0 632.0,687.1 632.2,675.1 632.5,693.7 632.7,673.7 633.0,686.1 633.2,673.2 633.5,689.6 633.7,674.6 634.0,686.9 634.2,675.3 634.5,688.4 634.7,675.2 635.0,689.7 635.2,672.6 635.5,689.3 635.7,674.1 636.0,686.7 636.2,672.3 636.5,687.0 636.7,675.5 637.0,688.4 637.2,672.5 637.5,690.5 637.7,675.1 638.0,688.0 638.2,673.9 638.5,686.0 638.7,673.8 639.0,689.5 639.2,675.1 639.5,685.9 639.7,674.7 640.0,686.8 640.2,674.7 640.5,685.1 640.7,673.1 641.0,687.0 641.2,673.2 641.5,692.2 641.7,673.8 642.0,684.9 642.2,674.7 642.5,686.6 642.7,674.4 643.0,687.9 643.2,673.3 643.5,688.8 643.7,673.0 644.0,686.2 644.2,674.0 644.5,687.2 644.7,674.2 645.0,689.7 645.2,673.3 645.5,688.5 645.7,674.2 646.0,687.2 646.2,675.0 646.5,687.6 646.7,673.8 647.0,689.7 647.2,674.2 647.5,687.7 647.7,675.2 648.0,686.1 648.2,673.5 648.5,690.7 648.7,673.3 649.0,687.2 649.2,674.6 649.5,688.6 649.7,673.1 650.0,687.6 650.2,674.6 650.5,685.3 650.7,674.9 651.0,687.7 651.2,672.9 651.5,687.0 651.7,672.8 652.0,689.7 652.2,673.2 652.5,687.4 652.7,675.3 653.0,687.4 653.2,674.0 653.5,687.4 653.7,675.2 654.0,687.1 654.2,674.3 654.5,686.6 654.7,674.3 655.0,688.9 655.2,673.6 655.5,693.4 655.7,673.9 656.0,686.3 656.2,674.1 656.5,688.1 656.7,672.3 657.0,684.9 657.2,674.3 657.5,690.4 657.7,673.5 658.0,689.9 658.2,672.3 658.5,686.4 658.7,674.1 659.0,689.2 659.2,674.0 659.5,690.2 659.7,673.8 660.0,687.7 660.2,674.3 660.5,695.3 660.7,674.9 661.0,690.6 661.2,675.3 661.5,687.8 661.7,674.5 662.0,690.4 662.2,673.2 662.5,685.1 662.7,672.7 663.0,686.8 663.2,672.5 663.5,689.0 663.7,674.5 664.0,689.5 664.2,673.9 664.5,688.9 664.7,673.4 665.0,687.3 665.2,673.1 665.5,685.9 665.7,675.1 666.0,687.8 666.2,671.8 666.5,689.9 666.7,673.4 667.0,688.4 667.2,674.7 667.5,686.1 667.7,673.6 668.0,691.7 668.2,673.7 668.5,687.5 668.7,672.9 669.0,688.1 669.2,674.6 669.5,687.2 669.7,674.8 670.0,689.5 670.2,675.1 670.5,686.2 670.7,673.6 671.0,690.0 671.2,673.0 671.5,689.8 671.7,671.9 672.0,692.2 672.2,673.7 672.5,691.6 672.7,671.2 673.0,689.6 673.2,673.3 673.5,690.0 673.7,674.5 674.0,689.9 674.2,675.6 674.5,690.8 674.7,674.3 675.0,686.5 675.2,675.1 675.5,688.1 675.7,673.4 676.0,691.2 676.2,675.2 676.5,689.5 676.7,675.1 677.0,685.8 677.2,674.7 677.5,686.8 677.7,672.0 678.0,687.0 678.2,675.1 678.5,687.3 678.7,674.6 679.0,688.1 679.2,674.1 679.5,687.1 679.7,675.2 680.0,686.9 680.2,673.4 680.5,692.0 680.7,675.7 681.0,686.5 681.2,674.7 681.5,689.7 681.7,671.9 682.0,692.5 682.2,674.8 682.5,687.3 682.7,674.3 683.0,686.9 683.2,673.4 683.5,696.1 683.7,674.7 684.0,687.4 684.2,672.0 684.5,687.8 684.7,674.7 685.0,688.9 685.2,673.9 685.5,687.0 685.7,673.7 686.0,688.8 686.2,675.1 686.5,686.9 686.7,674.8 687.0,686.1 687.2,673.6 687.5,687.6 687.7,675.6 688.0,687.5 688.2,674.0 688.5,691.5 688.7,674.8 689.0,686.9 689.2,674.3 689.5,687.5 689.7,675.6 690.0,688.1 690.2,671.8 690.5,685.8 690.7,674.1 691.0,692.7 691.2,672.9 691.5,687.9 691.7,673.7 692.0,688.3 692.2,673.8 692.5,686.5 692.7,673.7 693.0,690.5 693.2,675.3 693.5,686.6 693.7,673.7 694.0,686.7 694.2,675.0 694.5,689.9 694.7,674.9 695.0,694.5 695.2,675.4 695.5,692.0 695.7,674.6 696.0,691.8 696.2,672.9 696.5,701.0 696.7,672.2 697.0,688.3 697.2,675.0 697.5,688.1 697.7,674.8 698.0,690.5 698.2,672.5 698.5,689.0 698.7,674.5 699.0,687.0 699.2,674.0 699.5,685.9 699.7,673.4 700.0,692.8 700.2,674.3 700.5,687.0 700.7,675.3 701.0,689.5 701.2,673.6 701.5,688.9 701.7,675.0 702.0,692.6 702.2,673.9 702.5,687.5" fill="none" stroke="#4e79a7" stroke-width="1.40" stroke-linejoin="round"/><path d="M467.4 689.5L471.3 685.5M611.4 682.9L615.8 678.9M623.2 677.1L628.7 683.9" stroke="#4e79a7" stroke-width="0.7" fill="none"/><path d="M401.35 698.5V703.9M402.85 695.6V698.9M403.85 696.2V715.9M404.35 713.9V721.9M405.35 705.5V714.8M408.85 695.2V697.6M409.85 696.6V698.5M413.85 699.3V701.5M415.85 708.0V715.6M416.35 701.6V704.8M417.85 697.7V706.8M421.85 696.8V701.8M423.35 697.8V702.5M424.35 695.9V701.2M424.85 698.2V701.3M427.85 699.6V700.0M428.35 699.9V700.5M431.35 700.6V701.9M438.35 698.8V698.9M442.35 700.2V704.2M449.85 702.2V710.3M452.35 706.3V708.4M455.85 702.2V705.9M462.35 716.4V719.3M462.85 708.8V709.0M464.35 701.1V714.4M464.85 699.3V707.5M466.35 703.3V714.0M477.05 696.8V702.6M478.55 695.2V705.3M480.05 695.8V696.8M484.55 695.6V699.6M486.05 697.8V699.1M493.55 694.8V696.2M496.05 696.0V718.5M497.55 695.4V702.1M498.05 698.4V709.7M499.05 699.0V703.6M501.55 699.1V706.9M503.05 695.0V695.7M505.05 697.0V699.6M506.55 695.3V702.3M507.05 695.0V704.9M511.05 694.2V700.6M512.05 697.7V707.8M513.55 691.2V693.4M515.05 685.9V697.5M515.55 689.8V707.8M516.05 692.4V709.0M517.55 687.7V689.2M523.05 688.5V688.7M523.55 687.5V693.8M525.05 693.3V707.6M526.05 689.6V689.8M526.55 688.1V695.5M527.55 687.0V690.3M528.55 688.9V698.1M529.55 689.1V691.9M538.55 689.8V700.1M539.05 692.0V692.4M544.05 697.2V698.4M546.05 698.1V701.0M546.55 704.4V707.1M547.05 694.2V718.2M550.05 690.7V696.5M560.05 690.5V698.5M563.05 688.9V692.2M563.55 686.9V698.8M564.05 688.2V691.6M564.55 695.4V706.0M568.55 687.8V691.5M569.05 689.9V694.8M571.05 696.7V707.0M572.55 698.6V701.8M573.55 699.9V706.0M578.55 703.9V705.2M582.55 696.8V712.9M586.55 691.8V698.6M588.55 687.0V690.2M590.55 684.1V695.0M592.05 686.4V688.5M593.55 685.1V705.3M595.55 683.9V692.4M603.05 686.0V687.8M605.05 688.4V696.6M607.55 686.2V691.0M609.55 685.5V687.0M610.55 685.9V688.6M617.05 685.4V695.6M621.05 689.9V690.5M632.45 693.7V703.2M633.95 686.9V689.9M634.45 688.4V692.4M635.95 686.7V687.3M636.45 687.0V701.4M639.45 685.9V686.6M639.95 686.8V689.1M644.45 687.2V687.3M652.45 687.4V693.8M652.95 687.4V689.6M653.95 687.1V687.9M655.95 686.3V706.9M656.45 688.1V693.2M657.45 690.4V697.3M660.45 695.3V703.1M660.95 690.6V708.3M665.95 687.8V692.0M666.45 689.9V694.7M668.95 688.1V691.9M670.95 690.0V700.0M671.95 692.2V699.0M673.45 690.0V695.0M674.45 690.8V697.2M675.95 691.2V699.0M681.95 692.5V693.9M682.45 687.3V689.5M683.95 687.4V688.0M685.45 687.0V687.0M690.45 685.8V691.2M690.95 692.7V692.7M691.95 688.3V688.7M694.45 689.9V701.3M696.45 701.0V710.3M699.95 692.8V712.8M701.45 688.9V695.0" stroke="#4e79a7" stroke-width="0.8" fill="none"/><path d="M421.0 680.0V659.1M459.0 680.0V659.1M460.0 680.0V659.1M482.0 680.0V659.1M489.0 680.0V659.1M492.0 680.0V659.1M507.0 680.0V659.1M553.0 680.0V659.1M562.0 680.0V659.1M631.0 680.0V659.1M665.0 680.0V659.1M683.0 680.0V659.1M689.0 680.0V659.1M699.0 680.0V659.1M546.0 690.0V741.7M634.0 690.0V724.5M401.0 700.0V726.0M420.0 700.0V727.0M431.0 700.0V716.0M486.0 700.0V718.0M500.0 695.0V714.0" stroke="#4e79a7" stroke-width="2.00" fill="none"/><rect x="571.8" y="659.1" width="11.5" height="30.9" fill="#4e79a7"/></g>
<g clip-path="url(#c5)"><polyline points="139.8,801.2 140.1,841.0 140.3,799.5 140.6,844.1 140.8,801.0 141.1,837.4 141.3,800.3 141.6,837.7 141.8,801.6 142.1,838.1 142.3,792.4 142.6,846.6 142.8,797.6 143.1,836.8 143.3,794.2 143.6,846.9 143.8,797.2 144.1,839.4 144.3,795.4 144.6,833.3 144.8,803.0 145.1,839.9 145.3,800.4 145.6,845.3 145.8,798.0 146.1,835.7 146.3,797.9 146.6,841.1 146.8,798.1 147.1,839.4 147.3,792.2 147.6,843.0 147.8,793.7 148.1,837.5 148.3,801.5 148.6,838.9 148.8,800.3 149.1,834.4 149.3,803.1 149.6,839.3 149.8,803.3 150.1,838.5 150.3,791.5 150.6,842.4 150.8,791.0 151.1,834.8 151.3,801.0 151.6,843.0 151.8,798.9 152.1,838.0 152.3,799.6 152.6,843.5 152.8,801.4 153.1,845.5 153.3,796.5 153.6,837.3 153.8,798.0 154.1,840.1 154.3,803.0 154.6,839.0 154.8,803.1 155.1,838.6 155.3,804.8 155.6,842.8 155.8,794.7 156.1,836.6 156.3,800.8 156.6,845.2 156.8,800.6 157.1,846.9 157.3,798.3 157.6,839.3 157.8,803.3 158.1,847.5 158.3,800.8 158.6,837.5 158.8,797.7 159.1,836.5 159.3,797.7 159.6,847.7 159.8,799.3 160.1,838.1 160.3,798.4 160.6,834.4 160.8,800.6 161.1,840.0 161.3,798.4 161.6,840.1 161.8,786.9 162.1,835.8 162.3,795.8 162.6,833.1 162.8,790.5 163.1,845.4 163.3,798.9 163.6,836.9 163.8,794.0 164.1,835.5 164.3,801.5 164.6,834.3 164.8,801.6 165.1,837.1 165.3,794.3 165.6,835.8 165.8,801.2 166.1,837.0 166.3,795.8 166.6,843.1 166.8,797.3 167.1,835.4 167.3,796.3 167.6,841.5 167.8,797.3 168.1,836.3 168.3,802.2 168.6,844.3 168.8,801.1 169.1,837.5 169.3,799.4 169.6,851.1 169.8,797.0 170.1,838.6 170.3,795.2 170.6,846.4 170.8,799.1 171.1,837.9 171.3,799.6 171.6,837.8 171.8,802.0 172.1,837.9 172.3,796.5 172.6,839.6 172.8,799.3 173.1,837.2 173.3,800.6 173.6,848.7 173.8,800.7 174.1,848.7 174.3,799.7 174.6,836.1 174.8,798.0 175.1,837.7 175.3,791.6 175.6,836.0 175.8,802.8 176.1,841.2 176.3,799.1 176.6,840.0 176.8,796.4 177.1,836.1 177.3,794.8 177.6,834.2 177.8,794.9 178.1,838.3 178.3,800.0 178.6,846.4 178.8,800.3 179.1,840.3 179.3,802.0 179.6,836.9 179.8,801.3 180.1,846.4 180.3,797.3 180.6,845.2 180.8,791.7 181.1,843.2 181.3,801.0 181.6,838.6 181.8,799.5 182.1,837.9 182.3,802.9 182.6,839.9 182.8,799.1 183.1,835.5 183.3,801.3 183.6,834.4 183.8,798.8 184.1,844.6 184.3,801.7 184.6,838.2 184.8,801.6 185.1,840.3 185.3,801.8 185.6,840.0 185.8,796.1 186.1,839.1 186.3,801.1 186.6,840.3 186.8,800.6 187.1,836.7 187.3,798.7 187.6,838.6 187.8,798.4 188.1,840.2 188.3,799.1 188.6,837.9 188.8,789.1 189.1,837.0 189.3,801.4 189.6,839.8 189.8,799.0 190.1,841.1 190.3,799.3 190.6,836.0 190.8,797.0 191.1,833.7 191.3,800.4 191.6,837.4 191.8,802.0 192.1,839.1 192.3,791.0 192.6,840.6 192.8,794.4 193.1,849.9 193.3,802.4 193.6,837.6 193.8,801.1 194.1,855.8 194.3,799.8 194.6,838.1 194.8,799.0 195.1,836.6 195.3,794.2 195.6,838.4 195.8,802.6 196.1,836.1 196.3,801.1 196.6,838.1 196.8,793.7 197.1,833.3 197.3,799.6 197.6,839.9 197.8,793.0 198.1,839.7 198.3,796.6 198.6,845.7 198.8,804.9 199.1,836.6 199.3,797.5 199.6,840.0 199.8,800.5 200.1,841.2 200.3,798.2 200.6,838.4 200.8,801.7 201.1,840.1 201.3,794.2 201.6,839.4 201.8,798.7 202.1,834.8 202.3,799.3 202.6,846.5 202.8,794.9 203.1,834.9 203.3,794.8 203.6,839.1 203.8,797.4 204.1,837.9 204.3,802.0 204.6,838.0 204.8,798.8 205.1,836.6 205.3,797.7 205.6,842.1 205.8,797.2 206.1,841.1 206.3,803.1 206.6,837.7 206.8,797.4 207.1,833.0 207.3,797.9 207.6,837.5 207.8,793.5 208.1,837.7 208.3,800.6 208.6,842.0 208.8,799.2 209.1,839.5 209.3,804.3 209.6,851.1 209.8,802.2 210.1,836.7 210.3,797.3 210.6,841.1 210.8,799.5 211.1,843.7 211.3,801.5 211.6,837.6 211.8,795.9 212.1,837.6 212.3,795.3 212.6,842.2 212.8,802.8 213.1,837.6 213.3,801.5 213.6,839.2 213.8,792.9 214.1,836.1 214.3,797.0 214.6,836.9 214.8,800.7 215.1,837.7 215.3,797.2 215.6,841.6 215.8,799.1 216.1,838.4 216.3,798.2 216.6,840.7 216.8,800.8 217.1,841.3 217.3,798.7 217.6,836.0 217.8,800.3 218.1,841.7 218.3,793.5 218.6,839.1 218.8,803.2 219.1,838.4 219.3,792.7 219.6,836.6 219.8,801.4 220.1,840.1 220.3,798.2 220.6,850.5 220.8,791.5 221.1,840.1 221.3,799.9 221.6,838.4 221.8,800.7 222.1,835.9 222.3,789.1 222.6,836.6 222.8,795.6 223.1,838.6 223.3,794.5 223.6,839.5 223.8,799.6 224.1,839.4 224.3,800.9 224.6,840.2 224.8,797.3 225.1,834.0 225.3,802.1 225.6,847.7 225.8,800.2 226.1,841.0 226.3,803.5 226.6,844.7 226.8,801.3 227.1,844.5 227.3,796.6 227.6,839.5 227.8,800.8 228.1,842.7 228.3,802.3 228.6,841.2 228.8,798.0 229.1,836.0 229.3,802.2 229.6,840.2 229.8,801.2 230.1,835.8 230.3,800.8 230.6,840.7 230.8,796.7 231.1,838.4 231.3,796.0 231.6,852.8 231.8,799.7 232.1,841.0 232.3,802.7 232.6,851.4 232.8,801.2 233.1,840.1 233.3,802.7 233.6,838.0 233.8,798.6 234.1,836.5 234.3,793.2 234.6,839.0 234.8,796.3 235.1,839.0 235.3,799.4 235.6,838.1 235.8,801.2 236.1,846.4 236.3,800.7 236.6,837.7 236.8,803.8 237.1,836.8 237.3,801.8 237.6,835.3 237.8,784.2 238.1,837.6 238.3,798.2 238.6,839.8 238.8,801.0 239.1,836.5 239.3,800.2 239.6,842.2 239.8,802.5 240.1,841.9 240.3,799.4 240.6,842.3 240.8,796.2 241.1,836.6 241.3,798.8 241.6,842.7 241.8,793.1 242.1,832.8 242.3,802.4 242.6,839.3 242.8,792.0 243.1,837.7 243.3,802.2 243.6,845.4 243.8,795.9 244.1,835.7 244.3,797.8 244.6,838.8 244.8,795.3 245.1,838.1 245.3,801.9 245.6,847.0 245.8,796.2 246.1,838.3 246.3,801.9 246.6,838.2 246.8,800.6 247.1,841.8 247.3,802.3 247.6,836.9 247.8,794.6 248.1,841.8 248.3,798.9 248.6,836.0 248.8,795.9 249.1,837.7 249.3,801.5 249.6,836.5 249.8,799.6 250.1,835.4 250.3,799.3 250.6,835.8 250.8,796.7 251.1,834.4 251.3,791.9 251.6,836.7 251.8,798.4 252.1,839.5 252.3,804.9 252.6,845.1 252.8,801.9 253.1,840.9 253.3,795.5 253.6,838.1 253.8,802.0 254.1,838.5 254.3,790.2 254.6,837.6 254.8,801.3 255.1,836.6 255.3,789.7 255.6,838.7 255.8,800.2 256.1,845.0 256.3,794.4 256.6,836.8 256.8,798.2 257.1,838.4 257.3,800.5 257.6,837.5 257.8,802.7 258.1,839.1 258.3,791.4 258.6,838.0 258.8,796.2 259.1,835.9 259.3,802.2 259.6,839.3 259.8,802.2 260.1,843.2 260.3,799.2 260.6,839.0 260.8,802.7 261.1,853.9 261.3,799.1 261.6,836.1 261.8,799.3 262.1,840.4 262.3,801.0 262.6,838.8 262.8,795.6 263.1,839.5 263.3,795.8 263.6,846.1 263.8,800.7 264.1,838.6 264.3,797.0 264.6,840.7 264.8,794.4 265.1,846.8 265.3,796.8 265.6,840.0 265.8,798.7 266.1,836.1 266.3,799.9 266.6,839.3 266.8,792.7 267.1,836.8 267.3,802.0 267.6,849.6 267.8,787.6 268.1,843.1 268.3,796.1 268.6,836.9 268.8,801.9 269.1,838.3 269.3,793.2 269.6,837.6 269.8,793.1 270.1,838.1 270.3,795.9 270.6,838.2 270.8,797.0 271.1,836.3 271.3,799.2 271.6,840.3 271.8,799.4 272.1,838.8 272.3,801.2 272.6,836.3 272.8,800.2 273.1,833.2 273.3,791.5 273.6,837.8 273.8,800.2 274.1,842.9 274.3,801.7 274.6,839.9 274.8,801.4 275.1,835.9 275.3,797.7 275.6,838.7 275.8,799.4 276.1,843.7 276.3,795.0 276.6,845.3 276.8,799.3 277.1,836.8 277.3,796.1 277.6,838.5 277.8,789.3 278.1,839.6 278.3,802.5 278.6,839.2 278.8,798.5 279.1,836.8 279.3,797.4 279.6,837.1 279.8,795.7 280.1,853.8 280.3,799.0 280.6,836.8 280.8,793.4 281.1,840.6 281.3,793.7 281.6,837.2 281.8,801.4 282.1,837.8 282.3,801.3 282.6,842.7 282.8,800.1 283.1,841.0 283.3,799.8 283.6,838.0 283.8,785.8 284.1,833.0 284.3,798.9 284.6,836.9 284.8,800.7 285.1,835.8 285.3,801.8 285.6,835.7 285.8,794.3 286.1,834.9 286.3,798.6 286.6,833.4 286.8,789.8 287.1,842.4 287.3,802.1 287.6,836.9 287.8,799.1 288.1,838.8 288.3,796.4 288.6,838.1 288.8,785.8 289.1,837.2 289.3,795.6 289.6,837.8 289.8,802.7 290.1,835.3 290.3,797.0 290.6,835.2 290.8,798.6 291.1,838.1 291.3,800.6 291.6,836.7 291.8,798.7 292.1,838.8 292.3,797.3 292.6,840.0 292.8,798.3 293.1,838.7 293.3,798.2 293.6,840.7 293.8,792.0 294.1,839.1 294.3,800.3 294.6,839.6 294.8,795.7 295.1,836.2 295.3,797.9 295.6,836.5 295.8,796.1 296.1,840.2 296.3,794.3 296.6,842.8 296.8,801.0 297.1,836.6 297.3,799.2 297.6,835.0 297.8,802.2 298.1,839.0 298.3,791.4 298.6,841.7 298.8,784.2 299.1,855.3 299.3,799.4 299.6,837.2 299.8,801.1 300.1,834.3 300.3,801.0 300.6,839.5 300.8,802.2 301.1,840.5 301.3,803.6 301.6,837.2 301.8,797.8 302.1,836.4 302.3,793.5 302.6,842.8 302.8,798.4 303.1,841.1 303.3,799.3 303.6,842.9 303.8,800.5 304.1,838.9 304.3,797.9 304.6,843.5 304.8,799.0 305.1,839.4 305.3,798.6 305.6,842.0 305.8,797.7 306.1,838.0 306.3,796.9 306.6,843.2 306.8,800.2 307.1,838.9 307.3,800.7 307.6,838.7 307.8,801.5 308.1,837.5 308.3,795.5 308.6,841.3 308.8,786.7 309.1,836.8 309.3,792.0 309.6,837.3 309.8,795.6 310.1,838.5 310.3,797.5 310.6,834.9 310.8,798.0 311.1,838.6 311.3,802.5 311.6,837.5 311.8,798.8 312.1,838.2 312.3,797.4 312.6,835.0 312.8,796.2 313.1,839.5 313.3,798.4 313.6,840.5 313.8,799.4 314.1,838.3 314.3,801.1 314.6,838.1 314.8,799.3 315.1,841.3 315.3,795.7 315.6,839.1 315.8,802.1 316.1,841.3 316.3,786.4 316.6,841.7 316.8,802.8 317.1,845.5 317.3,802.5 317.6,838.0 317.8,799.9 318.1,841.4 318.3,798.2 318.6,842.9 318.8,798.2 319.1,839.3 319.3,803.3 319.6,839.7 319.8,791.3 320.1,850.4 320.3,798.5 320.6,835.8 320.8,798.9 321.1,837.5 321.3,800.8 321.6,838.1 321.8,795.9 322.1,843.5 322.3,799.9 322.6,837.8 322.8,797.8 323.1,834.6 323.3,794.8 323.6,838.5 323.8,794.4 324.1,846.0 324.3,803.1 324.6,835.1 324.8,797.0 325.1,836.1 325.3,803.1 325.6,838.4 325.8,796.0 326.1,836.5 326.3,799.9 326.6,840.3 326.8,802.5 327.1,836.6 327.3,783.7 327.6,835.6 327.8,797.6 328.1,838.4 328.3,801.2 328.6,839.2 328.8,797.9 329.1,834.5 329.3,796.3 329.6,847.4 329.8,800.1 330.1,841.8 330.3,799.9 330.6,840.2 330.8,801.2 331.1,832.7 331.3,794.5 331.6,836.9 331.8,799.8 332.1,843.5 332.3,801.9 332.6,838.6 332.8,801.9 333.1,850.8 333.3,797.2 333.6,840.3 333.8,796.7 334.1,840.2 334.3,793.3 334.6,840.8 334.8,801.4 335.1,842.3 335.3,796.5 335.6,836.6 335.8,802.0 336.1,835.9 336.3,802.7 336.6,835.7 336.8,778.7 337.1,838.0 337.3,799.1 337.6,833.6 337.8,799.6 338.1,842.5 338.3,803.5 338.6,847.0 338.8,795.3 339.1,834.7 339.3,801.7 339.6,844.2 339.8,794.2 340.1,834.6 340.3,800.0 340.6,841.2 340.8,797.8 341.1,836.1 341.3,794.5 341.6,841.1 341.8,797.3 342.1,838.5 342.3,798.6 342.6,836.2 342.8,794.5 343.1,839.0 343.3,802.1 343.6,836.4 343.8,798.4 344.1,836.3 344.3,799.1 344.6,837.3 344.8,797.7 345.1,836.1 345.3,797.6 345.6,837.2 345.8,799.1 346.1,836.5 346.3,794.9 346.6,842.7 346.8,795.6 347.1,836.2 347.3,798.9 347.6,836.0 347.8,796.3 348.1,841.9 348.3,799.9 348.6,837.6 348.8,799.7 349.1,842.7 349.3,800.7 349.6,840.9 349.8,791.3 350.1,838.1 350.3,799.1 350.6,836.2 350.8,803.6 351.1,840.0 351.3,785.8 351.6,840.6 351.8,797.0 352.1,837.5 352.3,795.4 352.6,840.3 352.8,801.1 353.1,835.7 353.3,798.3 353.6,837.3 353.8,800.2 354.1,844.2 354.3,800.2 354.6,839.7 354.8,800.5 355.1,841.8 355.3,797.7 355.6,847.1 355.8,796.6 356.1,837.0 356.3,800.7 356.6,840.4 356.8,797.4 357.1,839.6 357.3,800.5 357.6,835.8 357.8,799.4 358.1,838.8 358.3,801.2 358.6,843.4 358.8,796.1 359.1,839.5 359.3,800.1 359.6,836.4 359.8,799.9 360.1,842.7 360.3,801.3 360.6,839.7 360.8,798.0 361.1,838.3 361.3,786.9 361.6,839.7 361.8,799.6 362.1,843.5 362.3,798.0 362.6,835.7 362.8,799.5 363.1,836.6 363.3,796.6 363.6,838.4 363.8,804.7 364.1,843.1 364.3,802.5 364.6,839.1 364.8,789.0 365.1,836.1 365.3,799.3 365.6,837.5 365.8,791.9 366.1,842.0 366.3,798.1 366.6,837.2 366.8,791.5 367.1,835.8 367.3,799.2 367.6,837.7 367.8,796.1 368.1,841.1 368.3,795.9 368.6,838.4 368.8,799.8 369.1,838.1 369.3,800.9 369.6,836.7 369.8,795.0 370.1,836.6 370.3,800.1 370.6,837.1 370.8,784.2 371.1,840.4 371.3,792.1 371.6,840.8 371.8,804.1 372.1,839.4 372.3,789.3 372.6,835.4 372.8,799.5 373.1,837.8 373.3,794.4 373.6,837.0 373.8,798.9 374.1,842.6 374.3,799.7 374.6,836.1 374.8,792.7 375.1,838.0 375.3,799.8 375.6,836.2 375.8,793.1 376.1,844.9 376.3,801.4 376.6,834.4 376.8,798.2 377.1,841.4 377.3,802.0 377.6,839.8 377.8,797.6 378.1,844.0 378.3,796.8 378.6,838.5 378.8,798.9 379.1,836.8 379.3,795.0 379.6,838.4 379.8,802.0 380.1,835.7 380.3,801.4 380.6,840.2 380.8,789.5 381.1,841.8 381.3,800.9 381.6,840.1 381.8,804.8 382.1,842.6 382.3,790.5 382.6,841.0 382.8,797.4 383.1,836.4 383.3,798.1 383.6,844.5 383.8,799.4 384.1,835.9 384.3,797.9 384.6,834.8 384.8,795.8 385.1,834.0 385.3,801.6 385.6,836.9 385.8,801.7 386.1,838.7 386.3,794.3 386.6,837.8 386.8,798.5 387.1,841.9 387.3,782.8 387.6,843.9 387.8,802.0 388.1,837.8 388.3,803.0 388.6,836.0 388.8,788.7 389.1,844.9 389.3,798.1 389.6,835.1 389.8,781.1 390.1,839.8 390.3,801.4 390.6,841.0 390.8,796.8 391.1,838.3 391.3,800.7 391.6,835.4 391.8,795.3 392.1,844.2 392.3,793.1 392.6,846.3 392.8,797.0 393.1,844.2 393.3,795.8 393.6,839.2 393.8,796.8 394.1,834.4 394.3,799.0 394.6,835.5 394.8,803.9 395.1,840.2 395.3,801.6 395.6,839.4 395.8,802.0 396.1,837.1 396.3,797.2 396.6,836.7 396.8,791.6 397.1,837.1 397.3,791.4 397.6,848.2 397.8,798.0 398.1,840.2 398.3,791.0 398.6,839.3 398.6,805.9 398.9,858.6 399.1,801.9 399.4,859.9 399.6,810.5 399.9,855.5 400.1,808.9 400.4,865.3 400.6,808.3 400.9,854.7 401.1,808.0 401.4,859.6 401.6,797.9 401.9,854.2 402.1,804.5 402.4,858.9 402.6,803.3 402.9,854.9 403.1,806.6 403.4,854.8 403.6,809.0 403.9,853.7 404.1,808.0 404.4,856.8 404.6,806.6 404.9,855.7 405.1,803.6 405.4,868.1 405.6,803.6 405.9,859.7 406.1,798.8 406.4,856.1 406.6,805.0 406.9,853.3 407.1,804.8 407.4,857.0 407.6,798.5 407.9,857.9 408.1,804.3 408.4,856.8 408.6,806.3 408.9,858.0 409.1,806.0 409.4,854.2 409.6,811.8 409.9,857.5 410.1,807.2 410.4,860.8 410.6,809.0 410.9,858.1 411.1,796.5 411.4,856.4 411.6,801.1 411.9,855.7 412.1,803.7 412.4,865.2 412.6,805.7 412.9,856.6 413.1,805.2 413.4,855.9 413.6,808.4 413.9,854.3 414.1,808.0 414.4,859.0 414.6,804.9 414.9,855.0 415.1,797.3 415.4,857.6 415.6,802.7 415.9,854.2 416.1,805.1 416.4,859.3 416.6,808.7 416.9,856.6 417.1,806.0 417.4,856.4 417.6,809.4 417.9,857.6 418.1,808.3 418.4,861.1 418.6,801.0 418.9,855.5 419.1,799.9 419.4,858.2 419.6,797.7 419.9,854.0 420.1,806.0 420.4,858.0 420.6,810.0 420.9,857.4 421.1,801.8 421.4,859.1 421.6,808.0 421.9,851.9 422.1,810.7 422.4,857.3 422.6,805.6 422.9,853.3 423.1,806.1 423.4,858.1 423.6,811.6 423.9,852.6 424.1,807.1 424.4,856.0 424.6,789.5 424.9,852.6 425.1,803.9 425.4,851.8 425.6,808.9 425.9,855.2 426.1,798.6 426.4,852.4 426.6,808.9 426.9,855.0 427.1,805.4 427.4,851.8 427.6,807.9 427.9,858.4 428.1,807.2 428.4,854.2 428.6,806.8 428.9,853.4 429.1,804.9 429.4,860.5 429.6,811.5 429.9,857.4 430.1,806.6 430.4,858.1 430.6,808.4 430.9,855.9 431.1,808.1 431.4,853.8 431.6,806.4 431.9,878.1 432.1,799.7 432.4,860.4 432.6,809.9 432.9,856.1 433.1,803.2 433.4,861.3 433.6,806.2 433.9,854.8 434.1,808.3 434.4,854.4 434.6,806.7 434.9,852.8 435.1,811.1 435.4,854.9 435.6,808.9 435.9,860.5 436.1,803.3 436.4,853.5 436.6,803.7 436.9,852.5 437.1,805.8 437.4,855.6 437.6,807.6 437.9,852.5 438.1,806.2 438.4,851.4 438.6,810.3 438.9,857.1 439.1,808.8 439.4,855.8 439.6,801.6 439.9,856.9 440.1,798.2 440.4,855.1 440.6,804.8 440.9,855.6 441.1,809.5 441.4,855.0 441.6,803.6 441.9,852.0 442.1,811.4 442.4,857.1 442.6,810.7 442.9,859.8 443.1,807.1 443.4,861.6 443.6,807.4 443.9,864.6 444.1,805.1 444.4,852.5 444.6,808.6 444.9,853.0 445.1,807.7 445.4,852.8 445.6,808.7 445.9,858.4 446.1,799.8 446.4,853.7 446.6,811.5 446.9,856.0 447.1,809.1 447.4,851.7 447.6,803.0 447.9,863.1 448.1,810.1 448.4,853.0 448.6,801.3 448.9,857.4 449.1,809.6 449.4,860.3 449.6,806.2 449.9,856.4 450.1,808.9 450.4,857.7 450.6,804.9 450.9,856.2 451.1,802.5 451.4,857.6 451.6,804.0 451.9,856.2 452.1,808.4 452.4,855.3 452.6,809.6 452.9,861.3 453.1,798.9 453.4,855.4 453.6,801.3 453.9,855.8 454.1,799.1 454.4,864.1 454.6,806.2 454.9,860.7 455.1,807.5 455.4,856.3 455.6,808.5 455.9,864.9 456.1,798.9 456.4,856.4 456.6,806.1 456.9,856.5 457.1,803.1 457.4,862.1 457.6,809.7 457.9,861.0 458.1,804.6 458.4,852.7 458.6,809.3 458.9,854.6 459.1,804.0 459.4,853.0 459.6,805.7 459.9,860.2 460.1,810.2 460.4,859.3 460.6,808.1 460.9,865.5 461.1,804.1 461.4,859.6 461.6,801.9 461.9,853.6 462.1,810.3 462.4,858.1 462.6,809.2 462.9,858.0 463.1,809.9 463.4,856.3 463.6,807.5 463.9,855.9 464.1,808.2 464.4,855.4 464.6,807.4 464.9,852.5 465.1,808.2 465.4,854.2 465.6,808.7 465.9,858.3 466.1,804.5 466.4,862.9 466.6,809.0 466.9,855.7 467.1,808.7 467.4,854.3 467.4,834.1" fill="none" stroke="#4e79a7" stroke-width="1.40" stroke-linejoin="round"/><polyline points="471.3,830.1 471.3,808.0 471.6,851.1 471.8,802.5 472.1,856.4 472.3,813.5 472.6,860.8 472.8,811.7 473.1,856.3 473.3,799.8 473.6,853.2 473.8,787.4 474.1,859.3 474.3,808.0 474.6,852.0 474.8,811.9 475.1,860.6 475.3,812.6 475.6,851.9 475.8,808.8 476.1,852.7 476.3,810.0 476.6,856.1 476.8,806.8 477.1,851.3 477.3,805.4 477.6,854.3 477.8,811.3 478.1,857.8 478.3,808.9 478.6,860.0 478.8,805.4 479.1,851.7 479.3,805.3 479.6,851.7 479.8,802.2 480.1,852.1 480.3,801.2 480.6,853.8 480.8,808.9 481.1,852.0 481.3,811.8 481.6,859.0 481.8,806.0 482.1,856.4 482.3,809.0 482.6,855.8 482.8,806.2 483.1,862.9 483.3,802.0 483.6,858.4 483.8,801.5 484.1,853.2 484.3,809.2 484.6,854.1 484.8,807.9 485.1,863.4 485.3,805.1 485.6,857.1 485.8,780.5 486.1,861.9 486.3,807.3 486.6,854.5 486.8,810.6 487.1,858.2 487.3,807.3 487.6,855.6 487.8,802.9 488.1,857.8 488.3,811.4 488.6,878.6 488.8,809.1 489.1,864.3 489.3,811.6 489.6,860.0 489.8,805.3 490.1,855.6 490.3,802.5 490.6,861.8 490.8,802.6 491.1,853.4 491.3,809.8 491.6,857.2 491.8,810.3 492.1,858.9 492.3,806.6 492.6,858.6 492.8,786.6 493.1,856.3 493.3,812.9 493.6,863.2 493.8,806.4 494.1,857.0 494.3,810.9 494.6,858.8 494.8,807.8 495.1,861.3 495.3,810.1 495.6,865.4 495.8,801.0 496.1,870.3 496.3,809.7 496.6,855.7 496.8,812.9 497.1,855.6 497.3,815.9 497.6,855.1 497.8,811.4 498.1,855.1 498.3,809.3 498.6,857.5 498.8,804.2 499.1,859.7 499.3,810.8 499.6,853.3 499.8,809.0 500.1,853.6 500.3,806.6 500.6,857.7 500.8,813.2 501.1,861.0 501.3,811.5 501.6,848.6 501.8,806.8 502.1,857.5 502.3,816.7 502.6,854.4 502.8,806.9 503.1,855.4 503.3,813.7 503.6,863.2 503.8,808.4 504.1,846.8 504.3,811.6 504.6,854.1 504.8,813.0 505.1,862.8 505.3,816.9 505.6,854.2 505.8,816.8 506.1,852.0 506.3,815.3 506.6,852.9 506.8,816.4 507.1,851.3 507.3,812.5 507.6,857.8 507.8,813.7 508.1,859.8 508.3,817.7 508.6,856.2 508.8,811.8 509.1,852.0 509.3,806.9 509.6,857.0 509.8,811.2 510.1,854.6 510.3,812.7 510.6,858.0 510.8,810.4 511.1,862.0 511.3,799.9 511.6,854.0 511.8,812.6 512.0,855.8 512.3,810.4 512.5,851.3 512.8,812.1 513.0,857.7 513.3,808.1 513.5,856.9 513.8,809.9 514.0,855.7 514.3,812.2 514.5,856.6 514.8,807.7 515.0,866.6 515.3,811.3 515.5,854.1 515.8,807.1 516.0,852.9 516.3,805.0 516.5,859.6 516.8,810.4 517.0,856.2 517.3,798.9 517.5,858.0 517.8,814.0 518.0,853.4 518.3,808.6 518.5,856.6 518.8,815.9 519.0,856.6 519.3,813.9 519.5,855.4 519.8,810.8 520.0,860.5 520.3,810.3 520.5,857.0 520.8,817.2 521.0,854.8 521.3,817.0 521.5,866.1 521.8,815.7 522.0,853.1 522.3,809.9 522.5,858.1 522.8,811.4 523.0,852.8 523.3,812.3 523.5,854.2 523.8,813.2 524.0,856.5 524.3,818.2 524.5,860.6 524.8,814.5 525.0,867.6 525.3,819.0 525.5,854.9 525.8,809.2 526.0,855.5 526.3,813.3 526.5,857.5 526.8,814.8 527.0,853.1 527.3,814.1 527.5,855.2 527.8,812.9 528.0,852.8 528.3,801.7 528.5,856.7 528.8,813.3 529.0,856.9 529.3,810.5 529.5,859.2 529.8,815.0 530.0,857.6 530.3,804.4 530.5,853.9 530.8,815.4 531.0,849.8 531.3,816.4 531.5,855.3 531.8,807.2 532.0,856.3 532.3,803.4 532.5,855.1 532.8,815.0 533.0,855.0 533.3,808.4 533.5,861.4 533.8,808.9 534.0,855.6 534.3,811.7 534.5,851.2 534.8,809.0 535.0,856.9 535.3,807.9 535.5,856.9 535.8,807.2 536.0,849.3 536.3,812.2 536.5,851.3 536.8,813.5 537.0,856.0 537.3,811.5 537.5,852.2 537.8,807.2 538.0,856.7 538.3,811.1 538.5,852.8 538.8,811.4 539.0,852.8 539.3,804.0 539.5,853.9 539.8,808.5 540.0,857.3 540.3,808.3 540.5,855.9 540.8,806.4 541.0,850.1 541.3,808.2 541.5,857.7 541.8,808.9 542.0,854.7 542.3,816.2 542.5,855.7 542.8,807.8 543.0,861.5 543.3,808.1 543.5,853.4 543.8,809.8 544.0,866.1 544.3,813.6 544.5,858.4 544.8,812.9 545.0,857.8 545.3,806.8 545.5,853.9 545.8,814.1 546.0,855.9 546.3,814.7 546.5,857.7 546.8,808.4 547.0,852.3 547.3,806.5 547.5,853.1 547.8,802.7 548.0,854.1 548.3,813.9 548.5,850.6 548.8,808.8 549.0,856.4 549.3,816.2 549.5,851.3 549.8,812.3 550.0,857.7 550.3,812.7 550.5,854.2 550.8,813.7 551.0,854.0 551.3,813.4 551.5,852.6 551.8,805.6 552.0,851.0 552.3,811.0 552.5,860.7 552.8,816.2 553.0,854.0 553.3,806.3 553.5,855.8 553.8,809.9 554.0,859.9 554.3,807.8 554.5,852.8 554.8,812.4 555.0,857.1 555.3,809.8 555.5,865.0 555.8,806.7 556.0,855.2 556.3,804.2 556.5,852.8 556.8,802.0 557.0,856.2 557.3,812.4 557.5,858.0 557.8,801.0 558.0,856.4 558.3,808.7 558.5,851.8 558.8,807.9 559.0,859.2 559.3,807.6 559.5,856.9 559.8,806.0 560.0,856.4 560.3,809.8 560.5,852.3 560.8,802.9 561.0,853.3 561.3,810.0 561.5,862.6 561.8,813.6 562.0,860.0 562.3,808.9 562.5,848.2 562.8,809.4 563.0,851.1 563.3,805.0 563.5,854.9 563.8,808.7 564.0,855.1 564.3,807.8 564.5,852.9 564.8,801.8 565.0,851.1 565.3,802.8 565.5,858.3 565.8,809.8 566.0,860.0 566.3,808.3 566.5,850.2 566.8,811.3 567.0,850.8 567.3,813.1 567.5,851.6 567.8,800.8 568.0,853.4 568.3,802.2 568.5,859.5 568.8,808.0 569.0,849.3 569.3,803.9 569.5,853.5 569.8,807.5 570.0,858.0 570.3,805.1 570.5,858.2 570.8,813.8 571.0,853.0 571.3,810.2 571.5,854.7 571.8,811.0 572.0,857.3 572.3,812.1 572.5,855.7 572.8,808.0 573.0,858.3 573.3,796.8 573.5,859.4 573.8,809.8 574.0,865.5 574.3,806.8 574.5,859.2 574.8,810.8 575.0,854.1 575.3,812.1 575.5,861.5 575.8,809.8 576.0,874.8 576.3,811.4 576.5,858.3 576.8,806.5 577.0,855.4 577.3,811.1 577.5,855.6 577.8,808.7 578.0,854.2 578.3,803.7 578.5,854.6 578.8,809.7 579.0,862.4 579.3,811.1 579.5,855.7 579.8,810.6 580.0,855.1 580.3,819.1 580.5,860.4 580.8,810.9 581.0,873.4 581.3,810.2 581.5,857.4 581.8,820.2 582.0,861.5 582.3,821.5 582.5,860.2 582.8,823.1 583.0,868.1 583.3,821.5 583.5,871.0 583.8,830.7 584.0,858.6 584.3,827.3 584.5,857.7 584.8,824.2 585.0,859.6 585.3,832.3 585.5,863.8 585.8,820.4 586.0,864.6 586.3,822.2 586.5,861.9 586.8,817.9 587.0,863.1 587.3,814.0 587.5,865.6 587.8,815.3 588.0,861.4 588.3,814.0 588.5,867.2 588.8,813.8 589.0,864.3 589.3,813.1 589.5,863.1 589.8,814.6 590.0,863.5 590.3,818.8 590.5,863.0 590.8,811.1 591.0,860.8 591.3,815.1 591.5,860.1 591.8,817.7 592.0,857.9 592.3,797.5 592.5,867.7 592.8,816.1 593.0,857.6 593.3,817.1 593.5,858.6 593.8,815.6 594.0,857.9 594.3,809.9 594.5,857.3 594.8,811.7 595.0,863.3 595.3,812.5 595.5,865.5 595.8,815.6 596.0,860.2 596.3,814.0 596.5,862.6 596.8,815.9 597.0,861.0 597.3,818.4 597.5,861.0 597.8,816.9 598.0,870.5 598.3,817.5 598.5,861.4 598.8,814.6 599.0,859.2 599.3,817.0 599.5,856.8 599.8,816.6 600.0,858.3 600.3,812.7 600.5,860.4 600.8,816.4 601.0,865.1 601.3,818.1 601.5,854.4 601.8,814.2 602.0,858.6 602.3,815.9 602.5,861.9 602.8,813.7 603.0,860.1 603.3,815.4 603.5,852.4 603.8,802.6 604.0,859.7 604.3,819.1 604.5,859.8 604.8,815.2 605.0,856.3 605.3,811.7 605.5,856.9 605.8,816.9 606.0,855.9 606.3,815.9 606.5,868.3 606.8,817.4 607.0,857.1 607.3,817.5 607.5,857.9 607.8,814.0 608.0,858.1 608.3,814.3 608.5,859.5 608.8,816.0 609.0,857.5 609.3,809.6 609.5,858.0 609.8,812.5 610.0,856.9 610.3,813.3 610.5,854.0 610.8,814.4 611.0,857.4 611.4,834.5" fill="none" stroke="#4e79a7" stroke-width="1.40" stroke-linejoin="round"/><polyline points="615.8,834.4 615.8,797.6 616.0,864.2 616.3,807.8 616.5,851.4 616.8,812.5 617.0,855.3 617.3,810.2 617.5,855.1 617.8,810.2 618.0,853.9 618.3,814.2 618.5,859.6 618.8,798.4 619.0,860.9 619.3,803.8 619.5,853.5 619.8,812.9 620.0,857.6 620.3,808.9 620.5,862.4 620.8,805.7 621.0,855.2 621.3,807.6 621.5,859.4 621.8,809.0 622.0,853.1 622.3,811.8 622.5,853.0 622.8,810.8 623.0,860.6 623.2,832.5" fill="none" stroke="#4e79a7" stroke-width="1.40" stroke-linejoin="round"/><polyline points="628.7,830.6 628.7,809.0 629.0,853.3 629.2,806.0 629.5,856.7 629.7,808.4 630.0,860.3 630.2,800.9 630.5,851.7 630.7,806.1 631.0,853.1 631.2,801.5 631.5,852.8 631.7,807.9 632.0,862.0 632.2,806.7 632.5,858.4 632.7,800.4 633.0,852.9 633.2,808.8 633.5,854.9 633.7,802.0 634.0,854.8 634.2,808.8 634.5,864.5 634.7,806.8 635.0,854.6 635.2,804.7 635.5,861.1 635.7,811.3 636.0,855.7 636.2,801.0 636.5,856.7 636.7,809.3 637.0,852.8 637.2,809.0 637.5,853.4 637.7,808.5 638.0,856.8 638.2,804.6 638.5,853.1 638.7,804.4 639.0,863.4 639.2,802.4 639.5,859.0 639.7,808.4 640.0,851.5 640.2,808.4 640.5,853.6 640.7,810.7 641.0,856.1 641.2,811.9 641.5,852.8 641.7,804.0 642.0,859.7 642.2,802.9 642.5,854.8 642.7,809.8 643.0,857.6 643.2,810.1 643.5,856.7 643.7,810.5 644.0,862.1 644.2,810.0 644.5,854.0 644.7,808.4 645.0,857.2 645.2,809.5 645.5,854.0 645.7,805.8 646.0,859.4 646.2,803.3 646.5,856.0 646.7,801.6 647.0,857.9 647.2,803.9 647.5,863.2 647.7,803.5 648.0,869.2 648.2,803.9 648.5,859.9 648.7,803.0 649.0,855.8 649.2,808.3 649.5,855.2 649.7,806.6 650.0,859.3 650.2,794.0 650.5,857.7 650.7,808.3 651.0,858.7 651.2,806.4 651.5,856.7 651.7,805.9 652.0,858.5 652.2,806.8 652.5,857.0 652.7,801.5 653.0,857.2 653.2,808.7 653.5,857.0 653.7,806.3 654.0,857.4 654.2,803.1 654.5,858.8 654.7,809.7 655.0,853.7 655.2,804.1 655.5,860.3 655.7,802.1 656.0,855.8 656.2,807.5 656.5,853.9 656.7,801.8 657.0,857.3 657.2,807.6 657.5,857.6 657.7,806.0 658.0,860.9 658.2,810.3 658.5,857.5 658.7,802.3 659.0,869.7 659.2,807.8 659.5,859.1 659.7,799.7 660.0,858.9 660.2,807.0 660.5,862.2 660.7,804.1 661.0,861.4 661.2,807.7 661.5,854.9 661.7,811.7 662.0,854.1 662.2,812.4 662.5,859.3 662.7,812.7 663.0,873.0 663.2,807.8 663.5,861.7 663.7,814.5 664.0,859.5 664.2,811.5 664.5,860.2 664.7,815.8 665.0,862.5 665.2,813.6 665.5,855.7 665.7,815.6 666.0,853.9 666.2,815.3 666.5,868.5 666.7,815.4 667.0,857.4 667.2,815.3 667.5,855.3 667.7,811.9 668.0,859.8 668.2,804.5 668.5,853.5 668.7,812.3 669.0,857.6 669.2,811.3 669.5,853.7 669.7,812.2 670.0,863.6 670.2,814.9 670.5,855.0 670.7,787.5 671.0,855.2 671.2,818.3 671.5,853.1 671.7,818.1 672.0,864.9 672.2,818.2 672.5,865.1 672.7,815.2 673.0,856.5 673.2,817.3 673.5,870.9 673.7,815.0 674.0,852.5 674.2,817.8 674.5,856.6 674.7,815.8 675.0,857.1 675.2,817.5 675.5,862.0 675.7,817.5 676.0,857.7 676.2,814.2 676.5,855.6 676.7,814.6 677.0,860.1 677.2,818.4 677.5,862.2 677.7,813.1 678.0,859.2 678.2,814.4 678.5,857.5 678.7,814.7 679.0,857.4 679.2,807.9 679.5,865.1 679.7,816.0 680.0,859.2 680.2,815.7 680.5,853.5 680.7,819.0 681.0,860.5 681.2,816.6 681.5,854.6 681.7,813.9 682.0,857.8 682.2,812.9 682.5,861.1 682.7,813.1 683.0,858.0 683.2,816.3 683.5,853.3 683.7,813.7 684.0,876.7 684.2,817.4 684.5,865.0 684.7,809.7 685.0,855.6 685.2,816.8 685.5,855.7 685.7,814.8 686.0,862.0 686.2,812.2 686.5,860.1 686.7,819.7 687.0,860.7 687.2,816.9 687.5,853.2 687.7,814.1 688.0,870.9 688.2,808.8 688.5,862.6 688.7,810.5 689.0,866.1 689.2,813.2 689.5,853.3 689.7,815.5 690.0,861.9 690.2,817.5 690.5,856.7 690.7,813.2 691.0,857.1 691.2,812.1 691.5,856.4 691.7,807.1 692.0,861.7 692.2,813.5 692.5,862.3 692.7,810.4 693.0,854.6 693.2,817.2 693.5,854.7 693.7,812.1 694.0,862.1 694.2,811.6 694.5,854.8 694.7,813.8 695.0,855.1 695.2,818.0 695.5,856.9 695.7,811.5 696.0,856.3 696.2,812.5 696.5,855.4 696.7,811.9 697.0,865.7 697.2,809.1 697.5,858.7 697.7,808.5 698.0,853.9 698.2,816.6 698.5,852.6 698.7,812.7 699.0,855.2 699.2,811.5 699.5,859.5 699.7,806.8 700.0,858.4 700.2,809.0 700.5,858.5 700.7,815.7 701.0,857.4 701.2,816.2 701.5,854.6 701.7,816.0 702.0,855.1 702.2,812.5 702.5,853.8" fill="none" stroke="#4e79a7" stroke-width="1.40" stroke-linejoin="round"/><path d="M467.4 834.1L471.3 830.1M611.4 834.5L615.8 834.4M623.2 832.5L628.7 830.6" stroke="#4e79a7" stroke-width="0.7" fill="none"/><path d="M399.85 855.5V861.0M401.35 808.0V801.2M405.35 803.6V800.5M416.35 805.1V788.8M419.35 858.2V861.6M421.35 801.8V801.5M421.85 808.0V805.2M423.35 806.1V805.8M423.85 811.6V804.9M424.35 856.0V874.1M424.35 807.1V806.5M425.35 803.9V798.9M429.85 857.4V859.8M430.85 808.4V807.3M432.85 809.9V807.9M435.85 808.9V799.6M441.35 855.0V855.7M446.85 856.0V856.8M451.35 802.5V799.4M456.85 856.5V859.8M459.35 853.0V856.3M463.85 807.5V806.4M466.35 804.5V800.0M466.85 809.0V801.7M473.05 856.3V858.1M474.05 859.3V866.8M474.55 852.0V863.0M476.05 808.8V804.3M478.05 857.8V859.3M482.55 809.0V808.3M484.55 854.1V858.2M495.05 807.8V801.3M496.05 801.0V797.9M497.05 812.9V810.6M498.05 855.1V858.5M498.05 811.4V800.3M498.55 809.3V807.0M502.55 816.7V796.7M504.05 846.8V848.8M504.05 808.4V804.7M507.55 857.8V862.5M508.05 859.8V861.5M510.05 811.2V803.9M510.55 812.7V797.6M511.05 862.0V864.6M514.55 856.6V864.0M516.05 852.9V858.4M517.05 856.2V859.2M519.55 855.4V857.5M520.05 860.5V866.5M523.05 811.4V805.0M528.05 812.9V812.3M529.05 813.3V812.7M530.05 815.0V814.9M530.55 804.4V800.2M532.05 807.2V797.6M534.55 851.2V852.2M538.05 856.7V866.6M538.05 807.2V805.0M542.05 854.7V859.5M545.55 806.8V804.8M548.05 854.1V858.4M552.55 860.7V863.0M552.55 811.0V802.3M553.55 806.3V797.8M554.05 809.9V804.3M560.05 806.0V797.5M561.55 862.6V866.9M562.55 808.9V805.4M563.05 809.4V806.5M565.05 801.8V797.6M566.55 850.2V850.8M568.55 859.5V859.8M573.55 796.8V792.5M584.55 827.3V824.0M585.55 863.8V879.4M586.05 864.6V864.7M591.55 860.1V863.6M592.05 817.7V811.7M594.55 857.3V857.7M595.05 863.3V865.2M596.55 814.0V812.3M598.55 861.4V861.9M599.05 859.2V873.6M599.05 814.6V813.0M608.05 858.1V863.6M609.55 858.0V859.3M610.55 813.3V812.3M620.05 857.6V865.5M623.05 860.6V863.5M629.95 860.3V875.3M630.45 851.7V852.8M632.45 858.4V863.5M637.45 853.4V854.5M640.45 808.4V807.6M645.45 809.5V808.7M646.95 801.6V798.1M648.45 803.9V801.4M656.95 857.3V857.5M656.95 801.8V800.5M659.45 807.8V804.4M661.45 807.7V805.3M664.95 815.8V815.6M665.45 813.6V809.0M666.45 815.3V812.1M668.95 812.3V811.2M670.95 787.5V786.2M675.45 862.0V862.3M681.45 816.6V813.5M683.45 816.3V814.2M683.95 876.7V879.9M687.45 816.9V816.2M688.95 810.5V810.2M693.45 854.7V862.2M696.95 811.9V811.2M700.45 858.5V864.8" stroke="#4e79a7" stroke-width="0.8" fill="none"/></g>
<rect x="111.50" y="109.50" width="620.00" height="110.00" fill="none" stroke="#000" stroke-width="1.1"/>
<path d="M117.50 219.50V227.50M195.50 219.50V227.50M272.50 219.50V227.50M350.50 219.50V227.50M428.50 219.50V227.50M505.50 219.50V227.50M583.50 219.50V227.50M661.50 219.50V227.50" stroke="#000" stroke-width="1.1" fill="none"/>
<rect x="111.50" y="241.50" width="620.00" height="110.00" fill="none" stroke="#000" stroke-width="1.1"/>
<path d="M117.50 351.50V359.50M195.50 351.50V359.50M272.50 351.50V359.50M350.50 351.50V359.50M428.50 351.50V359.50M505.50 351.50V359.50M583.50 351.50V359.50M661.50 351.50V359.50" stroke="#000" stroke-width="1.1" fill="none"/>
<rect x="111.50" y="373.50" width="620.00" height="110.00" fill="none" stroke="#000" stroke-width="1.1"/>
<path d="M117.50 483.50V491.50M195.50 483.50V491.50M272.50 483.50V491.50M350.50 483.50V491.50M428.50 483.50V491.50M505.50 483.50V491.50M583.50 483.50V491.50M661.50 483.50V491.50" stroke="#000" stroke-width="1.1" fill="none"/>
<rect x="111.50" y="505.50" width="620.00" height="110.00" fill="none" stroke="#000" stroke-width="1.1"/>
<path d="M117.50 615.50V623.50M195.50 615.50V623.50M272.50 615.50V623.50M350.50 615.50V623.50M428.50 615.50V623.50M505.50 615.50V623.50M583.50 615.50V623.50M661.50 615.50V623.50" stroke="#000" stroke-width="1.1" fill="none"/>
<rect x="111.50" y="637.50" width="620.00" height="110.00" fill="none" stroke="#000" stroke-width="1.1"/>
<path d="M117.50 747.50V755.50M195.50 747.50V755.50M272.50 747.50V755.50M350.50 747.50V755.50M428.50 747.50V755.50M505.50 747.50V755.50M583.50 747.50V755.50M661.50 747.50V755.50" stroke="#000" stroke-width="1.1" fill="none"/>
<rect x="111.50" y="769.50" width="620.00" height="110.00" fill="none" stroke="#000" stroke-width="1.1"/>
<path d="M117.50 879.50V887.50M195.50 879.50V887.50M272.50 879.50V887.50M350.50 879.50V887.50M428.50 879.50V887.50M505.50 879.50V887.50M583.50 879.50V887.50M661.50 879.50V887.50" stroke="#000" stroke-width="1.1" fill="none"/>
<path d="M103.50 109.50H111.50M103.50 153.50H111.50M103.50 197.50H111.50" stroke="#000" stroke-width="1.1" fill="none"/>
<text x="97.10" y="115.90" text-anchor="end" class="t">0.0072</text>
<text x="97.10" y="159.90" text-anchor="end" class="t">0.0070</text>
<text x="97.10" y="203.90" text-anchor="end" class="t">0.0068</text>
<path d="M103.50 260.50H111.50M103.50 296.50H111.50M103.50 333.50H111.50" stroke="#000" stroke-width="1.1" fill="none"/>
<text x="97.10" y="266.90" text-anchor="end" class="t">2.0</text>
<text x="97.10" y="302.90" text-anchor="end" class="t">1.8</text>
<text x="97.10" y="339.90" text-anchor="end" class="t">1.6</text>
<path d="M103.50 403.50H111.50M103.50 439.50H111.50M103.50 476.50H111.50" stroke="#000" stroke-width="1.1" fill="none"/>
<text x="97.10" y="409.00" text-anchor="end" class="t">0.00275</text>
<text x="97.10" y="445.90" text-anchor="end" class="t">0.00250</text>
<text x="97.10" y="482.50" text-anchor="end" class="t">0.00225</text>
<path d="M103.50 552.50H111.50M103.50 615.50H111.50" stroke="#000" stroke-width="1.1" fill="none"/>
<text x="97.10" y="558.90" text-anchor="end" class="t">200</text>
<text x="97.10" y="621.90" text-anchor="end" class="t">0</text>
<path d="M103.50 659.50H111.50M103.50 703.50H111.50M103.50 747.50H111.50" stroke="#000" stroke-width="1.1" fill="none"/>
<text x="97.10" y="665.90" text-anchor="end" class="t">0</text>
<text x="97.10" y="709.90" text-anchor="end" class="t">−1</text>
<text x="97.10" y="753.90" text-anchor="end" class="t">−2</text>
<path d="M103.50 790.50H111.50M103.50 824.50H111.50M103.50 859.50H111.50" stroke="#000" stroke-width="1.1" fill="none"/>
<text x="97.10" y="796.90" text-anchor="end" class="t">2.5</text>
<text x="97.10" y="830.90" text-anchor="end" class="t">0.0</text>
<text x="97.10" y="865.90" text-anchor="end" class="t">−2.5</text>
<text x="116.00" y="903.8" text-anchor="middle" class="t">55000</text>
<text x="194.00" y="903.8" text-anchor="middle" class="t">55200</text>
<text x="271.00" y="903.8" text-anchor="middle" class="t">55400</text>
<text x="349.00" y="903.8" text-anchor="middle" class="t">55600</text>
<text x="427.00" y="903.8" text-anchor="middle" class="t">55800</text>
<text x="504.00" y="903.8" text-anchor="middle" class="t">56000</text>
<text x="582.00" y="903.8" text-anchor="middle" class="t">56200</text>
<text x="660.00" y="903.8" text-anchor="middle" class="t">56400</text>
<text x="112.1" y="237.8" class="t">1e−5</text>
<text x="420.6" y="930.2" text-anchor="middle" style="font-size:22.2px;letter-spacing:-0.45px">MJD</text>
<text transform="translate(36.80 166.30) rotate(-90)" text-anchor="middle" style="font-size:22.2px"><tspan class="m">g</tspan></text>
<text transform="translate(63.00 297.70) rotate(-90)" text-anchor="middle" style="font-size:22.2px"><tspan class="m">σ</tspan><tspan class="r" dy="2.9" style="font-size:15.5px">0</tspan><tspan dy="-2.9"> [V]</tspan></text>
<text transform="translate(28.00 428.80) rotate(-90)" text-anchor="middle" style="font-size:22.2px"><tspan class="m">σ</tspan><tspan class="r" dy="2.9" style="font-size:15.5px">0</tspan><tspan dy="-2.9"> [mK]</tspan></text>
<text transform="translate(58.50 562.20) rotate(-90)" text-anchor="middle" style="font-size:22.2px"><tspan class="m">f</tspan><tspan class="r" dx="-1.4" dy="2.6" style="font-size:15.9px">knee</tspan><tspan dy="-2.6"> [mHz]</tspan></text>
<text transform="translate(65.90 693.70) rotate(-90)" text-anchor="middle" style="font-size:22.2px"><tspan class="m">α</tspan></text>
<text transform="translate(50.00 825.45) rotate(-90)" text-anchor="middle" style="font-size:22.2px"><tspan class="m">χ</tspan><tspan class="r" dx="1.9" dy="-9" style="font-size:15.5px">2</tspan></text>
</svg></body></html>
